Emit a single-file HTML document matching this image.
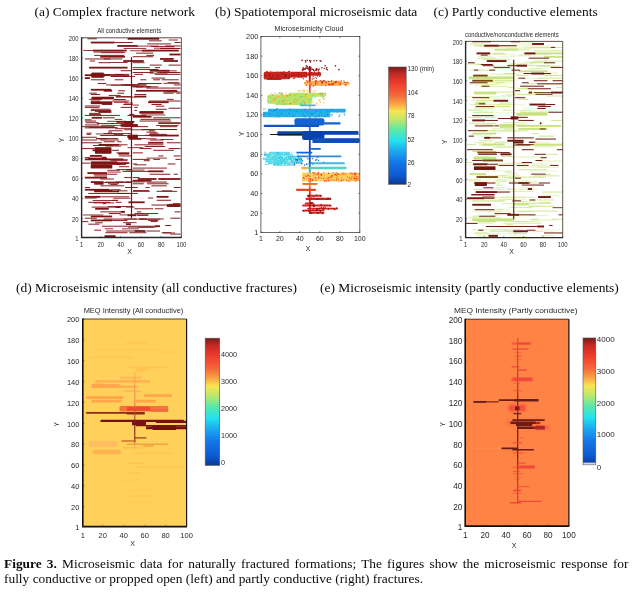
<!DOCTYPE html>
<html><head><meta charset="utf-8"><title>Figure 3</title>
<style>
html,body{margin:0;padding:0;background:#fff;}
body{width:632px;height:592px;position:relative;overflow:hidden;font-family:"Liberation Serif",serif;color:#0a0a0a;}
.h{position:absolute;font-size:13.47px;line-height:16px;white-space:nowrap;}
.cap{position:absolute;left:4px;width:624.5px;font-size:13.4px;line-height:15.3px;text-align:justify;}
svg{position:absolute;left:0;top:0;filter:blur(0.35px);}
svg text{font-family:"Liberation Sans",sans-serif;fill:#2a2a2a;}
</style></head><body>
<svg width="632" height="592" viewBox="0 0 632 592">
<g id="pa">
<rect x="81.6" y="37.8" width="99.7" height="199.7" fill="#fff"/>
<g fill="#7e1414">
<rect x="139.53" y="218.79" width="20.95" height="0.85"/>
<rect x="150.8" y="46.16" width="23.76" height="0.85"/>
<rect x="100.8" y="52.3" width="24.62" height="0.85"/>
<rect x="124.34" y="102.63" width="8.72" height="0.85"/>
<rect x="104.85" y="228.36" width="8.45" height="0.85"/>
<rect x="160.48" y="139" width="12.71" height="0.85"/>
<rect x="92.67" y="200.13" width="25.13" height="0.85"/>
<rect x="168.68" y="39.57" width="9.17" height="0.85"/>
<rect x="167.61" y="82.26" width="11.17" height="0.85"/>
<rect x="119.6" y="214.48" width="29.08" height="0.85"/>
<rect x="167.19" y="90.92" width="10.36" height="0.85"/>
<rect x="103.59" y="133.11" width="27.45" height="0.85"/>
<rect x="100.87" y="124.9" width="28.46" height="0.85"/>
<rect x="82.86" y="214.55" width="20.47" height="0.85"/>
<rect x="114.62" y="118.95" width="7.58" height="0.85"/>
<rect x="123.08" y="222.24" width="13.58" height="0.85"/>
<rect x="162.93" y="232.54" width="12.15" height="0.85"/>
<rect x="127.62" y="147.28" width="15.7" height="0.85"/>
<rect x="83.31" y="50.12" width="19.88" height="0.85"/>
<rect x="155.83" y="70.45" width="20.97" height="0.85"/>
<rect x="147.97" y="129.13" width="28.31" height="0.85"/>
<rect x="100.23" y="159.26" width="27.43" height="0.85"/>
<rect x="141.39" y="114.54" width="23.96" height="0.85"/>
<rect x="88.89" y="127.1" width="28.7" height="0.85"/>
<rect x="94.9" y="111.19" width="14.7" height="0.85"/>
<rect x="107.16" y="120.84" width="19.08" height="0.85"/>
<rect x="128.06" y="226.71" width="25.17" height="0.85"/>
<rect x="93.55" y="51.64" width="29.92" height="0.85"/>
<rect x="153.98" y="47.71" width="20.42" height="0.85"/>
<rect x="146.59" y="157.66" width="20.26" height="0.85"/>
<rect x="168.96" y="203.86" width="9.5" height="0.85"/>
<rect x="149.55" y="72.67" width="17.85" height="0.85"/>
<rect x="92.98" y="145.05" width="19.54" height="0.85"/>
<rect x="94.73" y="147.23" width="16.43" height="0.85"/>
<rect x="163.37" y="82.81" width="16.88" height="0.85"/>
<rect x="122.05" y="228.44" width="16.88" height="0.85"/>
<rect x="122.61" y="76.03" width="12.58" height="0.85"/>
<rect x="120.87" y="84.56" width="25.73" height="0.85"/>
<rect x="109.58" y="62.12" width="17.98" height="0.85"/>
<rect x="126.08" y="169.61" width="18.36" height="0.85"/>
<rect x="139.04" y="218.51" width="24.86" height="0.85"/>
<rect x="110.38" y="184.09" width="6.82" height="0.85"/>
<rect x="123.86" y="218.61" width="12.74" height="0.85"/>
<rect x="105.97" y="84.52" width="28.97" height="0.85"/>
<rect x="132.61" y="104.62" width="6.28" height="0.85"/>
<rect x="107.19" y="169.84" width="12.57" height="0.85"/>
<rect x="107.84" y="206.14" width="25.14" height="0.85"/>
<rect x="110.87" y="84.76" width="28.5" height="0.85"/>
<rect x="155.98" y="125.07" width="22.52" height="0.85"/>
<rect x="95.73" y="133.53" width="18.7" height="0.85"/>
<rect x="138.08" y="226.7" width="17.45" height="0.85"/>
<rect x="132.99" y="190.03" width="16" height="0.85"/>
<rect x="103.55" y="182.12" width="28.47" height="0.85"/>
<rect x="137.65" y="45.65" width="21.28" height="0.85"/>
<rect x="131.04" y="86.27" width="20.07" height="0.85"/>
<rect x="130.06" y="50.34" width="22.46" height="0.85"/>
<rect x="93.9" y="74" width="29.51" height="0.85"/>
<rect x="115.65" y="181.53" width="29.23" height="0.85"/>
<rect x="113.23" y="197.8" width="17.17" height="0.85"/>
<rect x="144.92" y="134.81" width="10.9" height="0.85"/>
<rect x="105.43" y="145.65" width="15.73" height="0.85"/>
<rect x="123.73" y="47.96" width="22.53" height="0.85"/>
<rect x="107.54" y="171.62" width="13.23" height="0.85"/>
<rect x="157.12" y="72.22" width="19.94" height="0.85"/>
<rect x="128.97" y="135.18" width="25.51" height="0.85"/>
<rect x="116.26" y="164" width="9.76" height="0.85"/>
<rect x="124.27" y="129.38" width="29.23" height="0.85"/>
<rect x="111.55" y="123.08" width="21.88" height="0.85"/>
<rect x="93.42" y="202.5" width="20.76" height="0.85"/>
<rect x="116.15" y="96.63" width="19.54" height="0.85"/>
<rect x="87.4" y="38.31" width="9.4" height="0.95"/>
<rect x="127.56" y="37.88" width="31.61" height="1.8"/>
<rect x="148.92" y="40.36" width="12.82" height="0.95"/>
<rect x="90.82" y="41.64" width="23.92" height="1.8"/>
<rect x="114.74" y="42.07" width="17.94" height="0.95"/>
<rect x="174.55" y="42.07" width="5.98" height="0.95"/>
<rect x="147.21" y="43.44" width="23.92" height="0.95"/>
<rect x="117.3" y="45.06" width="20.51" height="1.8"/>
<rect x="165.15" y="45.49" width="15.38" height="0.95"/>
<rect x="160.03" y="48.05" width="20.51" height="0.95"/>
<rect x="93.04" y="49.68" width="33.66" height="1.8"/>
<rect x="142.08" y="49.68" width="36.74" height="1.8"/>
<rect x="136.1" y="52.66" width="17.09" height="0.95"/>
<rect x="169.42" y="53.61" width="11.11" height="1.8"/>
<rect x="94.23" y="54.89" width="29.91" height="0.95"/>
<rect x="146.35" y="54.89" width="7.69" height="0.95"/>
<rect x="100.22" y="55.83" width="24.78" height="1.8"/>
<rect x="132.68" y="56.25" width="20.51" height="0.95"/>
<rect x="84.84" y="58.47" width="25.63" height="0.95"/>
<rect x="103.63" y="58.47" width="18.8" height="0.95"/>
<rect x="160.03" y="58.05" width="13.67" height="1.8"/>
<rect x="89.96" y="60.52" width="5.13" height="0.95"/>
<rect x="123.28" y="60.1" width="20.51" height="1.8"/>
<rect x="163.44" y="60.1" width="14.53" height="1.8"/>
<rect x="98.51" y="62.23" width="11.96" height="0.95"/>
<rect x="132.68" y="62.23" width="11.96" height="0.95"/>
<rect x="149.77" y="64.63" width="11.96" height="0.95"/>
<rect x="168.57" y="64.63" width="11.96" height="0.95"/>
<rect x="89.11" y="66.76" width="38.45" height="1.8"/>
<rect x="132.68" y="67.19" width="17.09" height="0.95"/>
<rect x="154.9" y="67.19" width="5.13" height="0.95"/>
<rect x="132.68" y="69.07" width="25.63" height="0.95"/>
<rect x="120.72" y="70.27" width="10.25" height="0.95"/>
<rect x="149.77" y="69.84" width="19.65" height="1.8"/>
<rect x="132.68" y="71.97" width="20.51" height="0.95"/>
<rect x="160.03" y="71.97" width="20.51" height="0.95"/>
<rect x="90.82" y="73.43" width="13.67" height="1.8"/>
<rect x="114.74" y="73.85" width="14.53" height="0.95"/>
<rect x="134.39" y="73.85" width="8.54" height="0.95"/>
<rect x="154.9" y="73.85" width="25.63" height="0.95"/>
<rect x="84.84" y="74.28" width="25.63" height="1.8"/>
<rect x="90.82" y="74.28" width="13.67" height="1.8"/>
<rect x="90.82" y="75.14" width="13.67" height="1.8"/>
<rect x="110.47" y="75.14" width="18.8" height="1.8"/>
<rect x="91.67" y="72.57" width="11.96" height="1.8"/>
<rect x="91.67" y="75.99" width="11.96" height="1.8"/>
<rect x="84.84" y="77.19" width="5.13" height="1.8"/>
<rect x="151.48" y="77.61" width="13.67" height="0.95"/>
<rect x="90.82" y="79.32" width="13.67" height="0.95"/>
<rect x="114.74" y="79.32" width="8.54" height="0.95"/>
<rect x="140.37" y="79.32" width="5.98" height="0.95"/>
<rect x="153.19" y="79.32" width="6.84" height="0.95"/>
<rect x="161.73" y="79.32" width="17.09" height="0.95"/>
<rect x="97.65" y="83.08" width="8.54" height="0.95"/>
<rect x="137.81" y="83.08" width="23.92" height="0.95"/>
<rect x="124.99" y="84.45" width="21.36" height="0.95"/>
<rect x="173.7" y="84.45" width="6.84" height="0.95"/>
<rect x="136.1" y="86.5" width="13.67" height="0.95"/>
<rect x="146.35" y="87.58" width="34.18" height="0.95"/>
<rect x="163.44" y="91.51" width="17.09" height="0.95"/>
<rect x="90.82" y="94.07" width="9.4" height="0.95"/>
<rect x="134.39" y="94.07" width="11.96" height="0.95"/>
<rect x="113.89" y="99.03" width="11.96" height="0.95"/>
<rect x="84.84" y="105.52" width="15.38" height="0.95"/>
<rect x="90.82" y="108.77" width="19.65" height="0.95"/>
<rect x="155.75" y="108.77" width="11.11" height="0.95"/>
<rect x="89.11" y="113.89" width="11.96" height="0.95"/>
<rect x="129.27" y="113.89" width="5.13" height="0.95"/>
<rect x="140.37" y="118.85" width="29.91" height="0.95"/>
<rect x="85.69" y="122.27" width="12.82" height="0.95"/>
<rect x="158.32" y="122.27" width="22.22" height="0.95"/>
<rect x="84.84" y="127.39" width="29.05" height="0.95"/>
<rect x="141.23" y="129.1" width="6.84" height="0.95"/>
<rect x="160.03" y="129.1" width="17.09" height="0.95"/>
<rect x="86.54" y="132.69" width="5.13" height="0.95"/>
<rect x="149.77" y="132.69" width="8.54" height="0.95"/>
<rect x="81.42" y="139.53" width="15.38" height="0.95"/>
<rect x="100.22" y="139.53" width="18.8" height="0.95"/>
<rect x="149.77" y="139.53" width="13.67" height="0.95"/>
<rect x="132.68" y="86.38" width="10.25" height="0.95"/>
<rect x="146.35" y="86.38" width="11.96" height="0.95"/>
<rect x="90.82" y="88.86" width="20.51" height="1.8"/>
<rect x="103.63" y="89.88" width="8.54" height="1.8"/>
<rect x="118.16" y="90.31" width="6.84" height="0.95"/>
<rect x="136.1" y="89.88" width="41.01" height="1.8"/>
<rect x="89.11" y="92.7" width="7.69" height="0.95"/>
<rect x="117.3" y="92.7" width="6.84" height="0.95"/>
<rect x="163.44" y="92.7" width="10.25" height="0.95"/>
<rect x="176.26" y="92.7" width="4.27" height="0.95"/>
<rect x="108.76" y="94.92" width="11.96" height="0.95"/>
<rect x="115.59" y="96.12" width="15.38" height="0.95"/>
<rect x="134.39" y="95.69" width="11.96" height="1.8"/>
<rect x="91.67" y="96.72" width="22.22" height="1.8"/>
<rect x="91.67" y="97.57" width="22.22" height="1.8"/>
<rect x="89.11" y="98.85" width="12.82" height="0.95"/>
<rect x="166.86" y="98.85" width="6.84" height="0.95"/>
<rect x="90.82" y="100.56" width="9.4" height="0.95"/>
<rect x="112.18" y="100.56" width="17.09" height="0.95"/>
<rect x="148.92" y="100.56" width="31.61" height="0.95"/>
<rect x="90.82" y="101.33" width="21.36" height="1.8"/>
<rect x="113.89" y="101.76" width="13.67" height="0.95"/>
<rect x="148.06" y="101.33" width="20.51" height="1.8"/>
<rect x="90.82" y="102.36" width="21.36" height="1.8"/>
<rect x="101.92" y="103.98" width="10.25" height="0.95"/>
<rect x="123.28" y="103.98" width="9.4" height="0.95"/>
<rect x="151.48" y="103.98" width="10.25" height="0.95"/>
<rect x="155.75" y="105.69" width="8.54" height="0.95"/>
<rect x="84.84" y="106.89" width="14.53" height="0.95"/>
<rect x="120.72" y="106.89" width="10.25" height="0.95"/>
<rect x="134.39" y="106.89" width="3.42" height="0.95"/>
<rect x="168.57" y="107.74" width="11.96" height="0.95"/>
<rect x="90.82" y="109.96" width="20.51" height="0.95"/>
<rect x="134.39" y="109.96" width="2.56" height="0.95"/>
<rect x="98.51" y="111.07" width="12.82" height="1.8"/>
<rect x="139.52" y="111.07" width="23.92" height="1.8"/>
<rect x="139.52" y="111.93" width="23.92" height="1.8"/>
<rect x="89.11" y="112.87" width="11.11" height="0.95"/>
<rect x="84.84" y="114.92" width="35.03" height="0.95"/>
<rect x="127.56" y="114.92" width="18.8" height="0.95"/>
<rect x="132.68" y="115.86" width="18.8" height="1.8"/>
<rect x="91.67" y="116.88" width="10.25" height="1.8"/>
<rect x="102.78" y="117.31" width="11.96" height="0.95"/>
<rect x="153.19" y="117.31" width="27.34" height="0.95"/>
<rect x="84.84" y="119.36" width="6.84" height="0.95"/>
<rect x="84.84" y="120.56" width="11.11" height="0.95"/>
<rect x="139.52" y="120.56" width="31.61" height="0.95"/>
<rect x="116.45" y="120.99" width="17.94" height="1.8"/>
<rect x="124.14" y="120.99" width="8.54" height="1.8"/>
<rect x="124.14" y="122.01" width="8.54" height="1.8"/>
<rect x="96.8" y="123.12" width="17.09" height="0.95"/>
<rect x="158.32" y="123.12" width="22.22" height="0.95"/>
<rect x="84.84" y="124.49" width="14.53" height="0.95"/>
<rect x="120.72" y="124.06" width="17.09" height="1.8"/>
<rect x="124.14" y="125.09" width="13.67" height="1.8"/>
<rect x="81.42" y="126.2" width="33.32" height="0.95"/>
<rect x="120.72" y="126.2" width="27.34" height="0.95"/>
<rect x="160.03" y="126.2" width="17.09" height="0.95"/>
<rect x="114.74" y="128.25" width="16.23" height="0.95"/>
<rect x="108.76" y="130.3" width="13.67" height="0.95"/>
<rect x="148.92" y="130.3" width="5.98" height="0.95"/>
<rect x="107.91" y="131.66" width="4.27" height="0.95"/>
<rect x="146.35" y="131.66" width="10.25" height="0.95"/>
<rect x="86.54" y="133.89" width="4.27" height="0.95"/>
<rect x="113.89" y="133.89" width="9.4" height="0.95"/>
<rect x="148.92" y="133.89" width="17.94" height="0.95"/>
<rect x="100.22" y="135.08" width="27.34" height="0.95"/>
<rect x="127.56" y="134.66" width="10.25" height="1.8"/>
<rect x="150.63" y="134.66" width="28.2" height="1.8"/>
<rect x="127.56" y="135.68" width="10.25" height="1.8"/>
<rect x="81.42" y="136.79" width="15.38" height="0.95"/>
<rect x="127.56" y="136.37" width="10.25" height="1.8"/>
<rect x="95.94" y="138.16" width="22.22" height="0.95"/>
<rect x="137.81" y="138.16" width="8.54" height="0.95"/>
<rect x="96.8" y="138.38" width="10.25" height="0.95"/>
<rect x="128.41" y="137.95" width="12.82" height="1.8"/>
<rect x="146.35" y="138.38" width="10.25" height="0.95"/>
<rect x="103.63" y="141.28" width="11.11" height="0.95"/>
<rect x="117.3" y="141.28" width="4.27" height="0.95"/>
<rect x="81.42" y="142.31" width="20.51" height="0.95"/>
<rect x="148.06" y="141.88" width="15.38" height="1.8"/>
<rect x="166.86" y="142.31" width="13.67" height="0.95"/>
<rect x="98.51" y="143.94" width="20.51" height="1.8"/>
<rect x="119.01" y="144.36" width="8.54" height="0.95"/>
<rect x="134.39" y="144.36" width="29.05" height="0.95"/>
<rect x="144.65" y="146.07" width="20.51" height="0.95"/>
<rect x="81.42" y="148.12" width="13.67" height="0.95"/>
<rect x="95.09" y="147.69" width="16.23" height="1.8"/>
<rect x="139.52" y="148.12" width="11.96" height="0.95"/>
<rect x="168.57" y="148.12" width="11.96" height="0.95"/>
<rect x="95.09" y="148.55" width="16.23" height="1.8"/>
<rect x="92.53" y="149.4" width="18.8" height="1.8"/>
<rect x="112.18" y="149.83" width="6.84" height="0.95"/>
<rect x="153.19" y="149.83" width="20.51" height="0.95"/>
<rect x="95.09" y="150.26" width="16.23" height="1.8"/>
<rect x="95.09" y="151.11" width="16.23" height="1.8"/>
<rect x="95.09" y="151.97" width="16.23" height="1.8"/>
<rect x="116.45" y="152.39" width="12.82" height="0.95"/>
<rect x="132.68" y="152.39" width="10.25" height="0.95"/>
<rect x="118.16" y="152.82" width="11.11" height="1.8"/>
<rect x="89.96" y="155.04" width="11.96" height="1.8"/>
<rect x="119.01" y="155.47" width="11.96" height="0.95"/>
<rect x="158.32" y="155.47" width="5.13" height="0.95"/>
<rect x="173.7" y="155.47" width="6.84" height="0.95"/>
<rect x="84.84" y="157.18" width="5.13" height="0.95"/>
<rect x="101.92" y="156.75" width="4.27" height="1.8"/>
<rect x="88.25" y="157.61" width="18.8" height="1.8"/>
<rect x="84.84" y="158.46" width="38.45" height="1.8"/>
<rect x="132.68" y="158.89" width="17.09" height="0.95"/>
<rect x="153.19" y="158.89" width="6.84" height="0.95"/>
<rect x="175.41" y="158.89" width="5.13" height="0.95"/>
<rect x="110.47" y="160.25" width="17.09" height="0.95"/>
<rect x="143.79" y="160.25" width="5.98" height="0.95"/>
<rect x="90.82" y="161.37" width="26.49" height="1.8"/>
<rect x="81.42" y="162.65" width="8.54" height="0.95"/>
<rect x="90.82" y="162.22" width="38.45" height="1.8"/>
<rect x="90.82" y="163.07" width="29.91" height="1.8"/>
<rect x="132.68" y="163.5" width="4.27" height="0.95"/>
<rect x="167.72" y="163.5" width="7.69" height="0.95"/>
<rect x="134.39" y="164.35" width="11.96" height="0.95"/>
<rect x="90.82" y="164.95" width="21.36" height="1.8"/>
<rect x="90.82" y="165.81" width="21.36" height="1.8"/>
<rect x="119.01" y="166.23" width="10.25" height="0.95"/>
<rect x="90.82" y="166.66" width="21.36" height="1.8"/>
<rect x="132.68" y="167.6" width="34.18" height="0.95"/>
<rect x="116.45" y="169.14" width="14.53" height="0.95"/>
<rect x="122.43" y="170.85" width="25.63" height="0.95"/>
<rect x="148.06" y="170.42" width="15.38" height="1.8"/>
<rect x="87.4" y="172.13" width="19.65" height="1.8"/>
<rect x="93.38" y="173.75" width="23.92" height="0.95"/>
<rect x="149.77" y="173.75" width="20.51" height="0.95"/>
<rect x="173.7" y="173.75" width="4.27" height="0.95"/>
<rect x="94.23" y="175.46" width="12.82" height="0.95"/>
<rect x="84.84" y="176.75" width="22.22" height="1.8"/>
<rect x="124.14" y="177.17" width="6.84" height="0.95"/>
<rect x="132.68" y="177.17" width="6.84" height="0.95"/>
<rect x="100.22" y="178.54" width="13.67" height="0.95"/>
<rect x="137.81" y="178.11" width="18.8" height="1.8"/>
<rect x="158.32" y="178.11" width="22.22" height="1.8"/>
<rect x="132.68" y="179.82" width="18.8" height="1.8"/>
<rect x="90.82" y="181.19" width="12.82" height="1.8"/>
<rect x="105.34" y="181.61" width="17.94" height="0.95"/>
<rect x="125.85" y="181.61" width="5.13" height="0.95"/>
<rect x="146.35" y="181.61" width="20.51" height="0.95"/>
<rect x="94.23" y="182.9" width="9.4" height="1.8"/>
<rect x="107.91" y="183.32" width="11.11" height="0.95"/>
<rect x="132.68" y="183.32" width="11.11" height="0.95"/>
<rect x="147.21" y="183.32" width="21.36" height="0.95"/>
<rect x="100.22" y="185.37" width="23.92" height="0.95"/>
<rect x="151.48" y="185.37" width="15.38" height="0.95"/>
<rect x="84.84" y="187.08" width="5.13" height="0.95"/>
<rect x="124.99" y="187.08" width="12.82" height="0.95"/>
<rect x="145.5" y="187.08" width="4.27" height="0.95"/>
<rect x="173.7" y="187.08" width="6.84" height="0.95"/>
<rect x="84.84" y="188.88" width="24.78" height="1.8"/>
<rect x="110.47" y="189.3" width="10.25" height="0.95"/>
<rect x="94.23" y="190.42" width="24.78" height="1.8"/>
<rect x="132.68" y="190.84" width="17.09" height="0.95"/>
<rect x="156.61" y="190.84" width="20.51" height="0.95"/>
<rect x="94.23" y="189.95" width="17.94" height="1.8"/>
<rect x="117.3" y="190.38" width="10.25" height="0.95"/>
<rect x="161.73" y="190.38" width="10.25" height="0.95"/>
<rect x="88.25" y="192.94" width="41.01" height="0.95"/>
<rect x="117.3" y="192.94" width="20.51" height="0.95"/>
<rect x="84.84" y="195.94" width="15.38" height="1.8"/>
<rect x="100.22" y="196.36" width="29.05" height="0.95"/>
<rect x="156.61" y="195.94" width="11.96" height="1.8"/>
<rect x="84.84" y="197.56" width="11.96" height="0.95"/>
<rect x="148.06" y="197.56" width="5.13" height="0.95"/>
<rect x="112.18" y="199.78" width="5.98" height="0.95"/>
<rect x="156.61" y="199.78" width="14.53" height="0.95"/>
<rect x="88.25" y="201.83" width="22.22" height="0.95"/>
<rect x="115.59" y="201.83" width="5.98" height="0.95"/>
<rect x="128.41" y="201.4" width="16.23" height="1.8"/>
<rect x="102.78" y="203.2" width="3.42" height="0.95"/>
<rect x="172.84" y="203.2" width="7.69" height="0.95"/>
<rect x="151.48" y="204.56" width="15.38" height="0.95"/>
<rect x="166.86" y="204.14" width="13.67" height="1.8"/>
<rect x="166.86" y="205.16" width="13.67" height="1.8"/>
<rect x="91.67" y="206.61" width="29.05" height="0.95"/>
<rect x="115.59" y="206.19" width="5.13" height="1.8"/>
<rect x="125.85" y="206.61" width="8.54" height="0.95"/>
<rect x="95.09" y="207.9" width="13.67" height="1.8"/>
<rect x="134.39" y="208.32" width="18.8" height="0.95"/>
<rect x="154.9" y="208.32" width="8.54" height="0.95"/>
<rect x="100.22" y="211.4" width="23.92" height="0.95"/>
<rect x="120.72" y="210.97" width="4.27" height="1.8"/>
<rect x="136.96" y="211.4" width="4.27" height="0.95"/>
<rect x="174.55" y="211.4" width="5.98" height="0.95"/>
<rect x="108.76" y="213.11" width="11.96" height="0.95"/>
<rect x="134.39" y="213.11" width="23.92" height="0.95"/>
<rect x="127.56" y="214.39" width="8.54" height="1.8"/>
<rect x="136.96" y="214.82" width="11.11" height="0.95"/>
<rect x="90.82" y="215.59" width="21.36" height="1.8"/>
<rect x="84.84" y="217.72" width="11.96" height="0.95"/>
<rect x="170.28" y="217.72" width="10.25" height="0.95"/>
<rect x="103.63" y="218.58" width="23.92" height="0.95"/>
<rect x="127.56" y="218.58" width="18.8" height="0.95"/>
<rect x="90.82" y="219.52" width="21.36" height="1.8"/>
<rect x="112.18" y="219.94" width="15.38" height="0.95"/>
<rect x="148.06" y="219.94" width="10.25" height="0.95"/>
<rect x="81.42" y="221.14" width="6.84" height="0.95"/>
<rect x="150.63" y="221.14" width="6.84" height="0.95"/>
<rect x="95.09" y="222.34" width="7.69" height="0.95"/>
<rect x="88.25" y="223.7" width="11.11" height="0.95"/>
<rect x="125.85" y="223.28" width="5.13" height="1.8"/>
<rect x="165.15" y="225.07" width="5.98" height="0.95"/>
<rect x="101.92" y="225.75" width="56.39" height="0.95"/>
<rect x="154.9" y="225.33" width="5.13" height="1.8"/>
<rect x="94.23" y="229.68" width="6.84" height="0.95"/>
<rect x="106.2" y="230.54" width="28.2" height="0.95"/>
<rect x="134.39" y="230.11" width="11.11" height="1.8"/>
<rect x="146.35" y="230.54" width="13.67" height="0.95"/>
<rect x="105.34" y="232.25" width="22.22" height="0.95"/>
<rect x="129.27" y="232.25" width="17.09" height="0.95"/>
<rect x="161.73" y="232.25" width="9.4" height="0.95"/>
<rect x="170.28" y="233.61" width="10.25" height="0.95"/>
<rect x="104.49" y="235.24" width="11.11" height="1.8"/>
</g>
<line x1="131.5" y1="57" x2="131.5" y2="218.2" stroke="#6a1414" stroke-width="1.2"/>
<path d="M81.6 37.8H181.3V237.5" fill="none" stroke="#3a1a1a" stroke-width="0.8"/>
<path d="M81.6 37.3V237.5H181.70000000000002" fill="none" stroke="#26282c" stroke-width="1.4"/>
<text x="78.6" y="40.92" text-anchor="end" font-size="7" textLength="9.81" lengthAdjust="spacingAndGlyphs">200</text><line x1="81.6" y1="37.8" x2="83.1" y2="37.8" stroke="#333" stroke-width="0.6"/><text x="78.6" y="60.99" text-anchor="end" font-size="7" textLength="9.81" lengthAdjust="spacingAndGlyphs">180</text><line x1="81.6" y1="57.87" x2="83.1" y2="57.87" stroke="#333" stroke-width="0.6"/><text x="78.6" y="81.06" text-anchor="end" font-size="7" textLength="9.81" lengthAdjust="spacingAndGlyphs">160</text><line x1="81.6" y1="77.94" x2="83.1" y2="77.94" stroke="#333" stroke-width="0.6"/><text x="78.6" y="101.13" text-anchor="end" font-size="7" textLength="9.81" lengthAdjust="spacingAndGlyphs">140</text><line x1="81.6" y1="98.01" x2="83.1" y2="98.01" stroke="#333" stroke-width="0.6"/><text x="78.6" y="121.2" text-anchor="end" font-size="7" textLength="9.81" lengthAdjust="spacingAndGlyphs">120</text><line x1="81.6" y1="118.08" x2="83.1" y2="118.08" stroke="#333" stroke-width="0.6"/><text x="78.6" y="141.27" text-anchor="end" font-size="7" textLength="9.81" lengthAdjust="spacingAndGlyphs">100</text><line x1="81.6" y1="138.15" x2="83.1" y2="138.15" stroke="#333" stroke-width="0.6"/><text x="78.6" y="161.34" text-anchor="end" font-size="7" textLength="6.54" lengthAdjust="spacingAndGlyphs">80</text><line x1="81.6" y1="158.22" x2="83.1" y2="158.22" stroke="#333" stroke-width="0.6"/><text x="78.6" y="181.41" text-anchor="end" font-size="7" textLength="6.54" lengthAdjust="spacingAndGlyphs">60</text><line x1="81.6" y1="178.29" x2="83.1" y2="178.29" stroke="#333" stroke-width="0.6"/><text x="78.6" y="201.48" text-anchor="end" font-size="7" textLength="6.54" lengthAdjust="spacingAndGlyphs">40</text><line x1="81.6" y1="198.36" x2="83.1" y2="198.36" stroke="#333" stroke-width="0.6"/><text x="78.6" y="221.55" text-anchor="end" font-size="7" textLength="6.54" lengthAdjust="spacingAndGlyphs">20</text><line x1="81.6" y1="218.43" x2="83.1" y2="218.43" stroke="#333" stroke-width="0.6"/><text x="78.6" y="240.62" text-anchor="end" font-size="7" textLength="3.27" lengthAdjust="spacingAndGlyphs">1</text><line x1="81.6" y1="237.5" x2="83.1" y2="237.5" stroke="#333" stroke-width="0.6"/>
<text x="81.6" y="247.1" text-anchor="middle" font-size="7" textLength="3.27" lengthAdjust="spacingAndGlyphs">1</text><line x1="81.6" y1="237.5" x2="81.6" y2="236" stroke="#333" stroke-width="0.6"/><text x="100.73" y="247.1" text-anchor="middle" font-size="7" textLength="6.54" lengthAdjust="spacingAndGlyphs">20</text><line x1="100.73" y1="237.5" x2="100.73" y2="236" stroke="#333" stroke-width="0.6"/><text x="120.88" y="247.1" text-anchor="middle" font-size="7" textLength="6.54" lengthAdjust="spacingAndGlyphs">40</text><line x1="120.88" y1="237.5" x2="120.88" y2="236" stroke="#333" stroke-width="0.6"/><text x="141.02" y="247.1" text-anchor="middle" font-size="7" textLength="6.54" lengthAdjust="spacingAndGlyphs">60</text><line x1="141.02" y1="237.5" x2="141.02" y2="236" stroke="#333" stroke-width="0.6"/><text x="161.16" y="247.1" text-anchor="middle" font-size="7" textLength="6.54" lengthAdjust="spacingAndGlyphs">80</text><line x1="161.16" y1="237.5" x2="161.16" y2="236" stroke="#333" stroke-width="0.6"/><text x="181.3" y="247.1" text-anchor="middle" font-size="7" textLength="9.81" lengthAdjust="spacingAndGlyphs">100</text><line x1="181.3" y1="237.5" x2="181.3" y2="236" stroke="#333" stroke-width="0.6"/>
<text x="129.2" y="33.2" text-anchor="middle" font-size="6.6" textLength="64" lengthAdjust="spacingAndGlyphs">All conductive elements</text><text x="129.5" y="254" text-anchor="middle" font-size="7">X</text><text transform="translate(63.5,140.2) rotate(-90)" text-anchor="middle" font-size="7">Y</text>
</g>
<g id="pc">
<rect x="465.6" y="41.4" width="97.1" height="196.2" fill="#fff"/>
<rect x="507.76" y="162.55" width="21.57" height="1.1" fill="#cfe68a" fill-opacity="0.35"/>
<rect x="532.04" y="164.68" width="13.7" height="1.1" fill="#cfe68a" fill-opacity="0.45"/>
<rect x="492.17" y="65.64" width="10.82" height="1.1" fill="#cfe68a" fill-opacity="0.35"/>
<rect x="507.13" y="144.68" width="27.03" height="1.1" fill="#cfe68a" fill-opacity="0.35"/>
<rect x="508.81" y="202.69" width="30.17" height="1.1" fill="#cfe68a" fill-opacity="0.35"/>
<rect x="469.64" y="104.06" width="9.89" height="1.1" fill="#cfe68a" fill-opacity="0.6"/>
<rect x="512.29" y="93.91" width="17.79" height="1.1" fill="#cfe68a" fill-opacity="0.35"/>
<rect x="466.96" y="63.57" width="16.82" height="1.1" fill="#cfe68a" fill-opacity="0.6"/>
<rect x="507.89" y="63.72" width="20.2" height="1.1" fill="#cfe68a" fill-opacity="0.6"/>
<rect x="499.61" y="49.2" width="30.74" height="1.1" fill="#cfe68a" fill-opacity="0.45"/>
<rect x="530.17" y="142.12" width="20.01" height="1.1" fill="#cfe68a" fill-opacity="0.45"/>
<rect x="466.63" y="96.18" width="33.42" height="1.1" fill="#cfe68a" fill-opacity="0.45"/>
<rect x="538.17" y="144.35" width="22.1" height="1.1" fill="#cfe68a" fill-opacity="0.35"/>
<rect x="519.71" y="111.98" width="26.88" height="1.1" fill="#cfe68a" fill-opacity="0.6"/>
<rect x="540.95" y="73.48" width="17.98" height="1.1" fill="#cfe68a" fill-opacity="0.35"/>
<rect x="471.64" y="168.45" width="11.03" height="1.1" fill="#cfe68a" fill-opacity="0.35"/>
<rect x="508.05" y="231.42" width="13.65" height="1.1" fill="#cfe68a" fill-opacity="0.6"/>
<rect x="474.5" y="150.75" width="27.31" height="1.1" fill="#cfe68a" fill-opacity="0.45"/>
<rect x="543.31" y="194.78" width="16.09" height="1.1" fill="#cfe68a" fill-opacity="0.45"/>
<rect x="498.45" y="199.03" width="14.32" height="1.1" fill="#cfe68a" fill-opacity="0.45"/>
<rect x="479.16" y="156.37" width="9.26" height="1.1" fill="#cfe68a" fill-opacity="0.35"/>
<rect x="489.49" y="61.32" width="17.87" height="1.1" fill="#cfe68a" fill-opacity="0.45"/>
<rect x="483.52" y="196.84" width="25.48" height="1.1" fill="#cfe68a" fill-opacity="0.35"/>
<rect x="537.1" y="166.82" width="21.6" height="1.1" fill="#cfe68a" fill-opacity="0.45"/>
<rect x="477.77" y="81.67" width="34" height="1.1" fill="#cfe68a" fill-opacity="0.45"/>
<rect x="482.21" y="91.68" width="32.53" height="1.1" fill="#cfe68a" fill-opacity="0.35"/>
<rect x="478.18" y="142.61" width="36.21" height="1.1" fill="#cfe68a" fill-opacity="0.35"/>
<rect x="470.62" y="69.38" width="10.35" height="1.1" fill="#cfe68a" fill-opacity="0.6"/>
<rect x="522.93" y="107.99" width="15.15" height="1.1" fill="#cfe68a" fill-opacity="0.35"/>
<rect x="504.24" y="229.53" width="22.73" height="1.1" fill="#cfe68a" fill-opacity="0.45"/>
<rect x="511.49" y="201.03" width="14.85" height="1.1" fill="#cfe68a" fill-opacity="0.6"/>
<rect x="540.46" y="235.01" width="14.37" height="1.1" fill="#cfe68a" fill-opacity="0.6"/>
<rect x="485.22" y="53.31" width="20.34" height="1.1" fill="#cfe68a" fill-opacity="0.6"/>
<rect x="535.85" y="65.54" width="23.93" height="1.1" fill="#cfe68a" fill-opacity="0.6"/>
<rect x="504.5" y="221.17" width="37.41" height="1.1" fill="#cfe68a" fill-opacity="0.45"/>
<rect x="530.7" y="164.85" width="25.7" height="1.1" fill="#cfe68a" fill-opacity="0.35"/>
<rect x="469.21" y="197" width="17.35" height="1.1" fill="#cfe68a" fill-opacity="0.6"/>
<rect x="493.07" y="78.04" width="10.02" height="1.1" fill="#cfe68a" fill-opacity="0.45"/>
<rect x="493.63" y="53.74" width="21.59" height="1.1" fill="#cfe68a" fill-opacity="0.35"/>
<rect x="475.02" y="130.17" width="30.11" height="1.1" fill="#cfe68a" fill-opacity="0.35"/>
<rect x="472.26" y="150.73" width="22.2" height="1.1" fill="#cfe68a" fill-opacity="0.45"/>
<rect x="501.65" y="203.08" width="33.9" height="1.1" fill="#cfe68a" fill-opacity="0.6"/>
<rect x="508.99" y="63.35" width="25.48" height="1.1" fill="#cfe68a" fill-opacity="0.45"/>
<rect x="517.01" y="231.16" width="37.8" height="1.1" fill="#cfe68a" fill-opacity="0.35"/>
<rect x="496.94" y="162.78" width="28.82" height="1.1" fill="#cfe68a" fill-opacity="0.45"/>
<rect x="503.41" y="122.24" width="23.56" height="1.1" fill="#cfe68a" fill-opacity="0.6"/>
<rect x="549.35" y="71.68" width="8.67" height="1.1" fill="#cfe68a" fill-opacity="0.35"/>
<rect x="499.33" y="45.34" width="27.8" height="1.1" fill="#cfe68a" fill-opacity="0.45"/>
<rect x="480.12" y="85.97" width="28.34" height="1.1" fill="#cfe68a" fill-opacity="0.6"/>
<rect x="496.34" y="103.9" width="27.8" height="1.1" fill="#cfe68a" fill-opacity="0.35"/>
<rect x="517.07" y="237.57" width="15.52" height="1.1" fill="#cfe68a" fill-opacity="0.45"/>
<rect x="510.66" y="124.03" width="19.53" height="1.1" fill="#cfe68a" fill-opacity="0.45"/>
<rect x="527.04" y="53.63" width="22.89" height="1.1" fill="#cfe68a" fill-opacity="0.6"/>
<rect x="473.65" y="164.47" width="32.66" height="1.1" fill="#cfe68a" fill-opacity="0.45"/>
<rect x="490.38" y="176.72" width="32.93" height="1.1" fill="#cfe68a" fill-opacity="0.6"/>
<rect x="521.84" y="202.95" width="29.49" height="1.1" fill="#cfe68a" fill-opacity="0.45"/>
<rect x="483.91" y="198.66" width="32.86" height="1.1" fill="#cfe68a" fill-opacity="0.35"/>
<rect x="494.47" y="211.23" width="16.43" height="1.1" fill="#cfe68a" fill-opacity="0.45"/>
<rect x="494.1" y="91.59" width="27.23" height="1.1" fill="#cfe68a" fill-opacity="0.6"/>
<rect x="477.87" y="55.81" width="15.12" height="1.1" fill="#cfe68a" fill-opacity="0.45"/>
<rect x="513.03" y="211.14" width="21.39" height="1.1" fill="#cfe68a" fill-opacity="0.6"/>
<rect x="506.54" y="94.09" width="36.75" height="1.1" fill="#cfe68a" fill-opacity="0.6"/>
<rect x="467.48" y="164.62" width="13.36" height="1.1" fill="#cfe68a" fill-opacity="0.45"/>
<rect x="488.86" y="132.3" width="13.37" height="1.1" fill="#cfe68a" fill-opacity="0.35"/>
<rect x="538.46" y="83.74" width="23.01" height="1.1" fill="#cfe68a" fill-opacity="0.35"/>
<rect x="471.82" y="229.17" width="35.19" height="1.1" fill="#cfe68a" fill-opacity="0.6"/>
<rect x="512.57" y="43.33" width="21.61" height="1.1" fill="#cfe68a" fill-opacity="0.35"/>
<rect x="500.54" y="130.24" width="27.58" height="1.1" fill="#cfe68a" fill-opacity="0.35"/>
<rect x="472.3" y="209.29" width="37.47" height="1.1" fill="#cfe68a" fill-opacity="0.45"/>
<rect x="539.23" y="65.91" width="14.4" height="1.1" fill="#cfe68a" fill-opacity="0.35"/>
<rect x="520.48" y="110.31" width="37.3" height="1.1" fill="#cfe68a" fill-opacity="0.45"/>
<rect x="472.94" y="156.43" width="18.46" height="1.1" fill="#cfe68a" fill-opacity="0.6"/>
<rect x="497.82" y="49.29" width="31.05" height="1.1" fill="#cfe68a" fill-opacity="0.45"/>
<rect x="469.21" y="180.66" width="20.87" height="1.1" fill="#cfe68a" fill-opacity="0.45"/>
<rect x="539.57" y="229.25" width="22.12" height="1.1" fill="#cfe68a" fill-opacity="0.35"/>
<rect x="529.42" y="170.71" width="28.68" height="1.1" fill="#cfe68a" fill-opacity="0.35"/>
<rect x="485.31" y="178.78" width="10.58" height="1.1" fill="#cfe68a" fill-opacity="0.35"/>
<rect x="478.15" y="174.91" width="24.85" height="1.1" fill="#cfe68a" fill-opacity="0.35"/>
<rect x="519.9" y="200.78" width="15.7" height="1.1" fill="#cfe68a" fill-opacity="0.45"/>
<rect x="497.03" y="190.86" width="37.05" height="1.1" fill="#cfe68a" fill-opacity="0.6"/>
<rect x="502.34" y="198.87" width="24.08" height="1.1" fill="#cfe68a" fill-opacity="0.35"/>
<rect x="496.54" y="146.45" width="37.08" height="1.1" fill="#cfe68a" fill-opacity="0.35"/>
<rect x="474.38" y="85.56" width="11.66" height="1.1" fill="#cfe68a" fill-opacity="0.35"/>
<rect x="534.12" y="146.28" width="21.77" height="1.1" fill="#cfe68a" fill-opacity="0.6"/>
<rect x="491.16" y="164.61" width="22.79" height="1.1" fill="#cfe68a" fill-opacity="0.45"/>
<rect x="516.87" y="109.84" width="13.74" height="1.1" fill="#cfe68a" fill-opacity="0.45"/>
<rect x="479.98" y="45.53" width="9.07" height="1.1" fill="#cfe68a" fill-opacity="0.6"/>
<rect x="482.59" y="170.42" width="29.71" height="1.1" fill="#cfe68a" fill-opacity="0.35"/>
<rect x="525.92" y="202.83" width="25.47" height="1.1" fill="#cfe68a" fill-opacity="0.45"/>
<rect x="524.65" y="47.37" width="29.04" height="1.1" fill="#cfe68a" fill-opacity="0.6"/>
<rect x="504.99" y="180.58" width="32.76" height="1.1" fill="#cfe68a" fill-opacity="0.35"/>
<rect x="482.12" y="98.15" width="24.02" height="1.1" fill="#cfe68a" fill-opacity="0.35"/>
<rect x="476.08" y="233.36" width="25.6" height="1.1" fill="#cfe68a" fill-opacity="0.6"/>
<rect x="485.56" y="124.43" width="35.08" height="1.1" fill="#cfe68a" fill-opacity="0.45"/>
<rect x="547.02" y="67.42" width="14.54" height="1.1" fill="#cfe68a" fill-opacity="0.45"/>
<rect x="473.93" y="142.14" width="11.98" height="1.1" fill="#cfe68a" fill-opacity="0.6"/>
<rect x="516.5" y="93.84" width="24.3" height="1.1" fill="#cfe68a" fill-opacity="0.35"/>
<rect x="472.66" y="188.95" width="31.97" height="1.1" fill="#cfe68a" fill-opacity="0.6"/>
<rect x="508.89" y="130.26" width="11.46" height="1.1" fill="#cfe68a" fill-opacity="0.35"/>
<rect x="516.47" y="166.38" width="32.99" height="1.1" fill="#cfe68a" fill-opacity="0.45"/>
<rect x="506" y="188.83" width="30.86" height="1.1" fill="#cfe68a" fill-opacity="0.45"/>
<rect x="483.23" y="84.09" width="13.54" height="1.1" fill="#cfe68a" fill-opacity="0.35"/>
<rect x="471.82" y="219.12" width="10.86" height="1.1" fill="#cfe68a" fill-opacity="0.45"/>
<rect x="502.69" y="174.61" width="17.8" height="1.1" fill="#cfe68a" fill-opacity="0.45"/>
<rect x="467.51" y="222.9" width="26.03" height="1.1" fill="#cfe68a" fill-opacity="0.45"/>
<rect x="503.67" y="233.2" width="13.44" height="1.1" fill="#cfe68a" fill-opacity="0.45"/>
<rect x="473.14" y="45.31" width="26.15" height="1.1" fill="#cfe68a" fill-opacity="0.45"/>
<rect x="511.03" y="205.26" width="32.05" height="1.1" fill="#cfe68a" fill-opacity="0.35"/>
<rect x="501.45" y="130.44" width="25.99" height="1.1" fill="#cfe68a" fill-opacity="0.6"/>
<rect x="475.75" y="235.47" width="16.39" height="1.1" fill="#cfe68a" fill-opacity="0.6"/>
<rect x="494.02" y="180.88" width="12" height="1.1" fill="#cfe68a" fill-opacity="0.6"/>
<rect x="492.63" y="229.05" width="30.96" height="1.1" fill="#cfe68a" fill-opacity="0.6"/>
<rect x="474.47" y="134.59" width="17.05" height="1.1" fill="#cfe68a" fill-opacity="0.35"/>
<rect x="489.97" y="214.98" width="9.49" height="1.1" fill="#cfe68a" fill-opacity="0.45"/>
<rect x="504.94" y="180.51" width="27.79" height="1.1" fill="#cfe68a" fill-opacity="0.35"/>
<rect x="503.28" y="222.95" width="38" height="1.1" fill="#cfe68a" fill-opacity="0.6"/>
<rect x="467.92" y="200.72" width="37.4" height="1.1" fill="#cfe68a" fill-opacity="0.45"/>
<rect x="498.48" y="55.68" width="15.7" height="1.1" fill="#cfe68a" fill-opacity="0.35"/>
<rect x="474.07" y="107.91" width="19.27" height="1.1" fill="#cfe68a" fill-opacity="0.6"/>
<rect x="502.45" y="176.76" width="24.5" height="1.1" fill="#cfe68a" fill-opacity="0.45"/>
<rect x="521.62" y="61.61" width="27.14" height="1.1" fill="#cfe68a" fill-opacity="0.35"/>
<rect x="469.5" y="83.73" width="30.78" height="1.1" fill="#cfe68a" fill-opacity="0.45"/>
<rect x="499.89" y="196.66" width="33.67" height="1.1" fill="#cfe68a" fill-opacity="0.6"/>
<rect x="505.83" y="196.81" width="20.62" height="1.1" fill="#cfe68a" fill-opacity="0.35"/>
<rect x="518.04" y="187.08" width="16.57" height="1.1" fill="#cfe68a" fill-opacity="0.35"/>
<rect x="486.02" y="45.58" width="29.5" height="1.1" fill="#cfe68a" fill-opacity="0.35"/>
<rect x="480.04" y="237.43" width="9.28" height="1.1" fill="#cfe68a" fill-opacity="0.45"/>
<rect x="511.63" y="55.57" width="34.93" height="1.1" fill="#cfe68a" fill-opacity="0.35"/>
<rect x="470.92" y="99.92" width="36.33" height="1.1" fill="#cfe68a" fill-opacity="0.6"/>
<rect x="526.72" y="53.51" width="15.53" height="1.1" fill="#cfe68a" fill-opacity="0.35"/>
<rect x="475.24" y="106.08" width="35.28" height="1.1" fill="#cfe68a" fill-opacity="0.45"/>
<rect x="502.3" y="73.52" width="9.51" height="1.1" fill="#cfe68a" fill-opacity="0.45"/>
<rect x="478.42" y="136.29" width="18.7" height="1.1" fill="#cfe68a" fill-opacity="0.35"/>
<rect x="511.43" y="207.07" width="20.51" height="1.1" fill="#cfe68a" fill-opacity="0.6"/>
<rect x="523.27" y="78.01" width="18.92" height="1.1" fill="#cfe68a" fill-opacity="0.35"/>
<rect x="506.64" y="172.92" width="11.87" height="1.1" fill="#cfe68a" fill-opacity="0.35"/>
<rect x="491.15" y="112.15" width="26.75" height="1.1" fill="#cfe68a" fill-opacity="0.35"/>
<rect x="508.11" y="206.89" width="24.95" height="1.1" fill="#cfe68a" fill-opacity="0.45"/>
<rect x="486.87" y="211.31" width="13.69" height="1.1" fill="#cfe68a" fill-opacity="0.35"/>
<rect x="471.82" y="111.94" width="9.19" height="1.1" fill="#cfe68a" fill-opacity="0.45"/>
<rect x="473.61" y="182.65" width="26.7" height="1.1" fill="#cfe68a" fill-opacity="0.45"/>
<rect x="476.21" y="104.08" width="35.39" height="1.1" fill="#cfe68a" fill-opacity="0.6"/>
<rect x="492.3" y="130.17" width="22.52" height="1.1" fill="#cfe68a" fill-opacity="0.35"/>
<rect x="538.86" y="73.67" width="12" height="1.1" fill="#cfe68a" fill-opacity="0.35"/>
<rect x="514.24" y="156.47" width="33.14" height="1.1" fill="#cfe68a" fill-opacity="0.6"/>
<rect x="477.96" y="81.87" width="19.7" height="1.1" fill="#cfe68a" fill-opacity="0.35"/>
<rect x="509.03" y="235.5" width="17.76" height="1.1" fill="#cfe68a" fill-opacity="0.45"/>
<rect x="494.03" y="67.62" width="20.83" height="1.1" fill="#cfe68a" fill-opacity="0.6"/>
<rect x="473.64" y="188.88" width="10.36" height="1.1" fill="#cfe68a" fill-opacity="0.35"/>
<rect x="526.88" y="45.17" width="21.91" height="1.1" fill="#cfe68a" fill-opacity="0.45"/>
<rect x="502.69" y="221.04" width="35.32" height="1.1" fill="#cfe68a" fill-opacity="0.35"/>
<rect x="487.65" y="79.59" width="30.92" height="1.1" fill="#cfe68a" fill-opacity="0.35"/>
<rect x="490.53" y="73.59" width="29.78" height="1.1" fill="#cfe68a" fill-opacity="0.6"/>
<rect x="530.92" y="219.39" width="25.08" height="1.1" fill="#cfe68a" fill-opacity="0.6"/>
<rect x="537.25" y="160.45" width="23.91" height="1.1" fill="#cfe68a" fill-opacity="0.6"/>
<rect x="508.98" y="176.57" width="37.03" height="1.1" fill="#cfe68a" fill-opacity="0.6"/>
<rect x="468.1" y="217.06" width="32.86" height="1.1" fill="#cfe68a" fill-opacity="0.6"/>
<rect x="513.31" y="138.52" width="31.88" height="1.1" fill="#cfe68a" fill-opacity="0.35"/>
<rect x="515.34" y="87.65" width="12.64" height="1.1" fill="#cfe68a" fill-opacity="0.6"/>
<rect x="483.68" y="47.27" width="34.43" height="1.1" fill="#cfe68a" fill-opacity="0.45"/>
<rect x="506.76" y="47.53" width="24.32" height="1.1" fill="#cfe68a" fill-opacity="0.6"/>
<rect x="513.18" y="182.53" width="9.92" height="1.1" fill="#cfe68a" fill-opacity="0.45"/>
<rect x="474.92" y="123.95" width="16.21" height="1.1" fill="#cfe68a" fill-opacity="0.35"/>
<rect x="473.18" y="211.01" width="27.61" height="1.1" fill="#cfe68a" fill-opacity="0.35"/>
<rect x="528.2" y="176.62" width="14.61" height="1.1" fill="#cfe68a" fill-opacity="0.6"/>
<rect x="492.03" y="128.34" width="19.83" height="1.1" fill="#cfe68a" fill-opacity="0.6"/>
<rect x="524.91" y="61.7" width="22.64" height="1.1" fill="#cfe68a" fill-opacity="0.45"/>
<rect x="528.39" y="215.01" width="20.32" height="1.1" fill="#cfe68a" fill-opacity="0.45"/>
<rect x="519.07" y="162.85" width="32.18" height="1.1" fill="#cfe68a" fill-opacity="0.35"/>
<rect x="497.87" y="45.6" width="8.73" height="1.1" fill="#cfe68a" fill-opacity="0.6"/>
<rect x="520.1" y="41.26" width="15.38" height="1" fill="#c6e27c" fill-opacity="0.8"/>
<rect x="469.69" y="43.48" width="14.53" height="1" fill="#c6e27c" fill-opacity="0.8"/>
<rect x="473.96" y="45.19" width="10.25" height="1" fill="#c6e27c" fill-opacity="0.8"/>
<rect x="530.35" y="46.9" width="32.35" height="1" fill="#c6e27c" fill-opacity="0.8"/>
<rect x="494.47" y="48.67" width="23.92" height="1.9" fill="#c6e27c" fill-opacity="0.95"/>
<rect x="533.77" y="50.32" width="28.93" height="1" fill="#c6e27c" fill-opacity="0.8"/>
<rect x="492.76" y="52.88" width="11.96" height="1" fill="#c6e27c" fill-opacity="0.8"/>
<rect x="535.48" y="52.43" width="27.22" height="1.9" fill="#c6e27c" fill-opacity="0.95"/>
<rect x="518.39" y="54.59" width="11.96" height="1" fill="#c6e27c" fill-opacity="0.8"/>
<rect x="544.03" y="55.85" width="18.67" height="1.9" fill="#c6e27c" fill-opacity="0.95"/>
<rect x="477.38" y="57.66" width="18.8" height="1" fill="#c6e27c" fill-opacity="0.8"/>
<rect x="482.51" y="58.86" width="27.34" height="1" fill="#c6e27c" fill-opacity="0.8"/>
<rect x="533.77" y="60.57" width="28.93" height="1" fill="#c6e27c" fill-opacity="0.8"/>
<rect x="530.35" y="62.28" width="13.67" height="1" fill="#c6e27c" fill-opacity="0.8"/>
<rect x="476.53" y="63.99" width="6.84" height="1" fill="#c6e27c" fill-opacity="0.8"/>
<rect x="526.94" y="65.18" width="23.92" height="1" fill="#c6e27c" fill-opacity="0.8"/>
<rect x="528.65" y="68.26" width="13.67" height="1" fill="#c6e27c" fill-opacity="0.8"/>
<rect x="479.09" y="69.63" width="15.38" height="1" fill="#c6e27c" fill-opacity="0.8"/>
<rect x="518.39" y="70.37" width="29.05" height="1.9" fill="#c6e27c" fill-opacity="0.95"/>
<rect x="504.72" y="73.04" width="10.25" height="1" fill="#c6e27c" fill-opacity="0.8"/>
<rect x="516.68" y="75.09" width="11.96" height="1" fill="#c6e27c" fill-opacity="0.8"/>
<rect x="544.03" y="75.09" width="18.67" height="1" fill="#c6e27c" fill-opacity="0.8"/>
<rect x="468.84" y="76.35" width="44.43" height="1.9" fill="#c6e27c" fill-opacity="0.95"/>
<rect x="468.84" y="77.21" width="44.43" height="1.9" fill="#c6e27c" fill-opacity="0.95"/>
<rect x="537.19" y="77.66" width="25.51" height="1" fill="#c6e27c" fill-opacity="0.8"/>
<rect x="492.76" y="80.22" width="20.51" height="1" fill="#c6e27c" fill-opacity="0.8"/>
<rect x="496.18" y="82.27" width="8.54" height="1" fill="#c6e27c" fill-opacity="0.8"/>
<rect x="526.94" y="83.3" width="10.25" height="1" fill="#c6e27c" fill-opacity="0.8"/>
<rect x="508.14" y="87.06" width="5.13" height="1" fill="#c6e27c" fill-opacity="0.8"/>
<rect x="555.99" y="87.06" width="6.71" height="1" fill="#c6e27c" fill-opacity="0.8"/>
<rect x="518.39" y="88.25" width="9.4" height="1" fill="#c6e27c" fill-opacity="0.8"/>
<rect x="473.96" y="91.61" width="22.22" height="1.9" fill="#c6e27c" fill-opacity="0.95"/>
<rect x="473.96" y="92.47" width="22.22" height="1.9" fill="#c6e27c" fill-opacity="0.95"/>
<rect x="501.3" y="95.48" width="10.25" height="1" fill="#c6e27c" fill-opacity="0.8"/>
<rect x="545.73" y="95.48" width="16.97" height="1" fill="#c6e27c" fill-opacity="0.8"/>
<rect x="518.39" y="98.9" width="10.25" height="1" fill="#c6e27c" fill-opacity="0.8"/>
<rect x="477.38" y="100.27" width="16.23" height="1" fill="#c6e27c" fill-opacity="0.8"/>
<rect x="475.67" y="102.04" width="10.25" height="1.9" fill="#c6e27c" fill-opacity="0.95"/>
<rect x="499.59" y="102.49" width="11.96" height="1" fill="#c6e27c" fill-opacity="0.8"/>
<rect x="475.67" y="102.89" width="10.25" height="1.9" fill="#c6e27c" fill-opacity="0.95"/>
<rect x="496.18" y="106.08" width="13.67" height="1" fill="#c6e27c" fill-opacity="0.8"/>
<rect x="467.98" y="109.66" width="14.53" height="1" fill="#c6e27c" fill-opacity="0.8"/>
<rect x="503.01" y="109.66" width="8.54" height="1" fill="#c6e27c" fill-opacity="0.8"/>
<rect x="473.96" y="111.72" width="18.8" height="1" fill="#c6e27c" fill-opacity="0.8"/>
<rect x="520.1" y="111.72" width="27.34" height="1" fill="#c6e27c" fill-opacity="0.8"/>
<rect x="516.68" y="112.97" width="30.76" height="1.9" fill="#c6e27c" fill-opacity="0.95"/>
<rect x="516.68" y="113.83" width="30.76" height="1.9" fill="#c6e27c" fill-opacity="0.95"/>
<rect x="467.98" y="116.84" width="14.53" height="1" fill="#c6e27c" fill-opacity="0.8"/>
<rect x="484.22" y="116.84" width="11.96" height="1" fill="#c6e27c" fill-opacity="0.8"/>
<rect x="550.86" y="119.92" width="11.84" height="1" fill="#c6e27c" fill-opacity="0.8"/>
<rect x="468.84" y="122.82" width="10.25" height="1" fill="#c6e27c" fill-opacity="0.8"/>
<rect x="479.09" y="122.82" width="17.09" height="1" fill="#c6e27c" fill-opacity="0.8"/>
<rect x="499.59" y="124.08" width="13.67" height="1.9" fill="#c6e27c" fill-opacity="0.95"/>
<rect x="499.59" y="124.94" width="13.67" height="1.9" fill="#c6e27c" fill-opacity="0.95"/>
<rect x="516.68" y="124.94" width="44.43" height="1.9" fill="#c6e27c" fill-opacity="0.95"/>
<rect x="499.59" y="125.96" width="13.67" height="1.9" fill="#c6e27c" fill-opacity="0.95"/>
<rect x="504.72" y="128.46" width="8.54" height="1" fill="#c6e27c" fill-opacity="0.8"/>
<rect x="518.39" y="128.01" width="29.05" height="1.9" fill="#c6e27c" fill-opacity="0.95"/>
<rect x="487.63" y="130.17" width="8.54" height="1" fill="#c6e27c" fill-opacity="0.8"/>
<rect x="472.25" y="132.63" width="23.92" height="1.9" fill="#c6e27c" fill-opacity="0.95"/>
<rect x="532.06" y="133.08" width="6.84" height="1" fill="#c6e27c" fill-opacity="0.8"/>
<rect x="538.9" y="135.64" width="15.38" height="1" fill="#c6e27c" fill-opacity="0.8"/>
<rect x="479.09" y="140.25" width="13.67" height="1" fill="#c6e27c" fill-opacity="0.8"/>
<rect x="494.47" y="141.62" width="11.96" height="1" fill="#c6e27c" fill-opacity="0.8"/>
<rect x="479.09" y="144.53" width="11.96" height="1" fill="#c6e27c" fill-opacity="0.8"/>
<rect x="530.35" y="144.53" width="32.35" height="1" fill="#c6e27c" fill-opacity="0.8"/>
<rect x="467.13" y="144.06" width="8.54" height="1" fill="#c6e27c" fill-opacity="0.8"/>
<rect x="482.51" y="143.61" width="22.22" height="1.9" fill="#c6e27c" fill-opacity="0.95"/>
<rect x="533.77" y="143.61" width="28.93" height="1.9" fill="#c6e27c" fill-opacity="0.95"/>
<rect x="492.76" y="146.63" width="20.51" height="1" fill="#c6e27c" fill-opacity="0.8"/>
<rect x="472.25" y="150.9" width="6.84" height="1" fill="#c6e27c" fill-opacity="0.8"/>
<rect x="545.73" y="153.8" width="11.96" height="1" fill="#c6e27c" fill-opacity="0.8"/>
<rect x="501.3" y="156.03" width="11.96" height="1" fill="#c6e27c" fill-opacity="0.8"/>
<rect x="473.96" y="156.77" width="22.22" height="1.9" fill="#c6e27c" fill-opacity="0.95"/>
<rect x="473.96" y="157.8" width="22.22" height="1.9" fill="#c6e27c" fill-opacity="0.95"/>
<rect x="465.42" y="162.01" width="6.84" height="1" fill="#c6e27c" fill-opacity="0.8"/>
<rect x="518.39" y="169.18" width="29.05" height="1" fill="#c6e27c" fill-opacity="0.8"/>
<rect x="504.72" y="171.41" width="6.84" height="1" fill="#c6e27c" fill-opacity="0.8"/>
<rect x="469.69" y="173.18" width="16.23" height="1.9" fill="#c6e27c" fill-opacity="0.95"/>
<rect x="545.73" y="173.63" width="5.13" height="1" fill="#c6e27c" fill-opacity="0.8"/>
<rect x="497.89" y="175.34" width="8.54" height="1" fill="#c6e27c" fill-opacity="0.8"/>
<rect x="533.77" y="175.34" width="25.63" height="1" fill="#c6e27c" fill-opacity="0.8"/>
<rect x="507.28" y="177.73" width="5.98" height="1" fill="#c6e27c" fill-opacity="0.8"/>
<rect x="467.13" y="179.44" width="13.67" height="1" fill="#c6e27c" fill-opacity="0.8"/>
<rect x="496.18" y="179.44" width="10.25" height="1" fill="#c6e27c" fill-opacity="0.8"/>
<rect x="530.35" y="182.51" width="8.54" height="1" fill="#c6e27c" fill-opacity="0.8"/>
<rect x="496.18" y="184.56" width="6.84" height="1" fill="#c6e27c" fill-opacity="0.8"/>
<rect x="495.32" y="187.3" width="9.4" height="1" fill="#c6e27c" fill-opacity="0.8"/>
<rect x="506.43" y="188.49" width="6.84" height="1" fill="#c6e27c" fill-opacity="0.8"/>
<rect x="542.32" y="191.57" width="20.38" height="1" fill="#c6e27c" fill-opacity="0.8"/>
<rect x="537.19" y="199.48" width="17.09" height="1" fill="#c6e27c" fill-opacity="0.8"/>
<rect x="472.25" y="200.34" width="32.47" height="1" fill="#c6e27c" fill-opacity="0.8"/>
<rect x="538.9" y="202.04" width="11.96" height="1" fill="#c6e27c" fill-opacity="0.8"/>
<rect x="513.27" y="203.3" width="15.38" height="1.9" fill="#c6e27c" fill-opacity="0.95"/>
<rect x="528.65" y="205.8" width="25.63" height="1" fill="#c6e27c" fill-opacity="0.8"/>
<rect x="496.18" y="209.22" width="6.84" height="1" fill="#c6e27c" fill-opacity="0.8"/>
<rect x="518.39" y="210.59" width="39.3" height="1" fill="#c6e27c" fill-opacity="0.8"/>
<rect x="472.25" y="215.72" width="6.84" height="1" fill="#c6e27c" fill-opacity="0.8"/>
<rect x="472.25" y="218.34" width="41.01" height="1.9" fill="#c6e27c" fill-opacity="0.95"/>
<rect x="530.35" y="218.79" width="8.54" height="1" fill="#c6e27c" fill-opacity="0.8"/>
<rect x="552.57" y="218.79" width="10.13" height="1" fill="#c6e27c" fill-opacity="0.8"/>
<rect x="472.25" y="219.37" width="41.01" height="1.9" fill="#c6e27c" fill-opacity="0.95"/>
<rect x="477.38" y="220.39" width="18.8" height="1.9" fill="#c6e27c" fill-opacity="0.95"/>
<rect x="513.27" y="220.84" width="14.53" height="1" fill="#c6e27c" fill-opacity="0.8"/>
<rect x="506.43" y="224.26" width="6.84" height="1" fill="#c6e27c" fill-opacity="0.8"/>
<rect x="489.34" y="230.75" width="23.92" height="1" fill="#c6e27c" fill-opacity="0.8"/>
<rect x="535.48" y="230.75" width="6.84" height="1" fill="#c6e27c" fill-opacity="0.8"/>
<rect x="473.96" y="232.46" width="13.67" height="1" fill="#c6e27c" fill-opacity="0.8"/>
<rect x="513.27" y="233.15" width="13.67" height="1" fill="#c6e27c" fill-opacity="0.8"/>
<rect x="473.11" y="74.64" width="14.53" height="1.9" fill="#7a4616"/>
<rect x="472.25" y="79.77" width="20.51" height="1.9" fill="#7a4616"/>
<rect x="533.77" y="92.06" width="17.09" height="1" fill="#7a4616"/>
<rect x="516.68" y="144.06" width="17.09" height="1" fill="#7a4616"/>
<rect x="477.38" y="151.64" width="18.8" height="1.9" fill="#7a4616"/>
<rect x="482.51" y="159.51" width="20.51" height="1.9" fill="#7a4616"/>
<rect x="476.53" y="176.08" width="21.36" height="1.9" fill="#7a4616"/>
<rect x="518.39" y="182.06" width="10.25" height="1.9" fill="#7a4616"/>
<rect x="552.57" y="207.17" width="10.13" height="1" fill="#7a4616"/>
<rect x="472.25" y="41.26" width="18.8" height="1" fill="#6e1a10"/>
<rect x="510.7" y="41.26" width="9.4" height="1" fill="#6e1a10"/>
<rect x="532.06" y="43.03" width="11.96" height="1.9" fill="#6e1a10"/>
<rect x="484.22" y="44.74" width="14.53" height="1.9" fill="#6e1a10"/>
<rect x="498.74" y="45.19" width="17.94" height="1" fill="#6e1a10"/>
<rect x="550.86" y="46.9" width="4.27" height="1" fill="#6e1a10"/>
<rect x="476.53" y="52.43" width="13.67" height="1.9" fill="#6e1a10"/>
<rect x="524.37" y="52.43" width="11.11" height="1.9" fill="#6e1a10"/>
<rect x="480.8" y="54.59" width="6.84" height="1" fill="#6e1a10"/>
<rect x="528.65" y="57.66" width="20.51" height="1" fill="#6e1a10"/>
<rect x="486.78" y="60.12" width="19.65" height="1.9" fill="#6e1a10"/>
<rect x="467.98" y="62.28" width="6.84" height="1" fill="#6e1a10"/>
<rect x="544.03" y="62.28" width="11.11" height="1" fill="#6e1a10"/>
<rect x="480.8" y="63.99" width="11.96" height="1" fill="#6e1a10"/>
<rect x="482.51" y="65.18" width="11.11" height="1" fill="#6e1a10"/>
<rect x="507.28" y="65.18" width="19.65" height="1" fill="#6e1a10"/>
<rect x="516.68" y="64.73" width="10.25" height="1.9" fill="#6e1a10"/>
<rect x="493.61" y="66.89" width="16.23" height="1" fill="#6e1a10"/>
<rect x="550.86" y="66.89" width="11.84" height="1" fill="#6e1a10"/>
<rect x="473.96" y="69.63" width="4.27" height="1" fill="#6e1a10"/>
<rect x="489.34" y="69.63" width="5.98" height="1" fill="#6e1a10"/>
<rect x="511.56" y="69.63" width="8.54" height="1" fill="#6e1a10"/>
<rect x="523.52" y="73.04" width="27.34" height="1" fill="#6e1a10"/>
<rect x="531.21" y="72.59" width="12.82" height="1.9" fill="#6e1a10"/>
<rect x="518.39" y="77.66" width="6.84" height="1" fill="#6e1a10"/>
<rect x="533.77" y="80.22" width="13.67" height="1" fill="#6e1a10"/>
<rect x="552.57" y="80.22" width="10.13" height="1" fill="#6e1a10"/>
<rect x="469.69" y="82.27" width="17.94" height="1" fill="#6e1a10"/>
<rect x="521.81" y="82.27" width="6.84" height="1" fill="#6e1a10"/>
<rect x="537.19" y="83.3" width="25.51" height="1" fill="#6e1a10"/>
<rect x="481.65" y="85.69" width="7.69" height="1" fill="#6e1a10"/>
<rect x="520.1" y="85.69" width="23.92" height="1" fill="#6e1a10"/>
<rect x="527.79" y="88.25" width="23.07" height="1" fill="#6e1a10"/>
<rect x="514.97" y="90.13" width="5.13" height="1" fill="#6e1a10"/>
<rect x="528.65" y="91.61" width="3.42" height="1.9" fill="#6e1a10"/>
<rect x="550.86" y="91.61" width="11.84" height="1.9" fill="#6e1a10"/>
<rect x="535.48" y="93.77" width="17.09" height="1" fill="#6e1a10"/>
<rect x="472.25" y="97.19" width="17.09" height="1" fill="#6e1a10"/>
<rect x="514.97" y="97.19" width="10.25" height="1" fill="#6e1a10"/>
<rect x="493.61" y="99.82" width="14.53" height="1.9" fill="#6e1a10"/>
<rect x="479.09" y="103.34" width="5.98" height="1" fill="#6e1a10"/>
<rect x="529.5" y="103.58" width="16.23" height="1.9" fill="#6e1a10"/>
<rect x="545.73" y="104.03" width="9.4" height="1" fill="#6e1a10"/>
<rect x="475.67" y="106.08" width="18.8" height="1" fill="#6e1a10"/>
<rect x="538.04" y="106.08" width="12.82" height="1" fill="#6e1a10"/>
<rect x="537.19" y="107.96" width="8.54" height="1" fill="#6e1a10"/>
<rect x="548.3" y="111.72" width="14.4" height="1" fill="#6e1a10"/>
<rect x="472.25" y="115.13" width="21.36" height="1" fill="#6e1a10"/>
<rect x="510.7" y="116.39" width="7.69" height="1.9" fill="#6e1a10"/>
<rect x="518.39" y="116.84" width="9.4" height="1" fill="#6e1a10"/>
<rect x="497.89" y="118.04" width="13.67" height="1" fill="#6e1a10"/>
<rect x="510.7" y="117.59" width="7.69" height="1.9" fill="#6e1a10"/>
<rect x="472.25" y="119.47" width="12.82" height="1.9" fill="#6e1a10"/>
<rect x="485.07" y="119.92" width="12.82" height="1" fill="#6e1a10"/>
<rect x="518.39" y="119.92" width="15.38" height="1" fill="#6e1a10"/>
<rect x="539.75" y="122.37" width="1.71" height="1.9" fill="#6e1a10"/>
<rect x="474.82" y="125.39" width="18.8" height="1" fill="#6e1a10"/>
<rect x="494.47" y="125.39" width="4.27" height="1" fill="#6e1a10"/>
<rect x="539.75" y="128.46" width="5.98" height="1" fill="#6e1a10"/>
<rect x="467.98" y="130.17" width="19.65" height="1" fill="#6e1a10"/>
<rect x="468.84" y="135.64" width="5.13" height="1" fill="#6e1a10"/>
<rect x="484.22" y="136.9" width="5.98" height="1.9" fill="#6e1a10"/>
<rect x="490.2" y="137.35" width="11.11" height="1" fill="#6e1a10"/>
<rect x="507.28" y="137.35" width="26.49" height="1" fill="#6e1a10"/>
<rect x="535.48" y="138.54" width="20.51" height="1" fill="#6e1a10"/>
<rect x="507.28" y="139.8" width="16.23" height="1.9" fill="#6e1a10"/>
<rect x="528.65" y="141.62" width="6.84" height="1" fill="#6e1a10"/>
<rect x="514.12" y="144.53" width="16.23" height="1" fill="#6e1a10"/>
<rect x="513.27" y="141.56" width="10.25" height="1.9" fill="#6e1a10"/>
<rect x="529.5" y="142.01" width="4.27" height="1" fill="#6e1a10"/>
<rect x="467.13" y="149.19" width="25.63" height="1" fill="#6e1a10"/>
<rect x="521.81" y="149.19" width="11.96" height="1" fill="#6e1a10"/>
<rect x="556.84" y="149.19" width="5.86" height="1" fill="#6e1a10"/>
<rect x="495.32" y="152.09" width="14.53" height="1" fill="#6e1a10"/>
<rect x="478.23" y="153.8" width="18.8" height="1" fill="#6e1a10"/>
<rect x="500.45" y="153.35" width="11.11" height="1.9" fill="#6e1a10"/>
<rect x="534.63" y="153.8" width="11.11" height="1" fill="#6e1a10"/>
<rect x="540.61" y="157.22" width="5.98" height="1" fill="#6e1a10"/>
<rect x="472.25" y="159.96" width="10.25" height="1" fill="#6e1a10"/>
<rect x="535.48" y="159.96" width="6.84" height="1" fill="#6e1a10"/>
<rect x="521.81" y="162.01" width="10.25" height="1" fill="#6e1a10"/>
<rect x="473.11" y="163.27" width="14.53" height="1.9" fill="#6e1a10"/>
<rect x="487.63" y="163.72" width="10.25" height="1" fill="#6e1a10"/>
<rect x="498.74" y="164.91" width="14.53" height="1" fill="#6e1a10"/>
<rect x="516.68" y="164.91" width="11.96" height="1" fill="#6e1a10"/>
<rect x="550.01" y="164.91" width="8.54" height="1" fill="#6e1a10"/>
<rect x="473.96" y="166.34" width="21.36" height="1.9" fill="#6e1a10"/>
<rect x="473.96" y="167.2" width="21.36" height="1.9" fill="#6e1a10"/>
<rect x="473.96" y="168.05" width="21.36" height="1.9" fill="#6e1a10"/>
<rect x="531.21" y="173.63" width="14.53" height="1" fill="#6e1a10"/>
<rect x="514.97" y="177.73" width="5.98" height="1" fill="#6e1a10"/>
<rect x="473.96" y="182.51" width="21.36" height="1" fill="#6e1a10"/>
<rect x="474.82" y="182.06" width="11.96" height="1.9" fill="#6e1a10"/>
<rect x="508.99" y="182.51" width="21.36" height="1" fill="#6e1a10"/>
<rect x="538.9" y="182.51" width="11.11" height="1" fill="#6e1a10"/>
<rect x="474.82" y="183.26" width="11.96" height="1.9" fill="#6e1a10"/>
<rect x="474.82" y="184.11" width="11.96" height="1.9" fill="#6e1a10"/>
<rect x="521.81" y="184.56" width="22.22" height="1" fill="#6e1a10"/>
<rect x="483.36" y="187.3" width="10.25" height="1" fill="#6e1a10"/>
<rect x="527.79" y="188.04" width="4.27" height="1.9" fill="#6e1a10"/>
<rect x="475.67" y="191.12" width="21.36" height="1.9" fill="#6e1a10"/>
<rect x="497.03" y="191.57" width="12.82" height="1" fill="#6e1a10"/>
<rect x="471.4" y="194.13" width="23.07" height="1" fill="#6e1a10"/>
<rect x="482.51" y="196.53" width="11.96" height="1" fill="#6e1a10"/>
<rect x="538.04" y="196.08" width="12.82" height="1.9" fill="#6e1a10"/>
<rect x="471.4" y="194.35" width="23.07" height="1" fill="#6e1a10"/>
<rect x="467.13" y="197.32" width="17.09" height="1.9" fill="#6e1a10"/>
<rect x="484.22" y="197.77" width="10.25" height="1" fill="#6e1a10"/>
<rect x="529.5" y="199.48" width="5.98" height="1" fill="#6e1a10"/>
<rect x="512.41" y="200.34" width="8.54" height="1" fill="#6e1a10"/>
<rect x="472.25" y="203.82" width="18.8" height="1.9" fill="#6e1a10"/>
<rect x="474.82" y="209.22" width="19.65" height="1" fill="#6e1a10"/>
<rect x="494.47" y="213.15" width="16.23" height="1" fill="#6e1a10"/>
<rect x="507.28" y="213.9" width="11.96" height="1.9" fill="#6e1a10"/>
<rect x="519.25" y="214.35" width="16.23" height="1" fill="#6e1a10"/>
<rect x="558.55" y="214.35" width="4.15" height="1" fill="#6e1a10"/>
<rect x="479.09" y="215.72" width="16.23" height="1" fill="#6e1a10"/>
<rect x="465.42" y="222.89" width="11.96" height="1" fill="#6e1a10"/>
<rect x="485.92" y="225.97" width="51.27" height="1" fill="#6e1a10"/>
<rect x="537.19" y="225.52" width="6.84" height="1.9" fill="#6e1a10"/>
<rect x="549.15" y="224.94" width="3.42" height="1" fill="#6e1a10"/>
<rect x="478.23" y="229.73" width="5.13" height="1" fill="#6e1a10"/>
<rect x="526.94" y="229.73" width="8.54" height="1" fill="#6e1a10"/>
<rect x="513.27" y="230.3" width="14.53" height="1.9" fill="#6e1a10"/>
<rect x="544.03" y="232.46" width="18.67" height="1" fill="#6e1a10"/>
<rect x="488.49" y="234.92" width="9.4" height="1.9" fill="#6e1a10"/>
<line x1="513.7" y1="59.8" x2="513.7" y2="219.6" stroke="#6a1a14" stroke-width="1.2"/>
<path d="M465.6 41.4H562.7V237.6" fill="none" stroke="#3a2a1a" stroke-width="0.8"/>
<path d="M465.6 40.9V237.6H563.1" fill="none" stroke="#26282c" stroke-width="1.4"/>
<text x="462.6" y="44.52" text-anchor="end" font-size="7" textLength="9.81" lengthAdjust="spacingAndGlyphs">200</text><line x1="465.6" y1="41.4" x2="467.1" y2="41.4" stroke="#333" stroke-width="0.6"/><text x="462.6" y="64.24" text-anchor="end" font-size="7" textLength="9.81" lengthAdjust="spacingAndGlyphs">180</text><line x1="465.6" y1="61.12" x2="467.1" y2="61.12" stroke="#333" stroke-width="0.6"/><text x="462.6" y="83.96" text-anchor="end" font-size="7" textLength="9.81" lengthAdjust="spacingAndGlyphs">160</text><line x1="465.6" y1="80.84" x2="467.1" y2="80.84" stroke="#333" stroke-width="0.6"/><text x="462.6" y="103.68" text-anchor="end" font-size="7" textLength="9.81" lengthAdjust="spacingAndGlyphs">140</text><line x1="465.6" y1="100.56" x2="467.1" y2="100.56" stroke="#333" stroke-width="0.6"/><text x="462.6" y="123.39" text-anchor="end" font-size="7" textLength="9.81" lengthAdjust="spacingAndGlyphs">120</text><line x1="465.6" y1="120.27" x2="467.1" y2="120.27" stroke="#333" stroke-width="0.6"/><text x="462.6" y="143.11" text-anchor="end" font-size="7" textLength="9.81" lengthAdjust="spacingAndGlyphs">100</text><line x1="465.6" y1="139.99" x2="467.1" y2="139.99" stroke="#333" stroke-width="0.6"/><text x="462.6" y="162.83" text-anchor="end" font-size="7" textLength="6.54" lengthAdjust="spacingAndGlyphs">80</text><line x1="465.6" y1="159.71" x2="467.1" y2="159.71" stroke="#333" stroke-width="0.6"/><text x="462.6" y="182.55" text-anchor="end" font-size="7" textLength="6.54" lengthAdjust="spacingAndGlyphs">60</text><line x1="465.6" y1="179.43" x2="467.1" y2="179.43" stroke="#333" stroke-width="0.6"/><text x="462.6" y="202.27" text-anchor="end" font-size="7" textLength="6.54" lengthAdjust="spacingAndGlyphs">40</text><line x1="465.6" y1="199.15" x2="467.1" y2="199.15" stroke="#333" stroke-width="0.6"/><text x="462.6" y="221.99" text-anchor="end" font-size="7" textLength="6.54" lengthAdjust="spacingAndGlyphs">20</text><line x1="465.6" y1="218.87" x2="467.1" y2="218.87" stroke="#333" stroke-width="0.6"/><text x="462.6" y="240.72" text-anchor="end" font-size="7" textLength="3.27" lengthAdjust="spacingAndGlyphs">1</text><line x1="465.6" y1="237.6" x2="467.1" y2="237.6" stroke="#333" stroke-width="0.6"/>
<text x="465.6" y="247.2" text-anchor="middle" font-size="7" textLength="3.27" lengthAdjust="spacingAndGlyphs">1</text><line x1="465.6" y1="237.6" x2="465.6" y2="236.1" stroke="#333" stroke-width="0.6"/><text x="484.24" y="247.2" text-anchor="middle" font-size="7" textLength="6.54" lengthAdjust="spacingAndGlyphs">20</text><line x1="484.24" y1="237.6" x2="484.24" y2="236.1" stroke="#333" stroke-width="0.6"/><text x="503.85" y="247.2" text-anchor="middle" font-size="7" textLength="6.54" lengthAdjust="spacingAndGlyphs">40</text><line x1="503.85" y1="237.6" x2="503.85" y2="236.1" stroke="#333" stroke-width="0.6"/><text x="523.47" y="247.2" text-anchor="middle" font-size="7" textLength="6.54" lengthAdjust="spacingAndGlyphs">60</text><line x1="523.47" y1="237.6" x2="523.47" y2="236.1" stroke="#333" stroke-width="0.6"/><text x="543.08" y="247.2" text-anchor="middle" font-size="7" textLength="6.54" lengthAdjust="spacingAndGlyphs">80</text><line x1="543.08" y1="237.6" x2="543.08" y2="236.1" stroke="#333" stroke-width="0.6"/><text x="562.7" y="247.2" text-anchor="middle" font-size="7" textLength="9.81" lengthAdjust="spacingAndGlyphs">100</text><line x1="562.7" y1="237.6" x2="562.7" y2="236.1" stroke="#333" stroke-width="0.6"/>
<text x="511.8" y="37.1" text-anchor="middle" font-size="6.4" textLength="93.7" lengthAdjust="spacingAndGlyphs">conductive/nonconductive elements</text><text x="511.5" y="254" text-anchor="middle" font-size="7">X</text><text transform="translate(446.5,142) rotate(-90)" text-anchor="middle" font-size="7">Y</text>
</g>
<g id="pb">
<rect x="260.9" y="36.5" width="98.9" height="196.1" fill="#fff"/>
<defs><linearGradient id="stemg" x1="0" y1="0" x2="0" y2="1"><stop offset="0" stop-color="#b01818"/><stop offset="0.12" stop-color="#d82020"/><stop offset="0.2" stop-color="#ff8a20"/><stop offset="0.28" stop-color="#c8e060"/><stop offset="0.36" stop-color="#30c0e0"/><stop offset="0.45" stop-color="#1060d0"/><stop offset="0.55" stop-color="#0840a8"/><stop offset="0.66" stop-color="#1060d0"/><stop offset="0.73" stop-color="#30c8d8"/><stop offset="0.78" stop-color="#ffb030"/><stop offset="0.85" stop-color="#e83020"/><stop offset="1" stop-color="#c01818"/></linearGradient></defs>
<rect x="308.9" y="66" width="1.8" height="148" fill="url(#stemg)"/>
<circle cx="302.14" cy="60.41" r="0.8" fill="#8a1414"/>
<circle cx="305.56" cy="60.75" r="0.8" fill="#8a1414"/>
<circle cx="307.27" cy="60.23" r="0.8" fill="#8a1414"/>
<circle cx="309.83" cy="60.58" r="0.8" fill="#8a1414"/>
<circle cx="310.68" cy="61.09" r="0.8" fill="#8a1414"/>
<circle cx="314.1" cy="60.75" r="0.8" fill="#8a1414"/>
<circle cx="316.66" cy="60.58" r="0.8" fill="#8a1414"/>
<circle cx="320.08" cy="60.75" r="0.8" fill="#8a1414"/>
<circle cx="320.94" cy="61.09" r="0.8" fill="#8a1414"/>
<circle cx="306.41" cy="65.87" r="0.8" fill="#8a1414"/>
<circle cx="307.27" cy="66.56" r="0.8" fill="#8a1414"/>
<circle cx="325.21" cy="65.87" r="0.8" fill="#8a1414"/>
<circle cx="335.46" cy="65.87" r="0.8" fill="#8a1414"/>
<circle cx="338.88" cy="69.63" r="0.8" fill="#8a1414"/>
<circle cx="305.56" cy="61.94" r="0.8" fill="#8a1414"/>
<circle cx="310.34" cy="61.94" r="0.8" fill="#8a1414"/>
<circle cx="309.86" cy="68.05" r="0.75" fill="#701010" fill-opacity="1"/>
<circle cx="302.56" cy="70.11" r="0.75" fill="#8a1414" fill-opacity="1"/>
<circle cx="310.97" cy="67.76" r="0.75" fill="#701010" fill-opacity="1"/>
<circle cx="306.97" cy="67.85" r="0.75" fill="#a01818" fill-opacity="1"/>
<circle cx="303.14" cy="67.86" r="0.75" fill="#a01818" fill-opacity="1"/>
<circle cx="302.85" cy="69.32" r="0.75" fill="#8a1414" fill-opacity="1"/>
<circle cx="317.99" cy="69.38" r="0.75" fill="#8a1414" fill-opacity="1"/>
<circle cx="316.57" cy="68.8" r="0.75" fill="#8a1414" fill-opacity="1"/>
<circle cx="302.52" cy="70.22" r="0.75" fill="#a01818" fill-opacity="1"/>
<circle cx="312.39" cy="69.25" r="0.75" fill="#701010" fill-opacity="1"/>
<circle cx="309.46" cy="70.09" r="0.75" fill="#8a1414" fill-opacity="1"/>
<circle cx="304.01" cy="69.34" r="0.75" fill="#8a1414" fill-opacity="1"/>
<circle cx="311.15" cy="69.27" r="0.75" fill="#8a1414" fill-opacity="1"/>
<circle cx="316.23" cy="69.49" r="0.75" fill="#a01818" fill-opacity="1"/>
<circle cx="319.31" cy="68.9" r="0.75" fill="#a01818" fill-opacity="1"/>
<circle cx="313.62" cy="70.42" r="0.75" fill="#a01818" fill-opacity="1"/>
<circle cx="309.22" cy="70.03" r="0.75" fill="#701010" fill-opacity="1"/>
<circle cx="321.94" cy="67.83" r="0.75" fill="#a01818" fill-opacity="1"/>
<circle cx="315.2" cy="70.27" r="0.75" fill="#701010" fill-opacity="1"/>
<circle cx="313.17" cy="69.46" r="0.75" fill="#8a1414" fill-opacity="1"/>
<circle cx="304.41" cy="68.87" r="0.75" fill="#a01818" fill-opacity="1"/>
<circle cx="305.31" cy="69.09" r="0.75" fill="#8a1414" fill-opacity="1"/>
<circle cx="326.77" cy="67.82" r="0.75" fill="#701010" fill-opacity="1"/>
<circle cx="316.46" cy="70.28" r="0.75" fill="#a01818" fill-opacity="1"/>
<circle cx="310.29" cy="68.66" r="0.75" fill="#a01818" fill-opacity="1"/>
<circle cx="316.64" cy="68.99" r="0.75" fill="#8a1414" fill-opacity="1"/>
<circle cx="326.31" cy="69.04" r="0.75" fill="#701010" fill-opacity="1"/>
<circle cx="303.01" cy="69.83" r="0.75" fill="#a01818" fill-opacity="1"/>
<circle cx="318.43" cy="70.64" r="0.75" fill="#a01818" fill-opacity="1"/>
<circle cx="308.82" cy="68.77" r="0.75" fill="#701010" fill-opacity="1"/>
<circle cx="310.48" cy="70.48" r="0.75" fill="#a01818" fill-opacity="1"/>
<circle cx="305.74" cy="67.94" r="0.75" fill="#8a1414" fill-opacity="1"/>
<circle cx="307.06" cy="68.47" r="0.75" fill="#701010" fill-opacity="1"/>
<circle cx="307.84" cy="68.78" r="0.75" fill="#a01818" fill-opacity="1"/>
<circle cx="303.42" cy="68.96" r="0.75" fill="#701010" fill-opacity="1"/>
<circle cx="308.64" cy="68" r="0.75" fill="#a01818" fill-opacity="1"/>
<circle cx="324.17" cy="68.44" r="0.75" fill="#a01818" fill-opacity="1"/>
<circle cx="327.41" cy="69.68" r="0.75" fill="#a01818" fill-opacity="1"/>
<rect x="263.69" y="71.85" width="26.49" height="7.52" rx="1.5" fill="#c2241e" fill-opacity="1"/>
<rect x="266.25" y="77.49" width="15.38" height="2.39" rx="0.8" fill="#c2241e" fill-opacity="1"/>
<rect x="290.18" y="71.85" width="17.09" height="5.64" rx="0.8" fill="#c8221c" fill-opacity="1"/>
<rect x="307.27" y="72.37" width="13.67" height="3.42" rx="0.8" fill="#cc241c" fill-opacity="1"/>
<circle cx="318.52" cy="72.5" r="0.7" fill="#a01515" fill-opacity="0.8"/>
<circle cx="272.35" cy="76.41" r="0.7" fill="#a01515" fill-opacity="0.8"/>
<circle cx="291.45" cy="75.87" r="0.7" fill="#8a1212" fill-opacity="0.8"/>
<circle cx="279.83" cy="72.46" r="0.7" fill="#e03024" fill-opacity="0.8"/>
<circle cx="284.83" cy="75.7" r="0.7" fill="#a01515" fill-opacity="0.8"/>
<circle cx="303.22" cy="75.31" r="0.7" fill="#e03024" fill-opacity="0.8"/>
<circle cx="301.18" cy="77.03" r="0.7" fill="#8a1212" fill-opacity="0.8"/>
<circle cx="315.19" cy="77.34" r="0.7" fill="#e03024" fill-opacity="0.8"/>
<circle cx="309.37" cy="74.36" r="0.7" fill="#8a1212" fill-opacity="0.8"/>
<circle cx="286.25" cy="75.04" r="0.7" fill="#8a1212" fill-opacity="0.8"/>
<circle cx="267.25" cy="71.86" r="0.7" fill="#a01515" fill-opacity="0.8"/>
<circle cx="288.91" cy="72.19" r="0.7" fill="#e03024" fill-opacity="0.8"/>
<circle cx="266.7" cy="71.34" r="0.7" fill="#a01515" fill-opacity="0.8"/>
<circle cx="294.41" cy="78.64" r="0.7" fill="#e03024" fill-opacity="0.8"/>
<circle cx="265.15" cy="78.07" r="0.7" fill="#e03024" fill-opacity="0.8"/>
<circle cx="285.23" cy="76.22" r="0.7" fill="#8a1212" fill-opacity="0.8"/>
<circle cx="298.17" cy="74.99" r="0.7" fill="#a01515" fill-opacity="0.8"/>
<circle cx="312.29" cy="78.98" r="0.7" fill="#8a1212" fill-opacity="0.8"/>
<circle cx="291.19" cy="73.74" r="0.7" fill="#a01515" fill-opacity="0.8"/>
<circle cx="269.54" cy="73.98" r="0.7" fill="#8a1212" fill-opacity="0.8"/>
<circle cx="291.09" cy="76.66" r="0.7" fill="#e03024" fill-opacity="0.8"/>
<circle cx="265.01" cy="78.65" r="0.7" fill="#e03024" fill-opacity="0.8"/>
<circle cx="284.4" cy="76.65" r="0.7" fill="#a01515" fill-opacity="0.8"/>
<circle cx="307.09" cy="73.63" r="0.7" fill="#e03024" fill-opacity="0.8"/>
<circle cx="313.11" cy="76.7" r="0.7" fill="#8a1212" fill-opacity="0.8"/>
<circle cx="293.37" cy="78.33" r="0.7" fill="#8a1212" fill-opacity="0.8"/>
<circle cx="307.88" cy="75.44" r="0.7" fill="#e03024" fill-opacity="0.8"/>
<circle cx="282.56" cy="73.06" r="0.7" fill="#a01515" fill-opacity="0.8"/>
<circle cx="309.84" cy="77.63" r="0.7" fill="#e03024" fill-opacity="0.8"/>
<circle cx="309.68" cy="72.88" r="0.7" fill="#8a1212" fill-opacity="0.8"/>
<circle cx="284.04" cy="71.56" r="0.7" fill="#a01515" fill-opacity="0.8"/>
<circle cx="308.92" cy="74.97" r="0.7" fill="#a01515" fill-opacity="0.8"/>
<circle cx="303.33" cy="78.7" r="0.7" fill="#8a1212" fill-opacity="0.8"/>
<circle cx="309.98" cy="76.9" r="0.7" fill="#8a1212" fill-opacity="0.8"/>
<circle cx="318.36" cy="74.15" r="0.7" fill="#a01515" fill-opacity="0.8"/>
<circle cx="269.54" cy="74.96" r="0.7" fill="#8a1212" fill-opacity="0.8"/>
<circle cx="275.39" cy="76.14" r="0.7" fill="#e03024" fill-opacity="0.8"/>
<circle cx="311.8" cy="75.03" r="0.7" fill="#e03024" fill-opacity="0.8"/>
<circle cx="283.38" cy="76.29" r="0.7" fill="#e03024" fill-opacity="0.8"/>
<circle cx="270.55" cy="74.33" r="0.7" fill="#e03024" fill-opacity="0.8"/>
<circle cx="306.63" cy="75.02" r="0.7" fill="#a01515" fill-opacity="0.8"/>
<circle cx="288.53" cy="76.23" r="0.7" fill="#a01515" fill-opacity="0.8"/>
<circle cx="309.53" cy="78.81" r="0.7" fill="#8a1212" fill-opacity="0.8"/>
<circle cx="290.2" cy="77.06" r="0.7" fill="#a01515" fill-opacity="0.8"/>
<circle cx="305.18" cy="72.65" r="0.7" fill="#a01515" fill-opacity="0.8"/>
<circle cx="265.27" cy="75.89" r="0.7" fill="#8a1212" fill-opacity="0.8"/>
<circle cx="309.86" cy="72.47" r="0.7" fill="#e03024" fill-opacity="0.8"/>
<circle cx="319.81" cy="76.4" r="0.7" fill="#8a1212" fill-opacity="0.8"/>
<circle cx="272.62" cy="75.56" r="0.7" fill="#a01515" fill-opacity="0.8"/>
<circle cx="264.51" cy="78.81" r="0.7" fill="#e03024" fill-opacity="0.8"/>
<circle cx="269.57" cy="77.11" r="0.7" fill="#a01515" fill-opacity="0.8"/>
<circle cx="288.52" cy="78.05" r="0.7" fill="#a01515" fill-opacity="0.8"/>
<circle cx="265.29" cy="72.98" r="0.7" fill="#e03024" fill-opacity="0.8"/>
<circle cx="277.46" cy="75.85" r="0.7" fill="#8a1212" fill-opacity="0.8"/>
<circle cx="294.85" cy="77.76" r="0.7" fill="#a01515" fill-opacity="0.8"/>
<circle cx="315.79" cy="74.06" r="0.7" fill="#8a1212" fill-opacity="0.8"/>
<circle cx="301.61" cy="77.61" r="0.7" fill="#e03024" fill-opacity="0.8"/>
<circle cx="287.77" cy="78.4" r="0.7" fill="#e03024" fill-opacity="0.8"/>
<circle cx="271.18" cy="72.51" r="0.7" fill="#e03024" fill-opacity="0.8"/>
<circle cx="264.76" cy="74.73" r="0.7" fill="#a01515" fill-opacity="0.8"/>
<circle cx="298.53" cy="77.31" r="0.7" fill="#a01515" fill-opacity="0.8"/>
<circle cx="273.56" cy="74.98" r="0.7" fill="#e03024" fill-opacity="0.8"/>
<circle cx="270.58" cy="71.82" r="0.7" fill="#e03024" fill-opacity="0.8"/>
<circle cx="293.36" cy="75.61" r="0.7" fill="#a01515" fill-opacity="0.8"/>
<circle cx="314.25" cy="71.78" r="0.7" fill="#a01515" fill-opacity="0.8"/>
<circle cx="279.54" cy="77.28" r="0.7" fill="#e03024" fill-opacity="0.8"/>
<circle cx="289.58" cy="71.56" r="0.7" fill="#a01515" fill-opacity="0.8"/>
<circle cx="289.06" cy="76.05" r="0.7" fill="#e03024" fill-opacity="0.8"/>
<circle cx="298.39" cy="72.88" r="0.7" fill="#8a1212" fill-opacity="0.8"/>
<circle cx="289.59" cy="75.44" r="0.7" fill="#8a1212" fill-opacity="0.8"/>
<circle cx="292.76" cy="73.25" r="0.7" fill="#e03024" fill-opacity="0.8"/>
<circle cx="313.87" cy="78.59" r="0.7" fill="#8a1212" fill-opacity="0.8"/>
<circle cx="316.52" cy="78.21" r="0.7" fill="#a01515" fill-opacity="0.8"/>
<circle cx="311.78" cy="72.4" r="0.7" fill="#a01515" fill-opacity="0.8"/>
<circle cx="286.15" cy="73.77" r="0.7" fill="#e03024" fill-opacity="0.8"/>
<circle cx="277.47" cy="71.9" r="0.7" fill="#e03024" fill-opacity="0.8"/>
<circle cx="281.02" cy="72.28" r="0.7" fill="#a01515" fill-opacity="0.8"/>
<circle cx="317.47" cy="76.29" r="0.7" fill="#8a1212" fill-opacity="0.8"/>
<circle cx="271.87" cy="78.13" r="0.7" fill="#8a1212" fill-opacity="0.8"/>
<circle cx="276.26" cy="78.67" r="0.7" fill="#8a1212" fill-opacity="0.8"/>
<circle cx="314.35" cy="72.59" r="0.7" fill="#e03024" fill-opacity="0.8"/>
<circle cx="311.34" cy="72.58" r="0.7" fill="#8a1212" fill-opacity="0.8"/>
<circle cx="320.6" cy="74.45" r="0.7" fill="#8a1212" fill-opacity="0.8"/>
<circle cx="274.9" cy="73.79" r="0.7" fill="#e03024" fill-opacity="0.8"/>
<circle cx="284.64" cy="73.94" r="0.7" fill="#8a1212" fill-opacity="0.8"/>
<circle cx="288.9" cy="71.48" r="0.7" fill="#8a1212" fill-opacity="0.8"/>
<circle cx="293.31" cy="73.61" r="0.7" fill="#a01515" fill-opacity="0.8"/>
<circle cx="270.15" cy="78.41" r="0.7" fill="#a01515" fill-opacity="0.8"/>
<circle cx="319.32" cy="72.15" r="0.7" fill="#8a1212" fill-opacity="0.8"/>
<circle cx="279.26" cy="78.31" r="0.7" fill="#a01515" fill-opacity="0.8"/>
<rect x="310.68" y="80.74" width="30.76" height="5.13" rx="0.8" fill="#ffa040" fill-opacity="0.9"/>
<rect x="303.85" y="81.94" width="46.14" height="3.08" rx="0.8" fill="#ffb050" fill-opacity="0.7"/>
<circle cx="316.49" cy="81.28" r="0.7" fill="#c82018" fill-opacity="1"/>
<circle cx="341.72" cy="84.27" r="0.7" fill="#ffc040" fill-opacity="1"/>
<circle cx="322.39" cy="83.5" r="0.7" fill="#ff5a20" fill-opacity="1"/>
<circle cx="329.57" cy="84.4" r="0.7" fill="#e03020" fill-opacity="1"/>
<circle cx="316.86" cy="84.94" r="0.7" fill="#ff7a20" fill-opacity="1"/>
<circle cx="323.24" cy="80.97" r="0.7" fill="#e03020" fill-opacity="1"/>
<circle cx="332.35" cy="84.95" r="0.7" fill="#e03020" fill-opacity="1"/>
<circle cx="331.2" cy="81.79" r="0.7" fill="#ffc040" fill-opacity="1"/>
<circle cx="342.3" cy="83.05" r="0.7" fill="#ffc040" fill-opacity="1"/>
<circle cx="348.03" cy="82.85" r="0.7" fill="#ffc040" fill-opacity="1"/>
<circle cx="331.79" cy="80.81" r="0.7" fill="#ff7a20" fill-opacity="1"/>
<circle cx="345.58" cy="85.87" r="0.7" fill="#ffc040" fill-opacity="1"/>
<circle cx="306.9" cy="81.67" r="0.7" fill="#ffc040" fill-opacity="1"/>
<circle cx="332.1" cy="83.47" r="0.7" fill="#ff7a20" fill-opacity="1"/>
<circle cx="317.34" cy="83.3" r="0.7" fill="#ff7a20" fill-opacity="1"/>
<circle cx="316.49" cy="84.96" r="0.7" fill="#ffc040" fill-opacity="1"/>
<circle cx="306.31" cy="80.67" r="0.7" fill="#ff5a20" fill-opacity="1"/>
<circle cx="328.72" cy="81.61" r="0.7" fill="#c82018" fill-opacity="1"/>
<circle cx="315.41" cy="83.01" r="0.7" fill="#c82018" fill-opacity="1"/>
<circle cx="333.31" cy="83.55" r="0.7" fill="#c82018" fill-opacity="1"/>
<circle cx="346.98" cy="82.25" r="0.7" fill="#ff7a20" fill-opacity="1"/>
<circle cx="347.51" cy="82.44" r="0.7" fill="#ff7a20" fill-opacity="1"/>
<circle cx="322.34" cy="82.47" r="0.7" fill="#e03020" fill-opacity="1"/>
<circle cx="341.18" cy="80.65" r="0.7" fill="#ffc040" fill-opacity="1"/>
<circle cx="323.47" cy="80.87" r="0.7" fill="#c82018" fill-opacity="1"/>
<circle cx="342.64" cy="84.24" r="0.7" fill="#ffc040" fill-opacity="1"/>
<circle cx="330.79" cy="84.36" r="0.7" fill="#e03020" fill-opacity="1"/>
<circle cx="324.72" cy="81.43" r="0.7" fill="#c82018" fill-opacity="1"/>
<circle cx="304.86" cy="82.56" r="0.7" fill="#ffc040" fill-opacity="1"/>
<circle cx="347.09" cy="83.56" r="0.7" fill="#ff7a20" fill-opacity="1"/>
<circle cx="306.2" cy="85.39" r="0.7" fill="#ff7a20" fill-opacity="1"/>
<circle cx="320.24" cy="80.58" r="0.7" fill="#c82018" fill-opacity="1"/>
<circle cx="308.36" cy="82.09" r="0.7" fill="#ff7a20" fill-opacity="1"/>
<circle cx="315.52" cy="84.81" r="0.7" fill="#e03020" fill-opacity="1"/>
<circle cx="316.21" cy="81.06" r="0.7" fill="#c82018" fill-opacity="1"/>
<circle cx="330.27" cy="82.72" r="0.7" fill="#ffc040" fill-opacity="1"/>
<circle cx="317.96" cy="81.84" r="0.7" fill="#ff5a20" fill-opacity="1"/>
<circle cx="346.43" cy="85.24" r="0.7" fill="#ff7a20" fill-opacity="1"/>
<circle cx="333.36" cy="84.48" r="0.7" fill="#ff5a20" fill-opacity="1"/>
<circle cx="321.68" cy="82.35" r="0.7" fill="#c82018" fill-opacity="1"/>
<circle cx="311.22" cy="84.53" r="0.7" fill="#ff7a20" fill-opacity="1"/>
<circle cx="306.61" cy="85.14" r="0.7" fill="#ff5a20" fill-opacity="1"/>
<circle cx="332.04" cy="84.58" r="0.7" fill="#ff5a20" fill-opacity="1"/>
<circle cx="310.77" cy="83.43" r="0.7" fill="#ff5a20" fill-opacity="1"/>
<circle cx="329.47" cy="85.01" r="0.7" fill="#e03020" fill-opacity="1"/>
<circle cx="340.71" cy="83.76" r="0.7" fill="#ff7a20" fill-opacity="1"/>
<circle cx="308.41" cy="80.8" r="0.7" fill="#ffc040" fill-opacity="1"/>
<circle cx="346.51" cy="82.63" r="0.7" fill="#c82018" fill-opacity="1"/>
<circle cx="329.04" cy="84" r="0.7" fill="#ff5a20" fill-opacity="1"/>
<circle cx="334.36" cy="83.25" r="0.7" fill="#e03020" fill-opacity="1"/>
<circle cx="324.61" cy="80.95" r="0.7" fill="#ff5a20" fill-opacity="1"/>
<circle cx="343.83" cy="81.07" r="0.7" fill="#ff5a20" fill-opacity="1"/>
<circle cx="307.58" cy="84.6" r="0.7" fill="#ffc040" fill-opacity="1"/>
<circle cx="339.97" cy="85.2" r="0.7" fill="#ff7a20" fill-opacity="1"/>
<circle cx="336.48" cy="81.69" r="0.7" fill="#c82018" fill-opacity="1"/>
<circle cx="326.23" cy="82.66" r="0.7" fill="#c82018" fill-opacity="1"/>
<circle cx="344.38" cy="82.14" r="0.7" fill="#e03020" fill-opacity="1"/>
<circle cx="331.59" cy="84.08" r="0.7" fill="#e03020" fill-opacity="1"/>
<circle cx="330.84" cy="82.38" r="0.7" fill="#ffc040" fill-opacity="1"/>
<circle cx="331.77" cy="81.3" r="0.7" fill="#c82018" fill-opacity="1"/>
<circle cx="307.35" cy="82.04" r="0.7" fill="#e03020" fill-opacity="1"/>
<circle cx="334.87" cy="84.26" r="0.7" fill="#ffc040" fill-opacity="1"/>
<circle cx="335.59" cy="82.13" r="0.7" fill="#c82018" fill-opacity="1"/>
<circle cx="325.02" cy="81.22" r="0.7" fill="#ff5a20" fill-opacity="1"/>
<circle cx="313.39" cy="85.92" r="0.7" fill="#c82018" fill-opacity="1"/>
<circle cx="305.47" cy="83.08" r="0.7" fill="#ff5a20" fill-opacity="1"/>
<circle cx="346.89" cy="83.03" r="0.7" fill="#ffc040" fill-opacity="1"/>
<circle cx="321.56" cy="85.58" r="0.7" fill="#ff7a20" fill-opacity="1"/>
<circle cx="307.95" cy="81.06" r="0.7" fill="#ff5a20" fill-opacity="1"/>
<circle cx="316.11" cy="82.54" r="0.7" fill="#ff5a20" fill-opacity="1"/>
<circle cx="340.44" cy="83.35" r="0.7" fill="#e03020" fill-opacity="1"/>
<circle cx="335.35" cy="81.83" r="0.7" fill="#c82018" fill-opacity="1"/>
<circle cx="321.87" cy="81.44" r="0.7" fill="#c82018" fill-opacity="1"/>
<circle cx="334.4" cy="82.79" r="0.7" fill="#ff7a20" fill-opacity="1"/>
<circle cx="322.84" cy="82.63" r="0.7" fill="#e03020" fill-opacity="1"/>
<circle cx="341.32" cy="80.58" r="0.7" fill="#ffc040" fill-opacity="1"/>
<circle cx="341.27" cy="81.23" r="0.7" fill="#ff7a20" fill-opacity="1"/>
<circle cx="335.77" cy="85.5" r="0.7" fill="#ffc040" fill-opacity="1"/>
<circle cx="315.74" cy="80.92" r="0.7" fill="#c82018" fill-opacity="1"/>
<circle cx="348.23" cy="83.79" r="0.7" fill="#ffc040" fill-opacity="1"/>
<circle cx="345.03" cy="84.7" r="0.7" fill="#e03020" fill-opacity="1"/>
<circle cx="316.93" cy="80.85" r="0.7" fill="#ffc040" fill-opacity="1"/>
<circle cx="332.37" cy="81.38" r="0.7" fill="#ffc040" fill-opacity="1"/>
<circle cx="323.71" cy="82.3" r="0.7" fill="#ffc040" fill-opacity="1"/>
<circle cx="338.92" cy="82.91" r="0.7" fill="#e03020" fill-opacity="1"/>
<circle cx="340.08" cy="84.02" r="0.7" fill="#ff5a20" fill-opacity="1"/>
<circle cx="328.64" cy="84.5" r="0.7" fill="#e03020" fill-opacity="1"/>
<circle cx="345.38" cy="82.82" r="0.7" fill="#ff5a20" fill-opacity="1"/>
<circle cx="337.5" cy="84.09" r="0.7" fill="#ffc040" fill-opacity="1"/>
<circle cx="325.86" cy="85.56" r="0.7" fill="#ff5a20" fill-opacity="1"/>
<circle cx="299.41" cy="90.93" r="0.7" fill="#ffb030" fill-opacity="1"/>
<circle cx="302.31" cy="90.41" r="0.7" fill="#f0e060" fill-opacity="1"/>
<circle cx="315.36" cy="90.42" r="0.7" fill="#f0e060" fill-opacity="1"/>
<circle cx="301.5" cy="90.95" r="0.7" fill="#f0e060" fill-opacity="1"/>
<circle cx="304.43" cy="90.2" r="0.7" fill="#ffd040" fill-opacity="1"/>
<circle cx="298.43" cy="91" r="0.7" fill="#ffb030" fill-opacity="1"/>
<circle cx="307.36" cy="90.88" r="0.7" fill="#ffb030" fill-opacity="1"/>
<circle cx="315.74" cy="90.87" r="0.7" fill="#ffd040" fill-opacity="1"/>
<circle cx="307.31" cy="90.38" r="0.7" fill="#ffd040" fill-opacity="1"/>
<circle cx="303.44" cy="90.02" r="0.7" fill="#ffd040" fill-opacity="1"/>
<circle cx="303.94" cy="91.73" r="0.7" fill="#ffd040" fill-opacity="1"/>
<circle cx="313.69" cy="91.59" r="0.7" fill="#ffb030" fill-opacity="1"/>
<circle cx="304.21" cy="91.58" r="0.7" fill="#ffd040" fill-opacity="1"/>
<circle cx="304.1" cy="90.61" r="0.7" fill="#ffd040" fill-opacity="1"/>
<rect x="267.11" y="94.78" width="45.28" height="8.89" rx="2" fill="#b4e468" fill-opacity="1"/>
<rect x="288.47" y="92.73" width="37.59" height="4.1" rx="1.5" fill="#b8e468" fill-opacity="1"/>
<rect x="274.8" y="102.65" width="32.47" height="2.39" rx="1.5" fill="#b0e070" fill-opacity="1"/>
<circle cx="296.48" cy="99.41" r="0.7" fill="#80d890" fill-opacity="0.9"/>
<circle cx="275.17" cy="98.58" r="0.7" fill="#60d0b0" fill-opacity="0.9"/>
<circle cx="313.2" cy="102.6" r="0.7" fill="#ffd040" fill-opacity="0.9"/>
<circle cx="283.48" cy="95.62" r="0.7" fill="#e8e850" fill-opacity="0.9"/>
<circle cx="304.93" cy="97.75" r="0.7" fill="#80d890" fill-opacity="0.9"/>
<circle cx="316.55" cy="102.88" r="0.7" fill="#ffd040" fill-opacity="0.9"/>
<circle cx="275.25" cy="97.68" r="0.7" fill="#e8e850" fill-opacity="0.9"/>
<circle cx="323.39" cy="98.43" r="0.7" fill="#ffd040" fill-opacity="0.9"/>
<circle cx="290.38" cy="103.5" r="0.7" fill="#ff7030" fill-opacity="0.9"/>
<circle cx="316.93" cy="104.03" r="0.7" fill="#ff9a30" fill-opacity="0.9"/>
<circle cx="312.79" cy="95.33" r="0.7" fill="#ff9a30" fill-opacity="0.9"/>
<circle cx="297.87" cy="100.66" r="0.7" fill="#60d0b0" fill-opacity="0.9"/>
<circle cx="308.09" cy="102.57" r="0.7" fill="#e8e850" fill-opacity="0.9"/>
<circle cx="272.83" cy="101.76" r="0.7" fill="#ffd040" fill-opacity="0.9"/>
<circle cx="312.75" cy="95.44" r="0.7" fill="#ffd040" fill-opacity="0.9"/>
<circle cx="304.92" cy="96.26" r="0.7" fill="#ff9a30" fill-opacity="0.9"/>
<circle cx="303.83" cy="98.87" r="0.7" fill="#e8e850" fill-opacity="0.9"/>
<circle cx="307.95" cy="94.04" r="0.7" fill="#ffd040" fill-opacity="0.9"/>
<circle cx="285.16" cy="103.7" r="0.7" fill="#ff9a30" fill-opacity="0.9"/>
<circle cx="290.18" cy="95.33" r="0.7" fill="#ff7030" fill-opacity="0.9"/>
<circle cx="268.03" cy="98.98" r="0.7" fill="#e8e850" fill-opacity="0.9"/>
<circle cx="283.91" cy="96.41" r="0.7" fill="#ff9a30" fill-opacity="0.9"/>
<circle cx="295.17" cy="95.46" r="0.7" fill="#ff9a30" fill-opacity="0.9"/>
<circle cx="269.64" cy="97.52" r="0.7" fill="#60d0b0" fill-opacity="0.9"/>
<circle cx="285.56" cy="92.99" r="0.7" fill="#e8e850" fill-opacity="0.9"/>
<circle cx="318.62" cy="100.25" r="0.7" fill="#ffd040" fill-opacity="0.9"/>
<circle cx="282.69" cy="100.49" r="0.7" fill="#80d890" fill-opacity="0.9"/>
<circle cx="280.94" cy="93.13" r="0.7" fill="#80d890" fill-opacity="0.9"/>
<circle cx="309.08" cy="96.94" r="0.7" fill="#e8e850" fill-opacity="0.9"/>
<circle cx="279.3" cy="102" r="0.7" fill="#60d0b0" fill-opacity="0.9"/>
<circle cx="316.34" cy="93.52" r="0.7" fill="#e8e850" fill-opacity="0.9"/>
<circle cx="323.48" cy="96.36" r="0.7" fill="#ff9a30" fill-opacity="0.9"/>
<circle cx="281.18" cy="95.31" r="0.7" fill="#80d890" fill-opacity="0.9"/>
<circle cx="274.2" cy="99.98" r="0.7" fill="#ff7030" fill-opacity="0.9"/>
<circle cx="278.69" cy="95.33" r="0.7" fill="#e8e850" fill-opacity="0.9"/>
<circle cx="320.08" cy="93.39" r="0.7" fill="#ff7030" fill-opacity="0.9"/>
<circle cx="276.34" cy="97.31" r="0.7" fill="#ff9a30" fill-opacity="0.9"/>
<circle cx="269.31" cy="99.66" r="0.7" fill="#e8e850" fill-opacity="0.9"/>
<circle cx="270.93" cy="93.43" r="0.7" fill="#e8e850" fill-opacity="0.9"/>
<circle cx="293.7" cy="101.01" r="0.7" fill="#80d890" fill-opacity="0.9"/>
<circle cx="309.91" cy="104.33" r="0.7" fill="#ff9a30" fill-opacity="0.9"/>
<circle cx="286.81" cy="94.89" r="0.7" fill="#ff7030" fill-opacity="0.9"/>
<circle cx="310.69" cy="93.1" r="0.7" fill="#60d0b0" fill-opacity="0.9"/>
<circle cx="309.49" cy="102.49" r="0.7" fill="#80d890" fill-opacity="0.9"/>
<circle cx="293.29" cy="94" r="0.7" fill="#ffd040" fill-opacity="0.9"/>
<circle cx="283.98" cy="96.82" r="0.7" fill="#ffd040" fill-opacity="0.9"/>
<circle cx="300.08" cy="101.55" r="0.7" fill="#e8e850" fill-opacity="0.9"/>
<circle cx="288.38" cy="102.28" r="0.7" fill="#e8e850" fill-opacity="0.9"/>
<circle cx="272.99" cy="100.93" r="0.7" fill="#ff9a30" fill-opacity="0.9"/>
<circle cx="289.3" cy="103.42" r="0.7" fill="#ff9a30" fill-opacity="0.9"/>
<circle cx="286.47" cy="101.3" r="0.7" fill="#e8e850" fill-opacity="0.9"/>
<circle cx="269.7" cy="97.51" r="0.7" fill="#60d0b0" fill-opacity="0.9"/>
<circle cx="311.85" cy="93.21" r="0.7" fill="#ffd040" fill-opacity="0.9"/>
<circle cx="294.53" cy="102.07" r="0.7" fill="#ffd040" fill-opacity="0.9"/>
<circle cx="282.68" cy="101.42" r="0.7" fill="#ff7030" fill-opacity="0.9"/>
<circle cx="287.37" cy="95.9" r="0.7" fill="#ff7030" fill-opacity="0.9"/>
<circle cx="270.46" cy="101.41" r="0.7" fill="#60d0b0" fill-opacity="0.9"/>
<circle cx="286.08" cy="95.94" r="0.7" fill="#ffd040" fill-opacity="0.9"/>
<circle cx="309.27" cy="99.65" r="0.7" fill="#60d0b0" fill-opacity="0.9"/>
<circle cx="322.15" cy="93.49" r="0.7" fill="#ff9a30" fill-opacity="0.9"/>
<circle cx="274.1" cy="101.05" r="0.7" fill="#e8e850" fill-opacity="0.9"/>
<circle cx="322.57" cy="97.23" r="0.7" fill="#80d890" fill-opacity="0.9"/>
<circle cx="320.26" cy="102.2" r="0.7" fill="#ff9a30" fill-opacity="0.9"/>
<circle cx="321.09" cy="94.86" r="0.7" fill="#60d0b0" fill-opacity="0.9"/>
<circle cx="285.33" cy="100.78" r="0.7" fill="#ff9a30" fill-opacity="0.9"/>
<circle cx="302.73" cy="96.54" r="0.7" fill="#80d890" fill-opacity="0.9"/>
<circle cx="294.34" cy="101.84" r="0.7" fill="#ff7030" fill-opacity="0.9"/>
<circle cx="272.49" cy="95.03" r="0.7" fill="#ff9a30" fill-opacity="0.9"/>
<circle cx="282.12" cy="93.49" r="0.7" fill="#ffd040" fill-opacity="0.9"/>
<circle cx="295.54" cy="99.06" r="0.7" fill="#ff9a30" fill-opacity="0.9"/>
<circle cx="324.08" cy="103" r="0.7" fill="#ffd040" fill-opacity="0.9"/>
<circle cx="283.13" cy="93.71" r="0.7" fill="#ffd040" fill-opacity="0.9"/>
<circle cx="292.07" cy="104.22" r="0.7" fill="#e8e850" fill-opacity="0.9"/>
<circle cx="277.88" cy="94.28" r="0.7" fill="#e8e850" fill-opacity="0.9"/>
<circle cx="303.47" cy="100.57" r="0.7" fill="#60d0b0" fill-opacity="0.9"/>
<circle cx="298.79" cy="101.73" r="0.7" fill="#ffd040" fill-opacity="0.9"/>
<circle cx="312.6" cy="96.15" r="0.7" fill="#80d890" fill-opacity="0.9"/>
<circle cx="300.41" cy="97.07" r="0.7" fill="#60d0b0" fill-opacity="0.9"/>
<circle cx="282.87" cy="97.84" r="0.7" fill="#ff9a30" fill-opacity="0.9"/>
<circle cx="282.01" cy="94.52" r="0.7" fill="#ff7030" fill-opacity="0.9"/>
<circle cx="278.74" cy="93.49" r="0.7" fill="#80d890" fill-opacity="0.9"/>
<circle cx="324.78" cy="98.63" r="0.7" fill="#ff9a30" fill-opacity="0.9"/>
<circle cx="305.15" cy="93.9" r="0.7" fill="#e8e850" fill-opacity="0.9"/>
<circle cx="324.69" cy="93.92" r="0.7" fill="#e8e850" fill-opacity="0.9"/>
<circle cx="318.5" cy="95.42" r="0.7" fill="#e8e850" fill-opacity="0.9"/>
<circle cx="320.31" cy="93.2" r="0.7" fill="#80d890" fill-opacity="0.9"/>
<circle cx="281.29" cy="93.32" r="0.7" fill="#ff7030" fill-opacity="0.9"/>
<circle cx="323.66" cy="99.51" r="0.7" fill="#ffd040" fill-opacity="0.9"/>
<circle cx="289.27" cy="102.8" r="0.7" fill="#e8e850" fill-opacity="0.9"/>
<circle cx="302.48" cy="101.74" r="0.7" fill="#60d0b0" fill-opacity="0.9"/>
<circle cx="322.1" cy="93.96" r="0.7" fill="#ff7030" fill-opacity="0.9"/>
<circle cx="308.59" cy="96.8" r="0.7" fill="#ffd040" fill-opacity="0.9"/>
<circle cx="289.07" cy="94.38" r="0.7" fill="#ff9a30" fill-opacity="0.9"/>
<circle cx="325.2" cy="93.18" r="0.7" fill="#60d0b0" fill-opacity="0.9"/>
<circle cx="305.27" cy="95.1" r="0.7" fill="#ffd040" fill-opacity="0.9"/>
<circle cx="314.84" cy="97.49" r="0.7" fill="#80d890" fill-opacity="0.9"/>
<circle cx="278.56" cy="96.36" r="0.7" fill="#ff9a30" fill-opacity="0.9"/>
<circle cx="269.76" cy="98.49" r="0.7" fill="#e8e850" fill-opacity="0.9"/>
<circle cx="271.58" cy="93.91" r="0.7" fill="#e8e850" fill-opacity="0.9"/>
<circle cx="305.98" cy="94.53" r="0.7" fill="#ff7030" fill-opacity="0.9"/>
<circle cx="273.18" cy="94.64" r="0.7" fill="#60d0b0" fill-opacity="0.9"/>
<circle cx="283.49" cy="104.22" r="0.7" fill="#60d0b0" fill-opacity="0.9"/>
<circle cx="285.57" cy="103.81" r="0.7" fill="#80d890" fill-opacity="0.9"/>
<circle cx="310.63" cy="103" r="0.7" fill="#e8e850" fill-opacity="0.9"/>
<circle cx="291.8" cy="102.78" r="0.7" fill="#80d890" fill-opacity="0.9"/>
<circle cx="304.86" cy="97.27" r="0.7" fill="#e8e850" fill-opacity="0.9"/>
<circle cx="279.62" cy="92.8" r="0.7" fill="#ff9a30" fill-opacity="0.9"/>
<circle cx="292.22" cy="102.27" r="0.7" fill="#e8e850" fill-opacity="0.9"/>
<circle cx="301.04" cy="96.97" r="0.7" fill="#ff9a30" fill-opacity="0.9"/>
<circle cx="275.4" cy="93.33" r="0.7" fill="#ff9a30" fill-opacity="0.9"/>
<circle cx="304.64" cy="103.31" r="0.7" fill="#ffd040" fill-opacity="0.9"/>
<circle cx="300.76" cy="103.51" r="0.7" fill="#60d0b0" fill-opacity="0.9"/>
<circle cx="296.84" cy="94.43" r="0.7" fill="#80d890" fill-opacity="0.9"/>
<circle cx="277.23" cy="94.73" r="0.7" fill="#ffd040" fill-opacity="0.9"/>
<circle cx="274.19" cy="98.43" r="0.7" fill="#ff9a30" fill-opacity="0.9"/>
<circle cx="285.23" cy="102.46" r="0.7" fill="#ffd040" fill-opacity="0.9"/>
<circle cx="323.81" cy="98.34" r="0.7" fill="#ffd040" fill-opacity="0.9"/>
<circle cx="302.75" cy="100.13" r="0.7" fill="#ffd040" fill-opacity="0.9"/>
<circle cx="319.73" cy="99.94" r="0.7" fill="#ff9a30" fill-opacity="0.9"/>
<circle cx="304.62" cy="102.69" r="0.7" fill="#ff7030" fill-opacity="0.9"/>
<rect x="299.58" y="104.53" width="16.23" height="1.71" rx="0.8" fill="#38c4d4" fill-opacity="1"/>
<rect x="267.96" y="108.8" width="77.75" height="3.76" rx="0.8" fill="#24a8e8" fill-opacity="1"/>
<rect x="262.84" y="111.87" width="67.5" height="5.47" rx="0.8" fill="#24b0e8" fill-opacity="1"/>
<circle cx="296.52" cy="116.03" r="0.7" fill="#30c8f0" fill-opacity="0.8"/>
<circle cx="278.54" cy="110.66" r="0.7" fill="#30c8f0" fill-opacity="0.8"/>
<circle cx="339.87" cy="110.13" r="0.7" fill="#30c8f0" fill-opacity="0.8"/>
<circle cx="273.68" cy="110.91" r="0.7" fill="#1478d8" fill-opacity="0.8"/>
<circle cx="329.9" cy="110.44" r="0.7" fill="#1478d8" fill-opacity="0.8"/>
<circle cx="332.08" cy="114.54" r="0.7" fill="#1478d8" fill-opacity="0.8"/>
<circle cx="331.73" cy="109.8" r="0.7" fill="#1478d8" fill-opacity="0.8"/>
<circle cx="300.68" cy="116.05" r="0.7" fill="#30c8f0" fill-opacity="0.8"/>
<circle cx="316.37" cy="111.43" r="0.7" fill="#1890e0" fill-opacity="0.8"/>
<circle cx="298.25" cy="114.43" r="0.7" fill="#30c8f0" fill-opacity="0.8"/>
<circle cx="304.57" cy="110.32" r="0.7" fill="#1890e0" fill-opacity="0.8"/>
<circle cx="313.93" cy="112.98" r="0.7" fill="#1890e0" fill-opacity="0.8"/>
<circle cx="299.96" cy="114.08" r="0.7" fill="#30c8f0" fill-opacity="0.8"/>
<circle cx="331.59" cy="115.72" r="0.7" fill="#30c8f0" fill-opacity="0.8"/>
<circle cx="272.38" cy="109.9" r="0.7" fill="#30c8f0" fill-opacity="0.8"/>
<circle cx="293.34" cy="115.65" r="0.7" fill="#1478d8" fill-opacity="0.8"/>
<circle cx="305.1" cy="109.15" r="0.7" fill="#1478d8" fill-opacity="0.8"/>
<circle cx="274.26" cy="116.68" r="0.7" fill="#30c8f0" fill-opacity="0.8"/>
<circle cx="326.81" cy="113.17" r="0.7" fill="#1890e0" fill-opacity="0.8"/>
<circle cx="324.74" cy="116.44" r="0.7" fill="#1478d8" fill-opacity="0.8"/>
<circle cx="340.87" cy="109.96" r="0.7" fill="#1890e0" fill-opacity="0.8"/>
<circle cx="344.55" cy="115.05" r="0.7" fill="#1890e0" fill-opacity="0.8"/>
<circle cx="279.41" cy="117.19" r="0.7" fill="#30c8f0" fill-opacity="0.8"/>
<circle cx="287.06" cy="115.73" r="0.7" fill="#1890e0" fill-opacity="0.8"/>
<circle cx="319.38" cy="114.96" r="0.7" fill="#1890e0" fill-opacity="0.8"/>
<circle cx="269.01" cy="111.8" r="0.7" fill="#30c8f0" fill-opacity="0.8"/>
<circle cx="276.58" cy="116.46" r="0.7" fill="#30c8f0" fill-opacity="0.8"/>
<circle cx="337.15" cy="112.7" r="0.7" fill="#30c8f0" fill-opacity="0.8"/>
<circle cx="304.46" cy="116.66" r="0.7" fill="#1890e0" fill-opacity="0.8"/>
<circle cx="311.73" cy="114.06" r="0.7" fill="#1890e0" fill-opacity="0.8"/>
<circle cx="289.59" cy="109.11" r="0.7" fill="#1890e0" fill-opacity="0.8"/>
<circle cx="296.44" cy="114.24" r="0.7" fill="#30c8f0" fill-opacity="0.8"/>
<circle cx="318.86" cy="116.45" r="0.7" fill="#1890e0" fill-opacity="0.8"/>
<circle cx="327.99" cy="111.06" r="0.7" fill="#1478d8" fill-opacity="0.8"/>
<circle cx="267.63" cy="116.13" r="0.7" fill="#30c8f0" fill-opacity="0.8"/>
<circle cx="308.75" cy="113.75" r="0.7" fill="#1890e0" fill-opacity="0.8"/>
<circle cx="284.15" cy="113.37" r="0.7" fill="#30c8f0" fill-opacity="0.8"/>
<circle cx="323.59" cy="111.97" r="0.7" fill="#30c8f0" fill-opacity="0.8"/>
<circle cx="344.09" cy="113.73" r="0.7" fill="#30c8f0" fill-opacity="0.8"/>
<circle cx="290.54" cy="109.49" r="0.7" fill="#1890e0" fill-opacity="0.8"/>
<circle cx="278.04" cy="115.15" r="0.7" fill="#1890e0" fill-opacity="0.8"/>
<circle cx="287.75" cy="113.21" r="0.7" fill="#30c8f0" fill-opacity="0.8"/>
<circle cx="315.58" cy="117.21" r="0.7" fill="#1478d8" fill-opacity="0.8"/>
<circle cx="339.05" cy="116.45" r="0.7" fill="#1478d8" fill-opacity="0.8"/>
<circle cx="263.84" cy="109.09" r="0.7" fill="#1890e0" fill-opacity="0.8"/>
<circle cx="287.31" cy="114.14" r="0.7" fill="#30c8f0" fill-opacity="0.8"/>
<circle cx="305.3" cy="116.45" r="0.7" fill="#1890e0" fill-opacity="0.8"/>
<circle cx="303.33" cy="114.03" r="0.7" fill="#1890e0" fill-opacity="0.8"/>
<circle cx="265.5" cy="108.82" r="0.7" fill="#30c8f0" fill-opacity="0.8"/>
<circle cx="288.34" cy="113.27" r="0.7" fill="#1478d8" fill-opacity="0.8"/>
<circle cx="281.89" cy="113.78" r="0.7" fill="#1478d8" fill-opacity="0.8"/>
<circle cx="274.54" cy="111.93" r="0.7" fill="#30c8f0" fill-opacity="0.8"/>
<circle cx="276.57" cy="108.92" r="0.7" fill="#1890e0" fill-opacity="0.8"/>
<circle cx="321.12" cy="112.65" r="0.7" fill="#1890e0" fill-opacity="0.8"/>
<circle cx="315.49" cy="116.24" r="0.7" fill="#30c8f0" fill-opacity="0.8"/>
<circle cx="296.32" cy="111.06" r="0.7" fill="#1890e0" fill-opacity="0.8"/>
<circle cx="268.25" cy="115.81" r="0.7" fill="#30c8f0" fill-opacity="0.8"/>
<circle cx="311.96" cy="113.74" r="0.7" fill="#1478d8" fill-opacity="0.8"/>
<circle cx="339.76" cy="115.06" r="0.7" fill="#1890e0" fill-opacity="0.8"/>
<circle cx="277.09" cy="108.8" r="0.7" fill="#1890e0" fill-opacity="0.8"/>
<circle cx="306.83" cy="112.27" r="0.7" fill="#1890e0" fill-opacity="0.8"/>
<circle cx="276.61" cy="116.59" r="0.7" fill="#1890e0" fill-opacity="0.8"/>
<circle cx="264.69" cy="113.5" r="0.7" fill="#1890e0" fill-opacity="0.8"/>
<circle cx="275.24" cy="110.5" r="0.7" fill="#1478d8" fill-opacity="0.8"/>
<circle cx="315.86" cy="114.33" r="0.7" fill="#30c8f0" fill-opacity="0.8"/>
<circle cx="329.71" cy="110.29" r="0.7" fill="#30c8f0" fill-opacity="0.8"/>
<circle cx="268.87" cy="114.15" r="0.7" fill="#1478d8" fill-opacity="0.8"/>
<circle cx="327.24" cy="114.91" r="0.7" fill="#1890e0" fill-opacity="0.8"/>
<circle cx="294.14" cy="112.53" r="0.7" fill="#30c8f0" fill-opacity="0.8"/>
<circle cx="270.22" cy="114.4" r="0.7" fill="#1890e0" fill-opacity="0.8"/>
<rect x="294.45" y="118.2" width="29.91" height="7.18" rx="2" fill="#1264d2" fill-opacity="1"/>
<rect x="320.94" y="122.13" width="19.65" height="2.39" rx="0.8" fill="#1264d2" fill-opacity="1"/>
<rect x="263.69" y="124.86" width="55.54" height="2.05" rx="0.8" fill="#1054c4" fill-opacity="1"/>
<rect x="277.36" y="131.35" width="46.99" height="4.44" rx="0.8" fill="#0a44a8" fill-opacity="1"/>
<rect x="320.94" y="131.01" width="37.59" height="3.76" rx="0.8" fill="#0a44a8" fill-opacity="1"/>
<rect x="269.67" y="133.92" width="37.59" height="1.03" rx="0.8" fill="#101830" fill-opacity="1"/>
<rect x="302.14" y="131.01" width="22.22" height="8.89" rx="2" fill="#0a44a8" fill-opacity="1"/>
<rect x="312.39" y="138.36" width="47.11" height="4.61" rx="0.8" fill="#1054c0" fill-opacity="1"/>
<rect x="324.35" y="138.87" width="35.15" height="3.42" rx="0.8" fill="#0c4cb4" fill-opacity="1"/>
<rect x="310.68" y="147.96" width="10.25" height="1.88" rx="0.8" fill="#1264d0" fill-opacity="1"/>
<rect x="296.16" y="151.72" width="16.23" height="1.88" rx="0.8" fill="#1264d0" fill-opacity="1"/>
<rect x="268.82" y="151.72" width="21.36" height="2.05" rx="1.2" fill="#3cd6e6" fill-opacity="0.85"/>
<rect x="263.69" y="153.43" width="29.05" height="2.39" rx="1.2" fill="#3cd6e6" fill-opacity="0.85"/>
<rect x="266.25" y="155.48" width="32.47" height="2.39" rx="1.2" fill="#3cd6e6" fill-opacity="0.85"/>
<rect x="262.84" y="157.53" width="39.3" height="2.39" rx="1.2" fill="#3cd6e6" fill-opacity="0.85"/>
<rect x="265.4" y="159.58" width="37.59" height="2.39" rx="1.2" fill="#3cd6e6" fill-opacity="0.85"/>
<rect x="267.96" y="161.63" width="34.18" height="2.39" rx="1.2" fill="#3cd6e6" fill-opacity="0.85"/>
<rect x="273.09" y="163.68" width="22.22" height="2.05" rx="1.2" fill="#3cd6e6" fill-opacity="0.85"/>
<circle cx="272.85" cy="153.43" r="0.7" fill="#80e8e8" fill-opacity="0.9"/>
<circle cx="288.21" cy="153.66" r="0.7" fill="#30c0f0" fill-opacity="0.9"/>
<circle cx="290.69" cy="155.52" r="0.7" fill="#c8f8f4" fill-opacity="0.9"/>
<circle cx="289.5" cy="160.97" r="0.7" fill="#c8f8f4" fill-opacity="0.9"/>
<circle cx="300.25" cy="155.9" r="0.7" fill="#80e8e8" fill-opacity="0.9"/>
<circle cx="267.68" cy="158.65" r="0.7" fill="#80e8e8" fill-opacity="0.9"/>
<circle cx="274.11" cy="155.13" r="0.7" fill="#80e8e8" fill-opacity="0.9"/>
<circle cx="299.25" cy="161.75" r="0.7" fill="#30c0f0" fill-opacity="0.9"/>
<circle cx="271.6" cy="157.11" r="0.7" fill="#c8f8f4" fill-opacity="0.9"/>
<circle cx="273.33" cy="163.85" r="0.7" fill="#c8f8f4" fill-opacity="0.9"/>
<circle cx="281.79" cy="162.97" r="0.7" fill="#20b8e8" fill-opacity="0.9"/>
<circle cx="296.05" cy="157.74" r="0.7" fill="#80e8e8" fill-opacity="0.9"/>
<circle cx="285.5" cy="156.06" r="0.7" fill="#80e8e8" fill-opacity="0.9"/>
<circle cx="278.93" cy="159.67" r="0.7" fill="#c8f8f4" fill-opacity="0.9"/>
<circle cx="298.01" cy="153.94" r="0.7" fill="#20b8e8" fill-opacity="0.9"/>
<circle cx="268.66" cy="160.14" r="0.7" fill="#80e8e8" fill-opacity="0.9"/>
<circle cx="277.21" cy="153.91" r="0.7" fill="#20b8e8" fill-opacity="0.9"/>
<circle cx="265.68" cy="153.86" r="0.7" fill="#20b8e8" fill-opacity="0.9"/>
<circle cx="290.15" cy="161.63" r="0.7" fill="#20b8e8" fill-opacity="0.9"/>
<circle cx="296.01" cy="161.96" r="0.7" fill="#80e8e8" fill-opacity="0.9"/>
<circle cx="294.58" cy="162.71" r="0.7" fill="#20b8e8" fill-opacity="0.9"/>
<circle cx="296.87" cy="161.88" r="0.7" fill="#b0f4f0" fill-opacity="0.9"/>
<circle cx="268.48" cy="154.74" r="0.7" fill="#20b8e8" fill-opacity="0.9"/>
<circle cx="265.79" cy="164.39" r="0.7" fill="#20b8e8" fill-opacity="0.9"/>
<circle cx="294.86" cy="160.27" r="0.7" fill="#30c0f0" fill-opacity="0.9"/>
<circle cx="282.07" cy="153.79" r="0.7" fill="#80e8e8" fill-opacity="0.9"/>
<circle cx="275.36" cy="156.43" r="0.7" fill="#30c0f0" fill-opacity="0.9"/>
<circle cx="265.31" cy="155.4" r="0.7" fill="#30c0f0" fill-opacity="0.9"/>
<circle cx="266.32" cy="161.93" r="0.7" fill="#30c0f0" fill-opacity="0.9"/>
<circle cx="292.81" cy="159.88" r="0.7" fill="#b0f4f0" fill-opacity="0.9"/>
<circle cx="295.82" cy="160.09" r="0.7" fill="#20b8e8" fill-opacity="0.9"/>
<circle cx="293.53" cy="152.47" r="0.7" fill="#c8f8f4" fill-opacity="0.9"/>
<circle cx="292.95" cy="156.57" r="0.7" fill="#20b8e8" fill-opacity="0.9"/>
<circle cx="284.31" cy="154.88" r="0.7" fill="#20b8e8" fill-opacity="0.9"/>
<circle cx="285.65" cy="155.79" r="0.7" fill="#b0f4f0" fill-opacity="0.9"/>
<circle cx="264.59" cy="154.69" r="0.7" fill="#20b8e8" fill-opacity="0.9"/>
<circle cx="264.7" cy="158.44" r="0.7" fill="#b0f4f0" fill-opacity="0.9"/>
<circle cx="290.09" cy="162.78" r="0.7" fill="#b0f4f0" fill-opacity="0.9"/>
<circle cx="286.32" cy="164.49" r="0.7" fill="#c8f8f4" fill-opacity="0.9"/>
<circle cx="274.12" cy="164.32" r="0.7" fill="#30c0f0" fill-opacity="0.9"/>
<circle cx="294.5" cy="164.25" r="0.7" fill="#80e8e8" fill-opacity="0.9"/>
<circle cx="282.85" cy="153.49" r="0.7" fill="#20b8e8" fill-opacity="0.9"/>
<circle cx="282.56" cy="164.94" r="0.7" fill="#c8f8f4" fill-opacity="0.9"/>
<circle cx="293.46" cy="160.22" r="0.7" fill="#30c0f0" fill-opacity="0.9"/>
<circle cx="268.04" cy="164.12" r="0.7" fill="#20b8e8" fill-opacity="0.9"/>
<circle cx="280.05" cy="160.45" r="0.7" fill="#30c0f0" fill-opacity="0.9"/>
<circle cx="272.12" cy="155.48" r="0.7" fill="#c8f8f4" fill-opacity="0.9"/>
<circle cx="282.96" cy="156.99" r="0.7" fill="#80e8e8" fill-opacity="0.9"/>
<circle cx="299.22" cy="153.71" r="0.7" fill="#c8f8f4" fill-opacity="0.9"/>
<circle cx="292.26" cy="161.84" r="0.7" fill="#20b8e8" fill-opacity="0.9"/>
<circle cx="277.35" cy="156.31" r="0.7" fill="#80e8e8" fill-opacity="0.9"/>
<circle cx="296.43" cy="157.91" r="0.7" fill="#c8f8f4" fill-opacity="0.9"/>
<circle cx="291.81" cy="154.27" r="0.7" fill="#b0f4f0" fill-opacity="0.9"/>
<circle cx="289.86" cy="155.4" r="0.7" fill="#80e8e8" fill-opacity="0.9"/>
<circle cx="269.18" cy="158.06" r="0.7" fill="#80e8e8" fill-opacity="0.9"/>
<circle cx="283.2" cy="155.54" r="0.7" fill="#c8f8f4" fill-opacity="0.9"/>
<circle cx="270.22" cy="154.09" r="0.7" fill="#80e8e8" fill-opacity="0.9"/>
<circle cx="291.11" cy="159.89" r="0.7" fill="#30c0f0" fill-opacity="0.9"/>
<circle cx="270.46" cy="156.32" r="0.7" fill="#80e8e8" fill-opacity="0.9"/>
<circle cx="274.05" cy="164.47" r="0.7" fill="#20b8e8" fill-opacity="0.9"/>
<circle cx="270.59" cy="160.61" r="0.7" fill="#80e8e8" fill-opacity="0.9"/>
<circle cx="278.66" cy="164.84" r="0.7" fill="#30c0f0" fill-opacity="0.9"/>
<circle cx="291.49" cy="157.71" r="0.7" fill="#80e8e8" fill-opacity="0.9"/>
<circle cx="268.56" cy="163.9" r="0.7" fill="#30c0f0" fill-opacity="0.9"/>
<circle cx="272.13" cy="157.11" r="0.7" fill="#20b8e8" fill-opacity="0.9"/>
<circle cx="265.01" cy="163.16" r="0.7" fill="#b0f4f0" fill-opacity="0.9"/>
<circle cx="290.02" cy="158.56" r="0.7" fill="#30c0f0" fill-opacity="0.9"/>
<circle cx="281.57" cy="153.91" r="0.7" fill="#c8f8f4" fill-opacity="0.9"/>
<circle cx="291.67" cy="152.13" r="0.7" fill="#80e8e8" fill-opacity="0.9"/>
<circle cx="297.9" cy="157.65" r="0.7" fill="#c8f8f4" fill-opacity="0.9"/>
<circle cx="286.13" cy="160.47" r="0.7" fill="#80e8e8" fill-opacity="0.9"/>
<circle cx="289.08" cy="160.54" r="0.7" fill="#c8f8f4" fill-opacity="0.9"/>
<circle cx="295.86" cy="160.89" r="0.7" fill="#20b8e8" fill-opacity="0.9"/>
<circle cx="281.22" cy="156.13" r="0.7" fill="#20b8e8" fill-opacity="0.9"/>
<circle cx="297.42" cy="155.21" r="0.7" fill="#b0f4f0" fill-opacity="0.9"/>
<circle cx="290.75" cy="160.24" r="0.7" fill="#30c0f0" fill-opacity="0.9"/>
<circle cx="295.75" cy="158.33" r="0.7" fill="#20b8e8" fill-opacity="0.9"/>
<circle cx="287.38" cy="157.38" r="0.7" fill="#80e8e8" fill-opacity="0.9"/>
<circle cx="297.41" cy="156.32" r="0.7" fill="#20b8e8" fill-opacity="0.9"/>
<circle cx="278.83" cy="158.43" r="0.7" fill="#20b8e8" fill-opacity="0.9"/>
<circle cx="265.95" cy="159.12" r="0.7" fill="#80e8e8" fill-opacity="0.9"/>
<circle cx="290.86" cy="164.42" r="0.7" fill="#80e8e8" fill-opacity="0.9"/>
<circle cx="283.62" cy="153.38" r="0.7" fill="#c8f8f4" fill-opacity="0.9"/>
<circle cx="281.33" cy="154.73" r="0.7" fill="#b0f4f0" fill-opacity="0.9"/>
<circle cx="283.36" cy="160.37" r="0.7" fill="#30c0f0" fill-opacity="0.9"/>
<circle cx="283.71" cy="157.39" r="0.7" fill="#b0f4f0" fill-opacity="0.9"/>
<circle cx="272.26" cy="160.95" r="0.7" fill="#b0f4f0" fill-opacity="0.9"/>
<circle cx="283.42" cy="164.18" r="0.7" fill="#c8f8f4" fill-opacity="0.9"/>
<circle cx="277.6" cy="152.8" r="0.7" fill="#30c0f0" fill-opacity="0.9"/>
<circle cx="278.57" cy="152.86" r="0.7" fill="#20b8e8" fill-opacity="0.9"/>
<circle cx="279.92" cy="157.53" r="0.7" fill="#30c0f0" fill-opacity="0.9"/>
<circle cx="285.86" cy="153.48" r="0.7" fill="#30c0f0" fill-opacity="0.9"/>
<circle cx="291.79" cy="164.27" r="0.7" fill="#c8f8f4" fill-opacity="0.9"/>
<circle cx="300.24" cy="164.98" r="0.7" fill="#b0f4f0" fill-opacity="0.9"/>
<circle cx="281.52" cy="154.2" r="0.7" fill="#20b8e8" fill-opacity="0.9"/>
<circle cx="294.29" cy="160.3" r="0.7" fill="#b0f4f0" fill-opacity="0.9"/>
<circle cx="288.14" cy="161.42" r="0.7" fill="#80e8e8" fill-opacity="0.9"/>
<circle cx="277.52" cy="160.36" r="0.7" fill="#b0f4f0" fill-opacity="0.9"/>
<circle cx="281.74" cy="155.89" r="0.7" fill="#c8f8f4" fill-opacity="0.9"/>
<circle cx="288.41" cy="162.19" r="0.7" fill="#b0f4f0" fill-opacity="0.9"/>
<circle cx="277.58" cy="163.11" r="0.7" fill="#30c0f0" fill-opacity="0.9"/>
<circle cx="290.42" cy="160.99" r="0.7" fill="#b0f4f0" fill-opacity="0.9"/>
<circle cx="289.48" cy="158.32" r="0.7" fill="#30c0f0" fill-opacity="0.9"/>
<circle cx="277.7" cy="160.56" r="0.7" fill="#30c0f0" fill-opacity="0.9"/>
<circle cx="282.16" cy="157.63" r="0.7" fill="#20b8e8" fill-opacity="0.9"/>
<circle cx="288.77" cy="156.77" r="0.7" fill="#30c0f0" fill-opacity="0.9"/>
<circle cx="295.94" cy="152.8" r="0.7" fill="#c8f8f4" fill-opacity="0.9"/>
<circle cx="297.82" cy="162.25" r="0.7" fill="#80e8e8" fill-opacity="0.9"/>
<circle cx="284.04" cy="156.55" r="0.7" fill="#c8f8f4" fill-opacity="0.9"/>
<circle cx="265.09" cy="152.21" r="0.7" fill="#20b8e8" fill-opacity="0.9"/>
<rect x="297.01" y="155.48" width="44.43" height="1.88" rx="0.8" fill="#1a78d8" fill-opacity="0.9"/>
<circle cx="312.6" cy="158.64" r="0.7" fill="#1464d0" fill-opacity="1"/>
<circle cx="309.95" cy="163.8" r="0.7" fill="#1464d0" fill-opacity="1"/>
<circle cx="316.71" cy="159.47" r="0.7" fill="#1464d0" fill-opacity="1"/>
<circle cx="297.3" cy="159.95" r="0.7" fill="#1464d0" fill-opacity="1"/>
<circle cx="311.01" cy="162.39" r="0.7" fill="#1464d0" fill-opacity="1"/>
<circle cx="313.02" cy="164.14" r="0.7" fill="#1a80e0" fill-opacity="1"/>
<circle cx="296.92" cy="162.43" r="0.7" fill="#1464d0" fill-opacity="1"/>
<circle cx="315.53" cy="160.25" r="0.7" fill="#1464d0" fill-opacity="1"/>
<circle cx="309.15" cy="158.77" r="0.7" fill="#1464d0" fill-opacity="1"/>
<circle cx="318.44" cy="160.55" r="0.7" fill="#1464d0" fill-opacity="1"/>
<circle cx="306.73" cy="164.24" r="0.7" fill="#1a80e0" fill-opacity="1"/>
<circle cx="298.6" cy="157.91" r="0.7" fill="#1464d0" fill-opacity="1"/>
<circle cx="295.66" cy="159.25" r="0.7" fill="#1a80e0" fill-opacity="1"/>
<circle cx="312.92" cy="163.69" r="0.7" fill="#1a80e0" fill-opacity="1"/>
<circle cx="304.73" cy="165.05" r="0.7" fill="#1464d0" fill-opacity="1"/>
<circle cx="296.35" cy="159.59" r="0.7" fill="#1464d0" fill-opacity="1"/>
<circle cx="290.88" cy="156.9" r="0.7" fill="#1a80e0" fill-opacity="1"/>
<circle cx="317.81" cy="157.31" r="0.7" fill="#1a80e0" fill-opacity="1"/>
<circle cx="306.74" cy="164.18" r="0.7" fill="#1464d0" fill-opacity="1"/>
<circle cx="297.47" cy="160.06" r="0.7" fill="#1464d0" fill-opacity="1"/>
<circle cx="301.75" cy="163.87" r="0.7" fill="#1a80e0" fill-opacity="1"/>
<circle cx="301.84" cy="163.16" r="0.7" fill="#1464d0" fill-opacity="1"/>
<circle cx="299.89" cy="159.43" r="0.7" fill="#1a80e0" fill-opacity="1"/>
<circle cx="309.11" cy="163.57" r="0.7" fill="#1a80e0" fill-opacity="1"/>
<circle cx="302.32" cy="160.72" r="0.7" fill="#1a80e0" fill-opacity="1"/>
<circle cx="307.39" cy="158.83" r="0.7" fill="#1a80e0" fill-opacity="1"/>
<circle cx="323.5" cy="162.1" r="0.7" fill="#1464d0" fill-opacity="1"/>
<circle cx="301.49" cy="159.22" r="0.7" fill="#1a80e0" fill-opacity="1"/>
<circle cx="294.54" cy="164.82" r="0.7" fill="#1464d0" fill-opacity="1"/>
<circle cx="316.98" cy="156.85" r="0.7" fill="#1a80e0" fill-opacity="1"/>
<rect x="310.68" y="162.32" width="34.18" height="2.05" rx="0.8" fill="#28b0e0" fill-opacity="0.9"/>
<rect x="307.27" y="166.76" width="39.3" height="2.56" rx="0.8" fill="#40d0b0" fill-opacity="0.9"/>
<rect x="301.28" y="166.76" width="5.98" height="2.56" rx="0.8" fill="#ffa030" fill-opacity="0.9"/>
<rect x="302.14" y="172.74" width="57.25" height="8.54" rx="0.8" fill="#ffc048" fill-opacity="0.85"/>
<circle cx="333.36" cy="173.01" r="0.7" fill="#e83020" fill-opacity="1"/>
<circle cx="308.35" cy="172.98" r="0.7" fill="#ffa030" fill-opacity="1"/>
<circle cx="336.98" cy="178.42" r="0.7" fill="#f05020" fill-opacity="1"/>
<circle cx="354.22" cy="178.01" r="0.7" fill="#f05020" fill-opacity="1"/>
<circle cx="310.56" cy="178.56" r="0.7" fill="#e8e860" fill-opacity="1"/>
<circle cx="336.28" cy="178.62" r="0.7" fill="#ffe050" fill-opacity="1"/>
<circle cx="304.4" cy="178.2" r="0.7" fill="#e8e860" fill-opacity="1"/>
<circle cx="345.8" cy="173.47" r="0.7" fill="#ffe050" fill-opacity="1"/>
<circle cx="351.9" cy="176.32" r="0.7" fill="#ff8020" fill-opacity="1"/>
<circle cx="354.47" cy="178.4" r="0.7" fill="#e83020" fill-opacity="1"/>
<circle cx="352.05" cy="173.8" r="0.7" fill="#e83020" fill-opacity="1"/>
<circle cx="334.32" cy="174.86" r="0.7" fill="#e83020" fill-opacity="1"/>
<circle cx="312.72" cy="172.87" r="0.7" fill="#ff8020" fill-opacity="1"/>
<circle cx="326.79" cy="178.27" r="0.7" fill="#ff8020" fill-opacity="1"/>
<circle cx="330.63" cy="177.21" r="0.7" fill="#ff8020" fill-opacity="1"/>
<circle cx="346.44" cy="176.31" r="0.7" fill="#e8e860" fill-opacity="1"/>
<circle cx="354.73" cy="176.54" r="0.7" fill="#ff8020" fill-opacity="1"/>
<circle cx="341.06" cy="177.85" r="0.7" fill="#e8e860" fill-opacity="1"/>
<circle cx="358.29" cy="176.79" r="0.7" fill="#ffa030" fill-opacity="1"/>
<circle cx="333.56" cy="173.31" r="0.7" fill="#ffa030" fill-opacity="1"/>
<circle cx="314.29" cy="173.92" r="0.7" fill="#ff8020" fill-opacity="1"/>
<circle cx="326.58" cy="172.65" r="0.7" fill="#e8e860" fill-opacity="1"/>
<circle cx="309.1" cy="181.16" r="0.7" fill="#ff8020" fill-opacity="1"/>
<circle cx="314.63" cy="173.65" r="0.7" fill="#ffa030" fill-opacity="1"/>
<circle cx="303.16" cy="178.96" r="0.7" fill="#ffe050" fill-opacity="1"/>
<circle cx="327.94" cy="179.18" r="0.7" fill="#ff8020" fill-opacity="1"/>
<circle cx="323.08" cy="179.21" r="0.7" fill="#e8e860" fill-opacity="1"/>
<circle cx="351.11" cy="179.05" r="0.7" fill="#ff8020" fill-opacity="1"/>
<circle cx="318.92" cy="177.52" r="0.7" fill="#ffa030" fill-opacity="1"/>
<circle cx="328.51" cy="180.85" r="0.7" fill="#e83020" fill-opacity="1"/>
<circle cx="354.44" cy="173.04" r="0.7" fill="#ff8020" fill-opacity="1"/>
<circle cx="302.79" cy="172.7" r="0.7" fill="#e8e860" fill-opacity="1"/>
<circle cx="341.45" cy="178.06" r="0.7" fill="#ffa030" fill-opacity="1"/>
<circle cx="319.95" cy="179.05" r="0.7" fill="#ffe050" fill-opacity="1"/>
<circle cx="356.96" cy="179.99" r="0.7" fill="#f05020" fill-opacity="1"/>
<circle cx="305.56" cy="175.84" r="0.7" fill="#f05020" fill-opacity="1"/>
<circle cx="343.8" cy="176.74" r="0.7" fill="#ffe050" fill-opacity="1"/>
<circle cx="310.43" cy="179.66" r="0.7" fill="#e83020" fill-opacity="1"/>
<circle cx="356.75" cy="174.03" r="0.7" fill="#ffa030" fill-opacity="1"/>
<circle cx="329.44" cy="179.48" r="0.7" fill="#ffa030" fill-opacity="1"/>
<circle cx="356.23" cy="179.54" r="0.7" fill="#f05020" fill-opacity="1"/>
<circle cx="321.25" cy="175.06" r="0.7" fill="#f05020" fill-opacity="1"/>
<circle cx="357.89" cy="178.82" r="0.7" fill="#f05020" fill-opacity="1"/>
<circle cx="321.15" cy="177.95" r="0.7" fill="#ff8020" fill-opacity="1"/>
<circle cx="349.73" cy="177.91" r="0.7" fill="#e83020" fill-opacity="1"/>
<circle cx="335.61" cy="181.25" r="0.7" fill="#ffe050" fill-opacity="1"/>
<circle cx="323.7" cy="178.66" r="0.7" fill="#f05020" fill-opacity="1"/>
<circle cx="346.3" cy="174.65" r="0.7" fill="#ffa030" fill-opacity="1"/>
<circle cx="318.36" cy="172.58" r="0.7" fill="#e83020" fill-opacity="1"/>
<circle cx="317.48" cy="173.97" r="0.7" fill="#ff8020" fill-opacity="1"/>
<circle cx="318.66" cy="173.82" r="0.7" fill="#f05020" fill-opacity="1"/>
<circle cx="310.55" cy="181.24" r="0.7" fill="#f05020" fill-opacity="1"/>
<circle cx="341.33" cy="180.69" r="0.7" fill="#e83020" fill-opacity="1"/>
<circle cx="332.74" cy="177.37" r="0.7" fill="#ffa030" fill-opacity="1"/>
<circle cx="347.79" cy="174.35" r="0.7" fill="#e8e860" fill-opacity="1"/>
<circle cx="355.48" cy="174.65" r="0.7" fill="#f05020" fill-opacity="1"/>
<circle cx="305.43" cy="176.08" r="0.7" fill="#e8e860" fill-opacity="1"/>
<circle cx="313.97" cy="174.83" r="0.7" fill="#ff8020" fill-opacity="1"/>
<circle cx="347.46" cy="176.65" r="0.7" fill="#ff8020" fill-opacity="1"/>
<circle cx="332.83" cy="175.73" r="0.7" fill="#ff8020" fill-opacity="1"/>
<circle cx="315.47" cy="177.72" r="0.7" fill="#e83020" fill-opacity="1"/>
<circle cx="352.81" cy="177.21" r="0.7" fill="#ffa030" fill-opacity="1"/>
<circle cx="331.12" cy="174.36" r="0.7" fill="#ffe050" fill-opacity="1"/>
<circle cx="313.15" cy="174.18" r="0.7" fill="#e8e860" fill-opacity="1"/>
<circle cx="318.73" cy="177.7" r="0.7" fill="#e83020" fill-opacity="1"/>
<circle cx="325.18" cy="177.17" r="0.7" fill="#ffe050" fill-opacity="1"/>
<circle cx="316.24" cy="180.77" r="0.7" fill="#ffa030" fill-opacity="1"/>
<circle cx="323.55" cy="173.51" r="0.7" fill="#e8e860" fill-opacity="1"/>
<circle cx="328.67" cy="173.3" r="0.7" fill="#e83020" fill-opacity="1"/>
<circle cx="336.33" cy="175.63" r="0.7" fill="#f05020" fill-opacity="1"/>
<circle cx="336.9" cy="173.41" r="0.7" fill="#ffe050" fill-opacity="1"/>
<circle cx="358.84" cy="180.27" r="0.7" fill="#ffa030" fill-opacity="1"/>
<circle cx="335.73" cy="174.47" r="0.7" fill="#e83020" fill-opacity="1"/>
<circle cx="326.52" cy="180.98" r="0.7" fill="#f05020" fill-opacity="1"/>
<circle cx="349.01" cy="181.13" r="0.7" fill="#e83020" fill-opacity="1"/>
<circle cx="350.44" cy="175.58" r="0.7" fill="#ffe050" fill-opacity="1"/>
<circle cx="323.79" cy="172.81" r="0.7" fill="#ff8020" fill-opacity="1"/>
<circle cx="334.05" cy="180.31" r="0.7" fill="#ffa030" fill-opacity="1"/>
<circle cx="330.01" cy="180.08" r="0.7" fill="#ff8020" fill-opacity="1"/>
<circle cx="351.54" cy="178.26" r="0.7" fill="#ff8020" fill-opacity="1"/>
<circle cx="342.58" cy="173.37" r="0.7" fill="#e83020" fill-opacity="1"/>
<circle cx="334.45" cy="178.26" r="0.7" fill="#e8e860" fill-opacity="1"/>
<circle cx="331.13" cy="174.19" r="0.7" fill="#ffe050" fill-opacity="1"/>
<circle cx="323.37" cy="174.66" r="0.7" fill="#e8e860" fill-opacity="1"/>
<circle cx="314.83" cy="172.91" r="0.7" fill="#e83020" fill-opacity="1"/>
<circle cx="356.02" cy="173.1" r="0.7" fill="#f05020" fill-opacity="1"/>
<circle cx="353.92" cy="180.01" r="0.7" fill="#ff8020" fill-opacity="1"/>
<circle cx="316.9" cy="177.13" r="0.7" fill="#e8e860" fill-opacity="1"/>
<circle cx="339.16" cy="181.33" r="0.7" fill="#ff8020" fill-opacity="1"/>
<circle cx="307.92" cy="175.39" r="0.7" fill="#ff8020" fill-opacity="1"/>
<circle cx="355.92" cy="178.58" r="0.7" fill="#e83020" fill-opacity="1"/>
<circle cx="335.9" cy="176.49" r="0.7" fill="#e8e860" fill-opacity="1"/>
<circle cx="308.17" cy="175.45" r="0.7" fill="#e83020" fill-opacity="1"/>
<circle cx="324.47" cy="175.9" r="0.7" fill="#ffa030" fill-opacity="1"/>
<circle cx="311.79" cy="174.69" r="0.7" fill="#ffe050" fill-opacity="1"/>
<circle cx="354.48" cy="180.5" r="0.7" fill="#ffa030" fill-opacity="1"/>
<circle cx="343.2" cy="174.3" r="0.7" fill="#ff8020" fill-opacity="1"/>
<circle cx="311.12" cy="179.97" r="0.7" fill="#ff8020" fill-opacity="1"/>
<circle cx="355.61" cy="180.27" r="0.7" fill="#e8e860" fill-opacity="1"/>
<circle cx="310.14" cy="176.54" r="0.7" fill="#ff8020" fill-opacity="1"/>
<circle cx="355.15" cy="175.99" r="0.7" fill="#ff8020" fill-opacity="1"/>
<circle cx="338.11" cy="176.59" r="0.7" fill="#e83020" fill-opacity="1"/>
<circle cx="320.61" cy="174.65" r="0.7" fill="#ff8020" fill-opacity="1"/>
<circle cx="338.1" cy="173.84" r="0.7" fill="#ffe050" fill-opacity="1"/>
<circle cx="344.28" cy="174.17" r="0.7" fill="#ffa030" fill-opacity="1"/>
<circle cx="333.82" cy="173.86" r="0.7" fill="#ffe050" fill-opacity="1"/>
<circle cx="317.39" cy="176.23" r="0.7" fill="#ffe050" fill-opacity="1"/>
<circle cx="303.59" cy="177.64" r="0.7" fill="#e83020" fill-opacity="1"/>
<circle cx="321.29" cy="174.06" r="0.7" fill="#ffa030" fill-opacity="1"/>
<circle cx="308.39" cy="176.62" r="0.7" fill="#ffa030" fill-opacity="1"/>
<circle cx="308.68" cy="181.27" r="0.7" fill="#ff8020" fill-opacity="1"/>
<circle cx="338.26" cy="179.57" r="0.7" fill="#ffe050" fill-opacity="1"/>
<circle cx="334.19" cy="179.99" r="0.7" fill="#ff8020" fill-opacity="1"/>
<circle cx="316.9" cy="174.36" r="0.7" fill="#e83020" fill-opacity="1"/>
<circle cx="326.87" cy="174.89" r="0.7" fill="#ffe050" fill-opacity="1"/>
<circle cx="355.1" cy="173.44" r="0.7" fill="#e83020" fill-opacity="1"/>
<circle cx="325.93" cy="174.01" r="0.7" fill="#e8e860" fill-opacity="1"/>
<circle cx="358.16" cy="173.85" r="0.7" fill="#e8e860" fill-opacity="1"/>
<circle cx="303.06" cy="179.74" r="0.7" fill="#e83020" fill-opacity="1"/>
<circle cx="331.38" cy="176.51" r="0.7" fill="#f05020" fill-opacity="1"/>
<circle cx="318.53" cy="175.77" r="0.7" fill="#ff8020" fill-opacity="1"/>
<circle cx="354.35" cy="174.51" r="0.7" fill="#f05020" fill-opacity="1"/>
<circle cx="312.48" cy="180.06" r="0.7" fill="#f05020" fill-opacity="1"/>
<circle cx="346.24" cy="178.89" r="0.7" fill="#ffe050" fill-opacity="1"/>
<circle cx="336.52" cy="179.94" r="0.7" fill="#f05020" fill-opacity="1"/>
<circle cx="343.98" cy="179.33" r="0.7" fill="#ffe050" fill-opacity="1"/>
<circle cx="313.93" cy="178.01" r="0.7" fill="#e8e860" fill-opacity="1"/>
<circle cx="338.12" cy="174.28" r="0.7" fill="#e83020" fill-opacity="1"/>
<circle cx="313.72" cy="173.15" r="0.7" fill="#e8e860" fill-opacity="1"/>
<circle cx="331.88" cy="180.04" r="0.7" fill="#ff8020" fill-opacity="1"/>
<circle cx="331.82" cy="175.66" r="0.7" fill="#e83020" fill-opacity="1"/>
<circle cx="350.34" cy="180.25" r="0.7" fill="#ffa030" fill-opacity="1"/>
<circle cx="307.31" cy="176.21" r="0.7" fill="#ffa030" fill-opacity="1"/>
<circle cx="309.77" cy="178.48" r="0.7" fill="#ffe050" fill-opacity="1"/>
<circle cx="312.79" cy="179.96" r="0.7" fill="#e83020" fill-opacity="1"/>
<circle cx="304.24" cy="178.81" r="0.7" fill="#f05020" fill-opacity="1"/>
<circle cx="336.2" cy="172.61" r="0.7" fill="#f05020" fill-opacity="1"/>
<circle cx="355.5" cy="181.18" r="0.7" fill="#ff8020" fill-opacity="1"/>
<circle cx="309.05" cy="178.92" r="0.7" fill="#e83020" fill-opacity="1"/>
<circle cx="346.74" cy="180.28" r="0.7" fill="#f05020" fill-opacity="1"/>
<circle cx="345.15" cy="173.11" r="0.7" fill="#ff8020" fill-opacity="1"/>
<circle cx="356.76" cy="176.97" r="0.7" fill="#f05020" fill-opacity="1"/>
<circle cx="303.61" cy="179.72" r="0.7" fill="#ffe050" fill-opacity="1"/>
<circle cx="303.32" cy="181.17" r="0.7" fill="#ffe050" fill-opacity="1"/>
<circle cx="337.58" cy="174.06" r="0.7" fill="#e83020" fill-opacity="1"/>
<circle cx="316.48" cy="179.83" r="0.7" fill="#ff8020" fill-opacity="1"/>
<circle cx="303.25" cy="180.8" r="0.7" fill="#e8e860" fill-opacity="1"/>
<circle cx="313.31" cy="172.73" r="0.7" fill="#f05020" fill-opacity="1"/>
<circle cx="338.6" cy="176.69" r="0.7" fill="#ffe050" fill-opacity="1"/>
<circle cx="342.36" cy="173.48" r="0.7" fill="#ff8020" fill-opacity="1"/>
<circle cx="343.19" cy="172.97" r="0.7" fill="#ff8020" fill-opacity="1"/>
<circle cx="328.75" cy="177.78" r="0.7" fill="#e83020" fill-opacity="1"/>
<circle cx="308.44" cy="173.65" r="0.7" fill="#ffe050" fill-opacity="1"/>
<circle cx="333.14" cy="174.59" r="0.7" fill="#ffe050" fill-opacity="1"/>
<circle cx="310.57" cy="177.66" r="0.7" fill="#e8e860" fill-opacity="1"/>
<circle cx="324.84" cy="181" r="0.7" fill="#ff8020" fill-opacity="1"/>
<circle cx="355.81" cy="176.02" r="0.7" fill="#ffa030" fill-opacity="1"/>
<circle cx="336.32" cy="177.93" r="0.7" fill="#ff8020" fill-opacity="1"/>
<circle cx="324.79" cy="180.93" r="0.7" fill="#e83020" fill-opacity="1"/>
<circle cx="321.52" cy="174.71" r="0.7" fill="#e83020" fill-opacity="1"/>
<circle cx="343.1" cy="180.06" r="0.7" fill="#f05020" fill-opacity="1"/>
<circle cx="348.19" cy="180.68" r="0.7" fill="#ffa030" fill-opacity="1"/>
<circle cx="350.66" cy="173.05" r="0.7" fill="#f05020" fill-opacity="1"/>
<circle cx="310.53" cy="178.61" r="0.7" fill="#e83020" fill-opacity="1"/>
<circle cx="316.41" cy="176.32" r="0.7" fill="#e8e860" fill-opacity="1"/>
<circle cx="302.8" cy="173.54" r="0.7" fill="#ffe050" fill-opacity="1"/>
<circle cx="306.1" cy="176.42" r="0.7" fill="#f05020" fill-opacity="1"/>
<circle cx="340.45" cy="174.57" r="0.7" fill="#ffa030" fill-opacity="1"/>
<circle cx="357.65" cy="179.47" r="0.7" fill="#ffa030" fill-opacity="1"/>
<circle cx="338.39" cy="179.76" r="0.7" fill="#ff8020" fill-opacity="1"/>
<rect x="302.14" y="182.99" width="15.38" height="1.88" rx="0.8" fill="#f06a28" fill-opacity="1"/>
<rect x="296.16" y="188.97" width="19.65" height="1.88" rx="0.8" fill="#e03a20" fill-opacity="1"/>
<rect x="302.99" y="183.37" width="13.67" height="1.37" rx="0.8" fill="#f07028" fill-opacity="1"/>
<rect x="296.16" y="188.84" width="19.65" height="1.88" rx="0.8" fill="#e84020" fill-opacity="1"/>
<rect x="307.27" y="194.82" width="14.53" height="1.88" rx="0.8" fill="#d82420" fill-opacity="1"/>
<circle cx="307.77" cy="196.02" r="0.7" fill="#a01414" fill-opacity="1"/>
<circle cx="320.6" cy="195.99" r="0.7" fill="#7a1010" fill-opacity="1"/>
<circle cx="316.29" cy="195.29" r="0.7" fill="#7a1010" fill-opacity="1"/>
<circle cx="313.57" cy="196.6" r="0.7" fill="#a01414" fill-opacity="1"/>
<circle cx="308.91" cy="195.47" r="0.7" fill="#7a1010" fill-opacity="1"/>
<circle cx="309.01" cy="195.93" r="0.7" fill="#a01414" fill-opacity="1"/>
<circle cx="308.49" cy="195.93" r="0.7" fill="#7a1010" fill-opacity="1"/>
<rect x="305.56" y="197.72" width="25.63" height="2.39" rx="0.8" fill="#d82420" fill-opacity="1"/>
<circle cx="316.83" cy="198.95" r="0.7" fill="#a01414" fill-opacity="1"/>
<circle cx="329.03" cy="199.1" r="0.7" fill="#a01414" fill-opacity="1"/>
<circle cx="311.8" cy="197.93" r="0.7" fill="#a01414" fill-opacity="1"/>
<circle cx="327.08" cy="199.18" r="0.7" fill="#7a1010" fill-opacity="1"/>
<circle cx="322.23" cy="198.2" r="0.7" fill="#a01414" fill-opacity="1"/>
<circle cx="317.37" cy="199.03" r="0.7" fill="#a01414" fill-opacity="1"/>
<circle cx="317.58" cy="198.46" r="0.7" fill="#7a1010" fill-opacity="1"/>
<circle cx="314.11" cy="198.17" r="0.7" fill="#a01414" fill-opacity="1"/>
<circle cx="330.41" cy="198.67" r="0.7" fill="#a01414" fill-opacity="1"/>
<circle cx="309.72" cy="200" r="0.7" fill="#a01414" fill-opacity="1"/>
<circle cx="319.83" cy="198.9" r="0.7" fill="#a01414" fill-opacity="1"/>
<circle cx="328.07" cy="198.24" r="0.7" fill="#7a1010" fill-opacity="1"/>
<rect x="304.7" y="202.51" width="9.4" height="1.88" rx="0.8" fill="#d82420" fill-opacity="1"/>
<circle cx="311.96" cy="202.8" r="0.7" fill="#7a1010" fill-opacity="1"/>
<circle cx="310.4" cy="203.16" r="0.7" fill="#7a1010" fill-opacity="1"/>
<circle cx="309.56" cy="204.07" r="0.7" fill="#a01414" fill-opacity="1"/>
<circle cx="311.61" cy="202.71" r="0.7" fill="#7a1010" fill-opacity="1"/>
<rect x="302.14" y="204.56" width="29.05" height="1.88" rx="0.8" fill="#d82420" fill-opacity="1"/>
<circle cx="330.88" cy="205.83" r="0.7" fill="#7a1010" fill-opacity="1"/>
<circle cx="314.25" cy="205.81" r="0.7" fill="#7a1010" fill-opacity="1"/>
<circle cx="321.76" cy="205.72" r="0.7" fill="#a01414" fill-opacity="1"/>
<circle cx="326" cy="205.53" r="0.7" fill="#a01414" fill-opacity="1"/>
<circle cx="309.94" cy="205.74" r="0.7" fill="#7a1010" fill-opacity="1"/>
<circle cx="314.14" cy="204.75" r="0.7" fill="#a01414" fill-opacity="1"/>
<circle cx="324.38" cy="205.66" r="0.7" fill="#a01414" fill-opacity="1"/>
<circle cx="313.69" cy="206.42" r="0.7" fill="#7a1010" fill-opacity="1"/>
<circle cx="314.28" cy="206.03" r="0.7" fill="#7a1010" fill-opacity="1"/>
<circle cx="313.17" cy="205.41" r="0.7" fill="#a01414" fill-opacity="1"/>
<circle cx="310.51" cy="205.22" r="0.7" fill="#a01414" fill-opacity="1"/>
<circle cx="313.49" cy="205.6" r="0.7" fill="#a01414" fill-opacity="1"/>
<circle cx="320.97" cy="204.57" r="0.7" fill="#a01414" fill-opacity="1"/>
<circle cx="313.2" cy="205.12" r="0.7" fill="#a01414" fill-opacity="1"/>
<rect x="307.27" y="207.63" width="30.76" height="1.88" rx="0.8" fill="#d82420" fill-opacity="1"/>
<circle cx="331.96" cy="208.45" r="0.7" fill="#a01414" fill-opacity="1"/>
<circle cx="325.16" cy="207.8" r="0.7" fill="#a01414" fill-opacity="1"/>
<circle cx="317.23" cy="209.22" r="0.7" fill="#7a1010" fill-opacity="1"/>
<circle cx="336.76" cy="208.02" r="0.7" fill="#a01414" fill-opacity="1"/>
<circle cx="334.68" cy="209.43" r="0.7" fill="#7a1010" fill-opacity="1"/>
<circle cx="308.73" cy="208.69" r="0.7" fill="#a01414" fill-opacity="1"/>
<circle cx="316.49" cy="208.64" r="0.7" fill="#a01414" fill-opacity="1"/>
<circle cx="323.83" cy="209.51" r="0.7" fill="#a01414" fill-opacity="1"/>
<circle cx="319.25" cy="208.31" r="0.7" fill="#a01414" fill-opacity="1"/>
<circle cx="321.2" cy="207.65" r="0.7" fill="#7a1010" fill-opacity="1"/>
<circle cx="323.42" cy="207.82" r="0.7" fill="#a01414" fill-opacity="1"/>
<circle cx="322.67" cy="208.85" r="0.7" fill="#7a1010" fill-opacity="1"/>
<circle cx="334.33" cy="209.45" r="0.7" fill="#a01414" fill-opacity="1"/>
<circle cx="319.62" cy="209.08" r="0.7" fill="#a01414" fill-opacity="1"/>
<circle cx="328.54" cy="209.04" r="0.7" fill="#7a1010" fill-opacity="1"/>
<rect x="302.14" y="209.68" width="22.22" height="1.88" rx="0.8" fill="#d82420" fill-opacity="1"/>
<circle cx="305.93" cy="210.28" r="0.7" fill="#7a1010" fill-opacity="1"/>
<circle cx="320.49" cy="210.65" r="0.7" fill="#7a1010" fill-opacity="1"/>
<circle cx="316.71" cy="210.24" r="0.7" fill="#a01414" fill-opacity="1"/>
<circle cx="320.37" cy="211.54" r="0.7" fill="#a01414" fill-opacity="1"/>
<circle cx="316.16" cy="210.67" r="0.7" fill="#7a1010" fill-opacity="1"/>
<circle cx="313.36" cy="210.04" r="0.7" fill="#7a1010" fill-opacity="1"/>
<circle cx="303.48" cy="210.75" r="0.7" fill="#7a1010" fill-opacity="1"/>
<circle cx="309.99" cy="211.55" r="0.7" fill="#7a1010" fill-opacity="1"/>
<circle cx="317.51" cy="209.7" r="0.7" fill="#7a1010" fill-opacity="1"/>
<circle cx="308.95" cy="210.98" r="0.7" fill="#7a1010" fill-opacity="1"/>
<rect x="308.97" y="211.91" width="15.38" height="1.88" rx="0.8" fill="#d82420" fill-opacity="1"/>
<circle cx="323.08" cy="212.65" r="0.7" fill="#7a1010" fill-opacity="1"/>
<circle cx="317.99" cy="213.16" r="0.7" fill="#7a1010" fill-opacity="1"/>
<circle cx="311.67" cy="213.35" r="0.7" fill="#a01414" fill-opacity="1"/>
<circle cx="322.37" cy="213.59" r="0.7" fill="#7a1010" fill-opacity="1"/>
<circle cx="317.81" cy="212.68" r="0.7" fill="#7a1010" fill-opacity="1"/>
<circle cx="311.21" cy="212.88" r="0.7" fill="#7a1010" fill-opacity="1"/>
<circle cx="309.42" cy="212.05" r="0.7" fill="#a01414" fill-opacity="1"/>
<rect x="260.9" y="36.5" width="98.9" height="196.1" fill="none" stroke="#444" stroke-width="0.8"/>
<text x="258.3" y="38.9" text-anchor="end" font-size="7.3">200</text>
<path d="M260.9 36.5h1.6M359.8 36.5h-1.6" stroke="#444" stroke-width="0.6"/>
<text x="258.3" y="58.53" text-anchor="end" font-size="7.3">180</text>
<path d="M260.9 56.13h1.6M359.8 56.13h-1.6" stroke="#444" stroke-width="0.6"/>
<text x="258.3" y="78.16" text-anchor="end" font-size="7.3">160</text>
<path d="M260.9 75.76h1.6M359.8 75.76h-1.6" stroke="#444" stroke-width="0.6"/>
<text x="258.3" y="97.78" text-anchor="end" font-size="7.3">140</text>
<path d="M260.9 95.38h1.6M359.8 95.38h-1.6" stroke="#444" stroke-width="0.6"/>
<text x="258.3" y="117.41" text-anchor="end" font-size="7.3">120</text>
<path d="M260.9 115.01h1.6M359.8 115.01h-1.6" stroke="#444" stroke-width="0.6"/>
<text x="258.3" y="137.04" text-anchor="end" font-size="7.3">100</text>
<path d="M260.9 134.64h1.6M359.8 134.64h-1.6" stroke="#444" stroke-width="0.6"/>
<text x="258.3" y="156.67" text-anchor="end" font-size="7.3">80</text>
<path d="M260.9 154.27h1.6M359.8 154.27h-1.6" stroke="#444" stroke-width="0.6"/>
<text x="258.3" y="176.3" text-anchor="end" font-size="7.3">60</text>
<path d="M260.9 173.9h1.6M359.8 173.9h-1.6" stroke="#444" stroke-width="0.6"/>
<text x="258.3" y="195.93" text-anchor="end" font-size="7.3">40</text>
<path d="M260.9 193.53h1.6M359.8 193.53h-1.6" stroke="#444" stroke-width="0.6"/>
<text x="258.3" y="215.55" text-anchor="end" font-size="7.3">20</text>
<path d="M260.9 213.15h1.6M359.8 213.15h-1.6" stroke="#444" stroke-width="0.6"/>
<text x="258.3" y="235" text-anchor="end" font-size="7.3">1</text>
<path d="M260.9 232.6h1.6M359.8 232.6h-1.6" stroke="#444" stroke-width="0.6"/>
<text x="260.9" y="241.4" text-anchor="middle" font-size="7">1</text>
<path d="M260.9 232.6v-1.6M260.9 36.5v1.6" stroke="#444" stroke-width="0.6"/>
<text x="279.88" y="241.4" text-anchor="middle" font-size="7">20</text>
<path d="M279.88 232.6v-1.6M279.88 36.5v1.6" stroke="#444" stroke-width="0.6"/>
<text x="299.86" y="241.4" text-anchor="middle" font-size="7">40</text>
<path d="M299.86 232.6v-1.6M299.86 36.5v1.6" stroke="#444" stroke-width="0.6"/>
<text x="319.84" y="241.4" text-anchor="middle" font-size="7">60</text>
<path d="M319.84 232.6v-1.6M319.84 36.5v1.6" stroke="#444" stroke-width="0.6"/>
<text x="339.82" y="241.4" text-anchor="middle" font-size="7">80</text>
<path d="M339.82 232.6v-1.6M339.82 36.5v1.6" stroke="#444" stroke-width="0.6"/>
<text x="359.8" y="241.4" text-anchor="middle" font-size="7">100</text>
<path d="M359.8 232.6v-1.6M359.8 36.5v1.6" stroke="#444" stroke-width="0.6"/>
<text x="309" y="31.4" text-anchor="middle" font-size="7" textLength="69" lengthAdjust="spacingAndGlyphs">Microseismicity Cloud</text><text x="308" y="251" text-anchor="middle" font-size="7">X</text><text transform="translate(243.5,134) rotate(-90)" text-anchor="middle" font-size="7">Y</text>
<defs><linearGradient id="jet" x1="0" y1="0" x2="0" y2="1"><stop offset="0" stop-color="#7a1a1a"/><stop offset="0.06" stop-color="#c42a24"/><stop offset="0.14" stop-color="#ee3c2c"/><stop offset="0.24" stop-color="#f4683a"/><stop offset="0.32" stop-color="#fba845"/><stop offset="0.376" stop-color="#f8e452"/><stop offset="0.455" stop-color="#b8e86c"/><stop offset="0.535" stop-color="#5ce8a8"/><stop offset="0.63" stop-color="#24e0f0"/><stop offset="0.71" stop-color="#1cacf0"/><stop offset="0.81" stop-color="#1478e8"/><stop offset="0.93" stop-color="#0c58d0"/><stop offset="1" stop-color="#0c3890"/></linearGradient></defs>
<rect x="388.6" y="67" width="17.6" height="117.3" fill="url(#jet)" stroke="#555" stroke-width="0.6"/>
<text x="407.6" y="71.4" font-size="6.3" fill="#46526a">130 (min)</text>
<text x="407.6" y="94.7" font-size="6.3" fill="#46526a">104</text>
<text x="407.6" y="118.2" font-size="6.3" fill="#46526a">78</text>
<text x="407.6" y="141.8" font-size="6.3" fill="#46526a">52</text>
<text x="407.6" y="165.3" font-size="6.3" fill="#46526a">26</text>
<text x="407.6" y="186.8" font-size="6.3" fill="#46526a">2</text>
</g>
<g id="pd">
<rect x="82.8" y="319" width="103.8" height="207.6" fill="#ffd15a"/>
<rect x="125.8" y="342.06" width="21.65" height="1.8" rx="0.5" fill="#ffc24e" fill-opacity="0.7"/>
<rect x="94.23" y="348.37" width="66.74" height="2.16" rx="0.5" fill="#ffc650" fill-opacity="0.6"/>
<rect x="88.82" y="356.13" width="43.29" height="2.53" rx="0.5" fill="#ffc44e" fill-opacity="0.6"/>
<rect x="159.17" y="351.08" width="19.84" height="2.16" rx="0.5" fill="#ffc650" fill-opacity="0.5"/>
<rect x="128.51" y="366.41" width="39.68" height="1.8" rx="0.5" fill="#ffbe4c" fill-opacity="0.7"/>
<rect x="135.72" y="368.39" width="14.43" height="1.26" rx="0.5" fill="#ffb84a" fill-opacity="0.7"/>
<rect x="135.72" y="370.36" width="9.02" height="1.08" rx="0.5" fill="#ffb652" fill-opacity="0.8"/>
<rect x="120.39" y="376.85" width="20.74" height="1.8" rx="0.5" fill="#ffb458" fill-opacity="0.9"/>
<rect x="95.14" y="379.92" width="55.02" height="2.71" rx="0.5" fill="#ffae52" fill-opacity="0.9"/>
<rect x="91.53" y="383.53" width="11.72" height="4.51" rx="1.5" fill="#ffa24a" fill-opacity="0.9"/>
<rect x="91.53" y="384.07" width="27.96" height="3.25" rx="0.5" fill="#ffa44c" fill-opacity="0.9"/>
<rect x="103.25" y="385.51" width="34.27" height="2.53" rx="0.5" fill="#ffa850" fill-opacity="0.9"/>
<rect x="124" y="390.2" width="17.14" height="1.44" rx="0.5" fill="#ffb052" fill-opacity="0.9"/>
<rect x="143.84" y="394.35" width="27.96" height="2.71" rx="0.5" fill="#ffa248" fill-opacity="0.9"/>
<rect x="86.12" y="396.16" width="36.98" height="2.71" rx="0.5" fill="#ff9c46" fill-opacity="0.9"/>
<rect x="91.53" y="399.76" width="29.76" height="2.71" rx="0.5" fill="#ffa048" fill-opacity="0.9"/>
<rect x="135.72" y="399.76" width="19.84" height="2.71" rx="0.5" fill="#ffa048" fill-opacity="0.9"/>
<rect x="119.49" y="406.08" width="48.7" height="5.41" rx="1.2" fill="#f4683c" fill-opacity="0.9"/>
<rect x="126.7" y="406.8" width="23.45" height="3.97" rx="1" fill="#f04a30" fill-opacity="1"/>
<rect x="150.15" y="409.68" width="18.04" height="2.16" rx="0.5" fill="#f0643a" fill-opacity="0.9"/>
<rect x="86.12" y="412.03" width="58.62" height="1.8" rx="0.5" fill="#8c2c18" fill-opacity="1"/>
<rect x="126.7" y="412.57" width="18.04" height="1.98" rx="0.5" fill="#8c2c18" fill-opacity="1"/>
<rect x="100.5" y="419.7" width="83.3" height="2.4" rx="0.4" fill="#781212"/>
<rect x="156" y="420.8" width="30.2" height="2.2" rx="0.4" fill="#781212"/>
<rect x="132" y="420.5" width="14" height="4.7" rx="0.4" fill="#781212"/>
<rect x="136" y="425.1" width="50.2" height="1.1" rx="0.4" fill="#781212"/>
<rect x="146" y="426.3" width="40.2" height="3" rx="0.4" fill="#781212"/>
<rect x="152.5" y="425.8" width="23.5" height="4.2" rx="0.4" fill="#701010"/>
<rect x="134.82" y="437.14" width="11.72" height="1.44" rx="0.5" fill="#a04020" fill-opacity="1"/>
<rect x="121.29" y="440.2" width="14.43" height="1.44" rx="0.5" fill="#d07030" fill-opacity="1"/>
<rect x="88.82" y="440.74" width="28.86" height="6.31" rx="2" fill="#ffb862" fill-opacity="0.7"/>
<rect x="126.7" y="443.45" width="41.49" height="1.44" rx="0.5" fill="#f0a040" fill-opacity="0.9"/>
<rect x="142.94" y="445.25" width="10.82" height="1.44" rx="0.5" fill="#f0a040" fill-opacity="0.9"/>
<rect x="123.09" y="447.06" width="19.84" height="1.8" rx="0.5" fill="#ffb856" fill-opacity="0.7"/>
<rect x="92.43" y="449.76" width="28.86" height="4.51" rx="2" fill="#ffae50" fill-opacity="0.85"/>
<rect x="132.11" y="452.47" width="39.68" height="1.8" rx="0.5" fill="#ffc050" fill-opacity="0.6"/>
<rect x="128.51" y="462.39" width="14.43" height="1.8" rx="0.5" fill="#ffbc4e" fill-opacity="0.7"/>
<rect x="135.72" y="466" width="50.51" height="1.8" rx="0.5" fill="#ffbe4e" fill-opacity="0.6"/>
<rect x="128.51" y="472.31" width="12.63" height="1.8" rx="0.5" fill="#ffc050" fill-opacity="0.6"/>
<rect x="121.29" y="479.38" width="19.84" height="1.44" rx="0.5" fill="#ffc452" fill-opacity="0.6"/>
<rect x="130.31" y="488.94" width="19.84" height="1.44" rx="0.5" fill="#ffc452" fill-opacity="0.6"/>
<rect x="128.51" y="495.25" width="27.06" height="1.8" rx="0.5" fill="#ffc452" fill-opacity="0.6"/>
<rect x="128.51" y="501.57" width="21.65" height="1.8" rx="0.5" fill="#ffc452" fill-opacity="0.6"/>
<defs><linearGradient id="stemd" x1="0" y1="0" x2="0" y2="1"><stop offset="0" stop-color="#ffb050"/><stop offset="0.4" stop-color="#f08040"/><stop offset="0.62" stop-color="#a03018"/><stop offset="0.68" stop-color="#7a1212"/><stop offset="0.88" stop-color="#7a1212"/><stop offset="0.95" stop-color="#f09040"/><stop offset="1" stop-color="#ffb050"/></linearGradient></defs>
<rect x="134.3" y="372" width="1" height="76" fill="url(#stemd)"/>
<path d="M82.8 319H186.6" fill="none" stroke="#3a3020" stroke-width="0.9"/><path d="M186.6 319V526.6" fill="none" stroke="#1a1a1a" stroke-width="1.2"/>
<path d="M82.8 318.5V526.6H187.0" fill="none" stroke="#111" stroke-width="1.6"/>
<text x="79.4" y="322.3" text-anchor="end" font-size="7.5">200</text><line x1="82.8" y1="319" x2="84.3" y2="319" stroke="#333" stroke-width="0.6"/><text x="79.4" y="343.16" text-anchor="end" font-size="7.5">180</text><line x1="82.8" y1="339.86" x2="84.3" y2="339.86" stroke="#333" stroke-width="0.6"/><text x="79.4" y="364.03" text-anchor="end" font-size="7.5">160</text><line x1="82.8" y1="360.73" x2="84.3" y2="360.73" stroke="#333" stroke-width="0.6"/><text x="79.4" y="384.89" text-anchor="end" font-size="7.5">140</text><line x1="82.8" y1="381.59" x2="84.3" y2="381.59" stroke="#333" stroke-width="0.6"/><text x="79.4" y="405.76" text-anchor="end" font-size="7.5">120</text><line x1="82.8" y1="402.46" x2="84.3" y2="402.46" stroke="#333" stroke-width="0.6"/><text x="79.4" y="426.62" text-anchor="end" font-size="7.5">100</text><line x1="82.8" y1="423.32" x2="84.3" y2="423.32" stroke="#333" stroke-width="0.6"/><text x="79.4" y="447.49" text-anchor="end" font-size="7.5">80</text><line x1="82.8" y1="444.19" x2="84.3" y2="444.19" stroke="#333" stroke-width="0.6"/><text x="79.4" y="468.35" text-anchor="end" font-size="7.5">60</text><line x1="82.8" y1="465.05" x2="84.3" y2="465.05" stroke="#333" stroke-width="0.6"/><text x="79.4" y="489.21" text-anchor="end" font-size="7.5">40</text><line x1="82.8" y1="485.91" x2="84.3" y2="485.91" stroke="#333" stroke-width="0.6"/><text x="79.4" y="510.08" text-anchor="end" font-size="7.5">20</text><line x1="82.8" y1="506.78" x2="84.3" y2="506.78" stroke="#333" stroke-width="0.6"/><text x="79.4" y="529.9" text-anchor="end" font-size="7.5">1</text><line x1="82.8" y1="526.6" x2="84.3" y2="526.6" stroke="#333" stroke-width="0.6"/>
<text x="82.8" y="537.6" text-anchor="middle" font-size="7.5">1</text><line x1="82.8" y1="526.6" x2="82.8" y2="525.1" stroke="#333" stroke-width="0.6"/><text x="102.72" y="537.6" text-anchor="middle" font-size="7.5">20</text><line x1="102.72" y1="526.6" x2="102.72" y2="525.1" stroke="#333" stroke-width="0.6"/><text x="123.69" y="537.6" text-anchor="middle" font-size="7.5">40</text><line x1="123.69" y1="526.6" x2="123.69" y2="525.1" stroke="#333" stroke-width="0.6"/><text x="144.66" y="537.6" text-anchor="middle" font-size="7.5">60</text><line x1="144.66" y1="526.6" x2="144.66" y2="525.1" stroke="#333" stroke-width="0.6"/><text x="165.63" y="537.6" text-anchor="middle" font-size="7.5">80</text><line x1="165.63" y1="526.6" x2="165.63" y2="525.1" stroke="#333" stroke-width="0.6"/><text x="186.6" y="537.6" text-anchor="middle" font-size="7.5">100</text><line x1="186.6" y1="526.6" x2="186.6" y2="525.1" stroke="#333" stroke-width="0.6"/>
<text x="133.5" y="313" text-anchor="middle" font-size="7" textLength="99.7" lengthAdjust="spacingAndGlyphs">MEQ Intensity (All conductive)</text><text x="132.5" y="546" text-anchor="middle" font-size="7">X</text><text transform="translate(58.5,424.5) rotate(-90)" text-anchor="middle" font-size="7">Y</text>
<rect x="205.2" y="338.2" width="14.5" height="127.2" fill="url(#jet)" stroke="#555" stroke-width="0.6"/>
<text x="221" y="357.4" font-size="7.2" fill="#2a2c34">4000</text>
<text x="221" y="384.3" font-size="7.2" fill="#2a2c34">3000</text>
<text x="221" y="411.2" font-size="7.2" fill="#2a2c34">2000</text>
<text x="221" y="438.1" font-size="7.2" fill="#2a2c34">1000</text>
<text x="221" y="465.1" font-size="7.2" fill="#2a2c34">0</text>
</g>
<g id="pe">
<rect x="465.2" y="319.2" width="103.7" height="206.9" fill="#ff8345"/>
<defs><filter id="bl" x="-20%" y="-50%" width="140%" height="200%"><feGaussianBlur stdDeviation="0.5"/></filter><filter id="bl2" x="-30%" y="-60%" width="160%" height="220%"><feGaussianBlur stdDeviation="1.1"/></filter></defs>
<defs><linearGradient id="steme" x1="0" y1="0" x2="0" y2="1"><stop offset="0" stop-color="#e05038"/><stop offset="0.3" stop-color="#b03828"/><stop offset="0.38" stop-color="#641a16"/><stop offset="0.72" stop-color="#641a16"/><stop offset="0.8" stop-color="#b03020"/><stop offset="1" stop-color="#e04030"/></linearGradient></defs>
<rect x="517.1" y="338" width="1.2" height="165.5" fill="url(#steme)"/>
<rect x="511.41" y="342.27" width="19.84" height="2.53" rx="0.5" fill="#f04438" fill-opacity="0.55" filter="url(#bl)"/>
<rect x="517.72" y="342.63" width="12.63" height="1.8" rx="0.5" fill="#f04438" fill-opacity="0.9" filter="url(#bl)"/>
<rect x="512.31" y="348.22" width="16.23" height="1.44" rx="0.5" fill="#f04438" fill-opacity="0.8" filter="url(#bl)"/>
<rect x="514.11" y="352.19" width="7.22" height="0.9" rx="0.5" fill="#f04438" fill-opacity="0.6"/>
<rect x="514.11" y="355.79" width="8.12" height="0.9" rx="0.5" fill="#f04438" fill-opacity="0.6"/>
<rect x="515.02" y="358.86" width="6.31" height="0.72" rx="0.5" fill="#f04438" fill-opacity="0.5"/>
<rect x="511.41" y="366.08" width="8.12" height="1.44" rx="0.5" fill="#f04438" fill-opacity="0.8" filter="url(#bl)"/>
<rect x="517.72" y="369.32" width="9.02" height="1.8" rx="0.5" fill="#f04438" fill-opacity="0.8" filter="url(#bl)"/>
<rect x="511.41" y="377.26" width="21.65" height="4.15" rx="0.5" fill="#f04438" fill-opacity="0.6" filter="url(#bl)"/>
<rect x="514.11" y="377.98" width="17.14" height="2.89" rx="0.5" fill="#f04438" fill-opacity="0.9" filter="url(#bl)"/>
<rect x="514.11" y="383.21" width="6.31" height="0.9" rx="0.5" fill="#f04438" fill-opacity="0.6"/>
<rect x="513.21" y="390.05" width="9.02" height="1.26" rx="0.5" fill="#f04438" fill-opacity="0.5" filter="url(#bl)"/>
<rect x="498.78" y="399.25" width="39.68" height="1.8" rx="0.5" fill="#6c1c16" fill-opacity="1"/>
<rect x="514.11" y="398.89" width="24.35" height="2.53" rx="0.5" fill="#6c1c16" fill-opacity="1"/>
<rect x="473.53" y="401.23" width="25.25" height="1.26" rx="0.5" fill="#6c1c16" fill-opacity="0.9"/>
<rect x="473.53" y="401.05" width="12.63" height="1.8" rx="0.5" fill="#6c1c16" fill-opacity="1"/>
<rect x="508.7" y="404.84" width="17.14" height="6.31" rx="0.5" fill="#f04438" fill-opacity="0.8" filter="url(#bl2)"/>
<rect x="515.02" y="406.28" width="4.51" height="3.97" rx="0.5" fill="#8a1818" fill-opacity="1" filter="url(#bl)"/>
<rect x="513.21" y="412.96" width="8.12" height="1.26" rx="0.5" fill="#6c1c16" fill-opacity="0.9"/>
<rect x="506.9" y="420.35" width="33.37" height="4.69" rx="0.5" fill="#f04438" fill-opacity="0.35" filter="url(#bl2)"/>
<rect x="512.31" y="419.27" width="32.47" height="1.62" rx="0.5" fill="#6c1c16" fill-opacity="1"/>
<rect x="510.51" y="421.44" width="25.25" height="2.53" rx="0.5" fill="#6c1c16" fill-opacity="1"/>
<rect x="515.92" y="423.6" width="16.23" height="2.34" rx="0.5" fill="#6c1c16" fill-opacity="1"/>
<rect x="532.15" y="422.34" width="8.12" height="1.44" rx="0.5" fill="#6c1c16" fill-opacity="0.9"/>
<rect x="517.72" y="426.49" width="27.06" height="2.53" rx="0.5" fill="#6c1c16" fill-opacity="1"/>
<rect x="535.76" y="425.77" width="9.02" height="3.79" rx="0.5" fill="#7a1818" fill-opacity="1" filter="url(#bl)"/>
<rect x="533.96" y="425.77" width="15.33" height="3.97" rx="0.5" fill="#f04438" fill-opacity="0.5" filter="url(#bl2)"/>
<rect x="517.72" y="437.13" width="5.41" height="1.08" rx="0.5" fill="#f04438" fill-opacity="0.5"/>
<rect x="512.31" y="441.82" width="9.92" height="1.8" rx="0.5" fill="#f04438" fill-opacity="0.6" filter="url(#bl)"/>
<rect x="473.53" y="447.76" width="27.96" height="0.72" rx="0.5" fill="#ffa060" fill-opacity="0.7"/>
<rect x="501.49" y="447.58" width="16.23" height="1.62" rx="0.5" fill="#6c1c16" fill-opacity="1"/>
<rect x="512.31" y="449.02" width="21.65" height="1.44" rx="0.5" fill="#6c1c16" fill-opacity="1"/>
<rect x="513.21" y="452.27" width="9.92" height="1.26" rx="0.5" fill="#f04438" fill-opacity="0.6" filter="url(#bl)"/>
<rect x="517.72" y="462.55" width="8.12" height="1.26" rx="0.5" fill="#f04438" fill-opacity="0.8" filter="url(#bl)"/>
<rect x="517.72" y="465.61" width="17.14" height="2.89" rx="0.5" fill="#f04438" fill-opacity="0.9" filter="url(#bl)"/>
<rect x="512.31" y="466.7" width="5.41" height="1.08" rx="0.5" fill="#f04438" fill-opacity="0.7"/>
<rect x="513.21" y="470.66" width="7.22" height="1.26" rx="0.5" fill="#f04438" fill-opacity="0.7"/>
<rect x="512.31" y="473.37" width="10.82" height="0.9" rx="0.5" fill="#f04438" fill-opacity="0.6"/>
<rect x="514.11" y="476.8" width="7.22" height="0.72" rx="0.5" fill="#f04438" fill-opacity="0.5"/>
<rect x="514.11" y="478.78" width="7.22" height="0.72" rx="0.5" fill="#f04438" fill-opacity="0.5"/>
<rect x="517.72" y="486" width="11.72" height="1.26" rx="0.5" fill="#f04438" fill-opacity="0.7" filter="url(#bl)"/>
<rect x="513.21" y="489.6" width="8.12" height="1.8" rx="0.5" fill="#f04438" fill-opacity="0.8" filter="url(#bl)"/>
<rect x="512.31" y="493.21" width="9.92" height="0.9" rx="0.5" fill="#f04438" fill-opacity="0.6"/>
<rect x="517.72" y="500.74" width="23.45" height="1.26" rx="0.5" fill="#f04438" fill-opacity="0.9" filter="url(#bl)"/>
<rect x="509.6" y="502.01" width="11.72" height="1.44" rx="0.5" fill="#f04438" fill-opacity="0.9" filter="url(#bl)"/>
<path d="M465.2 319.2H568.9" fill="none" stroke="#3a2018" stroke-width="0.9"/><path d="M568.9 319.2V526.1" fill="none" stroke="#1a1a1a" stroke-width="1.3"/>
<path d="M465.2 318.7V526.1H569.3" fill="none" stroke="#111" stroke-width="1.6"/>
<text x="462.4" y="322.75" text-anchor="end" font-size="8.2">200</text><line x1="465.2" y1="319.2" x2="466.7" y2="319.2" stroke="#333" stroke-width="0.6"/><text x="462.4" y="343.55" text-anchor="end" font-size="8.2">180</text><line x1="465.2" y1="339.99" x2="466.7" y2="339.99" stroke="#333" stroke-width="0.6"/><text x="462.4" y="364.34" text-anchor="end" font-size="8.2">160</text><line x1="465.2" y1="360.79" x2="466.7" y2="360.79" stroke="#333" stroke-width="0.6"/><text x="462.4" y="385.13" text-anchor="end" font-size="8.2">140</text><line x1="465.2" y1="381.58" x2="466.7" y2="381.58" stroke="#333" stroke-width="0.6"/><text x="462.4" y="405.93" text-anchor="end" font-size="8.2">120</text><line x1="465.2" y1="402.38" x2="466.7" y2="402.38" stroke="#333" stroke-width="0.6"/><text x="462.4" y="426.72" text-anchor="end" font-size="8.2">100</text><line x1="465.2" y1="423.17" x2="466.7" y2="423.17" stroke="#333" stroke-width="0.6"/><text x="462.4" y="447.52" text-anchor="end" font-size="8.2">80</text><line x1="465.2" y1="443.96" x2="466.7" y2="443.96" stroke="#333" stroke-width="0.6"/><text x="462.4" y="468.31" text-anchor="end" font-size="8.2">60</text><line x1="465.2" y1="464.76" x2="466.7" y2="464.76" stroke="#333" stroke-width="0.6"/><text x="462.4" y="489.1" text-anchor="end" font-size="8.2">40</text><line x1="465.2" y1="485.55" x2="466.7" y2="485.55" stroke="#333" stroke-width="0.6"/><text x="462.4" y="509.9" text-anchor="end" font-size="8.2">20</text><line x1="465.2" y1="506.35" x2="466.7" y2="506.35" stroke="#333" stroke-width="0.6"/><text x="462.4" y="529.65" text-anchor="end" font-size="8.2">1</text><line x1="465.2" y1="526.1" x2="466.7" y2="526.1" stroke="#333" stroke-width="0.6"/>
<text x="465.2" y="537.7" text-anchor="middle" font-size="8.2">1</text><line x1="465.2" y1="526.1" x2="465.2" y2="524.6" stroke="#333" stroke-width="0.6"/><text x="485.1" y="537.7" text-anchor="middle" font-size="8.2">20</text><line x1="485.1" y1="526.1" x2="485.1" y2="524.6" stroke="#333" stroke-width="0.6"/><text x="506.05" y="537.7" text-anchor="middle" font-size="8.2">40</text><line x1="506.05" y1="526.1" x2="506.05" y2="524.6" stroke="#333" stroke-width="0.6"/><text x="527" y="537.7" text-anchor="middle" font-size="8.2">60</text><line x1="527" y1="526.1" x2="527" y2="524.6" stroke="#333" stroke-width="0.6"/><text x="547.95" y="537.7" text-anchor="middle" font-size="8.2">80</text><line x1="547.95" y1="526.1" x2="547.95" y2="524.6" stroke="#333" stroke-width="0.6"/><text x="568.9" y="537.7" text-anchor="middle" font-size="8.2">100</text><line x1="568.9" y1="526.1" x2="568.9" y2="524.6" stroke="#333" stroke-width="0.6"/>
<text x="515.8" y="312.6" text-anchor="middle" font-size="8" textLength="123.6" lengthAdjust="spacingAndGlyphs">MEQ Intensity (Partly conductive)</text><text x="514" y="548" text-anchor="middle" font-size="7">X</text><text transform="translate(444.5,424.5) rotate(-90)" text-anchor="middle" font-size="7">Y</text>
<rect x="583" y="338" width="12.8" height="126.8" fill="url(#jet)" stroke="#555" stroke-width="0.6"/>
<rect x="583.3" y="462.6" width="12.2" height="2" fill="#d8d8e0"/>
<text x="596.8" y="342.4" font-size="8" fill="#24262c">4000</text>
<text x="596.8" y="374" font-size="8" fill="#24262c">3000</text>
<text x="596.8" y="405.5" font-size="8" fill="#24262c">2000</text>
<text x="596.8" y="437.4" font-size="8" fill="#24262c">1000</text>
<text x="596.8" y="469.5" font-size="8" fill="#24262c">0</text>
</g>
</svg>
<div class="h" style="left:34.5px;top:3.5px">(a) Complex fracture network</div>
<div class="h" style="left:215px;top:3.5px">(b) Spatiotemporal microseismic data</div>
<div class="h" style="left:433.5px;top:3.5px">(c) Partly conductive elements</div>
<div class="h" style="left:16px;top:279.5px">(d) Microseismic intensity (all conductive fractures)</div>
<div class="h" style="left:320px;top:279.5px">(e) Microseismic intensity (partly conductive elements)</div>
<div class="cap" style="top:555.9px"><b>Figure 3.</b> Microseismic data for naturally fractured formations; The figures show the microseismic response for fully conductive or propped open (left) and partly conductive (right) fractures.</div>
</body></html>
